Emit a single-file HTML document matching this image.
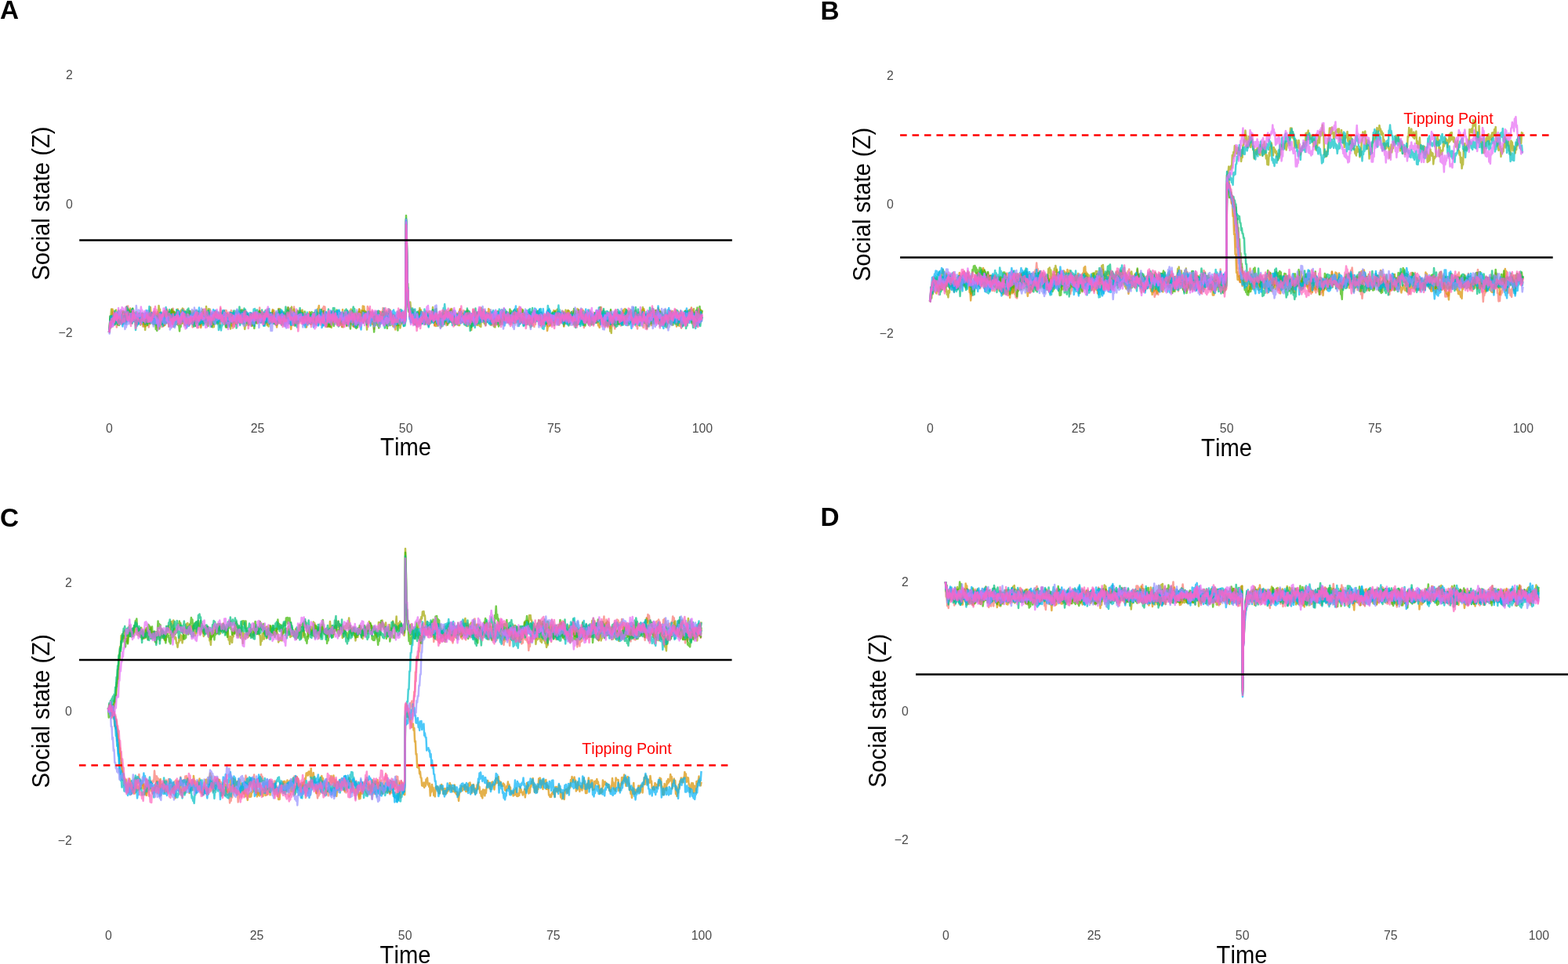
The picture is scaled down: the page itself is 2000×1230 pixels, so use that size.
<!DOCTYPE html>
<html lang="en"><head><meta charset="utf-8"><title>Social state simulations</title>
<style>
html,body{margin:0;padding:0;background:#fff}
body{width:2000px;height:1230px;overflow:hidden}
svg{display:block;font-family:"Liberation Sans", sans-serif;font-kerning:none}
.tr path{fill:none;stroke-width:2.50px;stroke-opacity:.7;stroke-linejoin:round;stroke-linecap:butt;vector-effect:non-scaling-stroke}
.tk{font-size:15.85px;fill:#4d4d4d}
.ax{font-size:29.2px;fill:#000;font-kerning:none}
.lab{font-size:33.3px;font-weight:bold;fill:#000}
.tp{font-size:19.6px;fill:#ff0000;font-kerning:none}
.hk{stroke:#000;stroke-width:2.55px;fill:none}
.hr{stroke:#ff0000;stroke-width:2.55px;fill:none;stroke-dasharray:8.6 6.85}
</style></head>
<body>
<svg width="2000" height="1230" viewBox="0 0 2000 1230">
<rect width="2000" height="1230" fill="#fff"/>
<g id="panelA">
<g class="tr" transform="translate(139.00 259.60) scale(0.7565 0.50)">
<path stroke="#F8766D" d="M0 329l1-8 1-30 1 2 1-4 1 14 1-11 1 3 1-6 1 10 1-10 1 13 1-3 1 17 1-20 1 2 1-25 1 7 1-5 1 22 1-7 1 8 1-4 1 9 1-28 1 19 1-5 1 4 1-11 1 9 1-28 1 10 1-11 1 25 1-7 1 10 1-12 1 8 1-9 1 21 1-14 1 6 1-2 1 11 1-3 1 6 1-14 1 3 1 0 1 14 1-13 1 6 1-9 1 13 1-13 1 10 1-5 1 20 1-16 1 10 1-26 1 2 1-5 1 17 1-9 1 13 1-1 1 17 1-16 1 8 1-15 1 9 1-10 1 10 1-21 1 21 1-19 1 15 1-8 1 18 1-4 1 12 1-29 1 14 1-16 1 4 1-5 1 13 1-18 1 36 1-4 1 3 1-27 1 15 1-4 1 12 1-9 1 0 1-31 1 9 1-2 1 13 1 0 1 8 1-15 1 16 1-27 1 2 1-6 1 30 1-6 1 0 1-13 1 6 1-5 1 8 1-13 1 13 1-9 1 17 1-21 1 19 1-3 1 6 1-22 1 10 1-15 1 21 1-16 1 20 1-12 1 6 1-5 1 2 1-13 1 7 1 0 1 13 1-6 1 20 1-7 1 16 1-17 1 8 1-12 1 5 1-6 1 19 1-18 1 22 1-9 1 9 1-16 1 1 1-8 1 19 1-30 1 5 1-1 1 7 1-17 1 6 1-6 1 22 1-13 1 7 1-7 1 6 1-13 1 18 1-16 1 4 1-6 1 10 1-3 1 9 1-14 1 13 1-18 1 7 1-6 1 25 1-18 1 7 1-12 1 19 1-9 1 0 1-21 1 15 1-3 1 18 1-10 1 5 1-11 1 3 1-12 1 6 1-6 1 10 1-1 1 16 1 0 1 13 1-27 1 4 1-15 1 16 1-5 1 34 1-14 1 11 1-10 1 2 1-12 1 0 1-15 1 11 1-9 1 17 1-16 1 11 1-12 1 14 1-11 1 13 1-6 1 14 1-23 1 6 1-13 1 12 1-11 1 11 1-5 1 20 1-3 1 3 1-5 1 6 1-6 1 3 1-7 1 9 1-8 1 7 1-11 1 7 1-12 1 18 1-21 1 13 1-12 1 5 1-23 1 27 1-5 1 7 1-16 1 11 1-8 1 23 1-12 1 13 1-17 1 12 1-6 1 14 1-9 1 3 1-10 1 12 1-22 1 18 1-22 1 16 1-7 1 11 1-11 1 18 1-23 1 6 1-1 1 11 1-3 1 0 1-26 1 7 1-6 1 14 1-9 1 24 1-11 1 7 1-3 1 2 1-5 1 14 1-5 1 8 1-18 1 5 1-29 1 18 1 0 1 9 1-5 1 14 1-8 1 6 1-16 1 5 1-24 1 26 1-2 1 10 1-11 1 14 1-24 1 22 1-20 1 7 1-13 1 18 1-17 1 10 1-1 1 15 1-11 1 17 1-16 1 15 1-9 1 10 1-14 1 0 1-8 1 11 1-4 1 19 1-22 1 7 1-10 1 3 1-1 1 11 1-9 1 16 1-2 1 6 1-15 1 2 1-16 1 11 1-5 1 8 1-10 1 10 1-10 1 3 1-17 1 9 1-14 1 18 1-17 1 24 1-3 1 14 1 0 1 15 1-25 1 0 1-11 1 21 1-6 1 3 1-20 1 10 1-9 1 13 1-6 1 18 1-11 1 12 1-13 1 14 1-5 1 2 1-11 1 19 1-8 1 3 1-15 1 26 1-5 1 6 1-15 1 8 1-20 1 2 1-6 1 28 1-22 1 3 1-9 1 0 1-11 1 15 1-6 1 26 1-8 1 12 1-13 1 15 1-22 1 1 1-9 1 6 1-9 1 18 1-20 1 1 1-11 1 11 1-2 1 5 1-6 1 10 1-13 1 13 1-2 1 9 1-12 1 7 1-13 1 15 1-29 1 15 1-10 1 20 1-11 1 25 1-7 1 13 1-15 1 15 1-1 1 14 1-18 1 7 1-17 1 1 1-18 1 22 1-18 1 14 1-3 1 0 1-14 1 14 1-15 1 13 1-22 1 8 1-4 1 25 1-11 1 11 1-21 1 22 1 0 1 15 1-12 1 6 1-9 1 3 1-11 1 12 1-18 1 4 1-3 1 30 1-8 1 1 1-7 1 0 1-4 1 10 1-15 1 13 1-19 1 14 1-11 1 4 1-3 1 12 1-12 1 6 1-15 1 12 1-4 1-244 1 66 1 125 1 0 1 28 1-1 1 27 1-13 1 16 1-11 1 12 1-18 1 14 1-18 1 20 1-6 1 16 1-8 1 14 1-17 1 5 1-12 1 9 1-20 1 18 1-6 1 19 1-22 1 13 1-3 1 15 1-11 1 14 1-21 1 4 1-17 1 14 1-9 1 6 1-3 1 8 1-5 1 8 1-15 1 16 1-4 1 8 1-6 1 19 1-15 1 5 1-10 1 9 1-10 1 8 1-2 1 12 1-3 1 11 1-25 1 5 1-6 1 18 1-16 1 9 1-7 1 12 1 0 1 4 1-14 1 0 1-7 1 16 1-16 1 8 1-29 1 15 1-7 1 14 1-6 1 21 1-11 1 4 1-2 1 4 1-21 1 22 1-17 1 12 1-21 1 3 1-10 1 21 1-6 1 5 1-6 1 12 1-22 1 11 1-8 1 16 1-10 1 20 1-9 1 7 1-18 1 9 1-13 1 17 1-8 1 11 1-16 1 5 1-17 1 12 1-6 1 35 1-6 1 4 1-25 1 12 1-19 1 17 1-16 1 13 1 0 1 9 1-14 1 3 1-18 1 19 1-2 1 10 1-10 1 5 1-14 1 14 1-15 1 21 1-10 1 9 1-13 1 16 1 0 1 10 1-17 1 13 1-20 1 14 1-23 1 18 1-16 1 5 1-9 1 8 1-1 1 20 1-15 1 16 1-13 1 3 1-4 1 9 1-13 1 13 1-3 1 1 1-15 1 10 1-12 1 15 1-2 1 9 1-11 1 11 1-21 1 11 1-7 1 7 1-5 1 6 1-9 1 15 1-16 1 22 1-2 1 1 1-23 1 16 1-28 1 9 1-14 1 17 1-13 1 29 1-14 1 8 1-8 1 18 1-16 1 3 1-4 1 13 1-16 1 13 1-4 1 9 1-17 1 13 1-3 1 13 1-18 1 13 1-13 1 16 1-2 1 14 1-21 1 15 1-31 1 3 1-2 1 14 1-13 1 12 1-10 1 15 1-17 1 14 1-15 1 21 1-2 1 8 1-10 1 8 1-18 1 20 1-16 1 22 1-21 1 16 1-7 1 10 1-3 1 4 1-21 1 2 1-4 1 15 1-13 1 9 1-8 1 8 1-11 1 6 1-15 1 10 1-1 1 11 1-18 1 6 1-7 1 13 1-19 1 19 1-1 1 21 1-19 1 5 1-15 1 14 1-11 1 9 1-17 1 11 1-3 1 23 1-20 1 6 1-19 1 9 1-11 1 14 1-5 1 13 1-10 1 9 1-9 1 0 1-7 1 5 1-9 1 24 1-12 1 4 1-22 1 12 1-12 1 30 1-5 1 22 1-23 1 8 1-19 1 13 1-14 1 13 1-13 1 3 1-13 1 4 1 0 1 10 1-5 1 13 1-4 1 0 1-11 1 10 1-9 1 7 1-1 1 19 1-19 1 1 1-7 1 11 1-21 1 6 1-11 1 26 1 0 1 4 1-10 1 9 1-4 1 16 1-8 1 3 1-23 1 21 1-4 1 16 1-4 1 12 1-26 1 4 1-11 1 15 1-12 1 20 1-2 1 13 1-15 1 2 1-11 1 11 1-15 1 16 1-18 1 19 1-6 1 9 1-13 1 10 1-32 1 24 1-11 1 15 1-8 1 0 1-13 1 22 1 0 1 5 1-11 1 7 1-17 1 13 1-9 1 5 1-19 1 15 1-13 1 11 1-17 1 9 1-12 1 40 1-8 1 15 1-23 1 10 1-8 1 8 1-14 1 3 1-2 1 16 1-3 1 10 1-20 1 7 1-21 1 7 1-2 1 3 1-9 1 14 1-4 1 12 1-24 1 13 1-7 1 12 1-2 1 11 1-13 1 14 1-18 1 6 1-8 1 8 1-12 1 9 1-2 1 11 1-15 1 13 1-5 1 11 1-14 1 2 1-5 1 10 1-13 1 4 1-11 1 26 1-2 1 14 1-29 1 7 1-11 1 11 1-10 1 21 1-11 1 0 1-5 1 9 1-4 1 8 1-17 1 3 1-8 1 25 1-9 1 1 1-7 1 15 1-25 1 21 1-10 1 2 1-3 1 17 1-21 1 8 1-5 1 10 1-15 1 11 1-15 1 13 1-5 1 15 1-12 1 3 1-20 1 11 1-13 1 14 1-15 1 12 1-5 1 18 1-3 1 0 1-10 1 6 1-1 1 26 1-22 1 15 1-21 1 3 1-5 1 3 1-3"/>
<path stroke="#D89000" d="M0 329l1-7 1-12 1 7 1-21 1 10 1-36 1 8 1-3 1 12 1-3 1 12 1-11 1 4 1-4 1 17 1-15 1 7 1-11 1 9 1-13 1 10 1-14 1 6 1-6 1 20 1-13 1 4 1-5 1 22 1-20 1 2 1-14 1 9 1-5 1 4 1-11 1 33 1-17 1 14 1-28 1 22 1-9 1 8 1-7 1 26 1-11 1 6 1-12 1 11 1-12 1 6 1-12 1 4 1-6 1 19 1-7 1 12 1-11 1 12 1-13 1 18 1-25 1 23 1-11 1 1 1-22 1 6 1-12 1 10 1-19 1 21 1-4 1 10 1-3 1 18 1-28 1 13 1-14 1 18 1-4 1 10 1-25 1 22 1-3 1 10 1-15 1 11 1-3 1 6 1-13 1 10 1-7 1 17 1-11 1 0 1-17 1 14 1-9 1 10 1 0 1 14 1-4 1 2 1-27 1 10 1-21 1 8 1-7 1 8 1-6 1 19 1-8 1 15 1-17 1 1 1-16 1 25 1-15 1 17 1-9 1 11 1-11 1 9 1-16 1 25 1-3 1 7 1-14 1 2 1-12 1 6 1-4 1 16 1-19 1 2 1-12 1 12 1-8 1 17 1-14 1 12 1-20 1 33 1-11 1 17 1-17 1 10 1-3 1 0 1-10 1 6 1-17 1 21 1-10 1 24 1-18 1 0 1-7 1 10 1-14 1 12 1-14 1 17 1-23 1 16 1-15 1 25 1-13 1 6 1-13 1 13 1-7 1 18 1-13 1 13 1-24 1 8 1-8 1 6 1-11 1 13 1-3 1 8 1-4 1 10 1-10 1 5 1-15 1 1 1-7 1 4 1-8 1 13 1-14 1 22 1-1 1 3 1-15 1 12 1-13 1 16 1-10 1 14 1-8 1 4 1-7 1 21 1-17 1 13 1-10 1 8 1-24 1 7 1-12 1 11 1-13 1 18 1-7 1 11 1 0 1 10 1-15 1 5 1-26 1 16 1-6 1 12 1-6 1 8 1-19 1 22 1-13 1 17 1-5 1 14 1-8 1 2 1-13 1 8 1-18 1 7 1-4 1 20 1-12 1 20 1-16 1 8 1-22 1 14 1-11 1 19 1-28 1 5 1-8 1 28 1-15 1 5 1-5 1 17 1-10 1 2 1-12 1 5 1-2 1 18 1-17 1 11 1-10 1 7 1-18 1 14 1-11 1 5 1-4 1 9 1-20 1 12 1-10 1 16 1-5 1 25 1-11 1 18 1-17 1 3 1-6 1 8 1-6 1 2 1-13 1 14 1-12 1 13 1-25 1 16 1-6 1 4 1-1 1 7 1-25 1 28 1-1 1 5 1-17 1 13 1-1 1 22 1-20 1 9 1-13 1 8 1-10 1 5 1-7 1 6 1-1 1 6 1-6 1 3 1-19 1 11 1-17 1 16 1-4 1 9 1-5 1 6 1-8 1 9 1-7 1 15 1-16 1 25 1-10 1 2 1-20 1 1 1-12 1 21 1-8 1 19 1-16 1 0 1-3 1 7 1-18 1 16 1-4 1 8 1-12 1 15 1-33 1 0 1-8 1 19 1-3 1 9 1-8 1 9 1-7 1 17 1-12 1 19 1-13 1 10 1 0 1 7 1-8 1 9 1-7 1 13 1-27 1 3 1-13 1 13 1-8 1 14 1-1 1 4 1-3 1 11 1-19 1 4 1-8 1 24 1-16 1 14 1-7 1 11 1-14 1 12 1-19 1 7 1-26 1 22 1-6 1 3 1-11 1 13 1-6 1 17 1-5 1 6 1-20 1 19 1-12 1 16 1-24 1 6 1-15 1 20 1-3 1 22 1-15 1 10 1-23 1 13 1-20 1 7 1-8 1 15 1-22 1 14 1-4 1 16 1-16 1 14 1-32 1 14 1-13 1 19 1-5 1 20 1-9 1 12 1-18 1 10 1 0 1 10 1-20 1 13 1-1 1 10 1-9 1 13 1-15 1 1 1-16 1 16 1-11 1 17 1-8 1 0 1-17 1 18 1-18 1 20 1-10 1 18 1-13 1 6 1-7 1 7 1-4 1 7 1-10 1 8 1-8 1 4 1-9 1 14 1-3 1 13 1-11 1 4 1-14 1 11 1-5 1 21 1-11 1 2 1-15 1 32 1-21 1 0 1-5 1 15 1-6 1 5 1-9 1 3 1-15 1 15 1-7 1 3 1-11 1 17 1-17 1 16 1-20 1-244 1 55 1 130 1-1 1 37 1-3 1 28 1 0 1 7 1-20 1 21 1-10 1 15 1 0 1 7 1-6 1 7 1-19 1 8 1-4 1 7 1-19 1 16 1-15 1 4 1-14 1 22 1-11 1 13 1-10 1 15 1-14 1 11 1-16 1 14 1-10 1 5 1-12 1 0 1-4 1 17 1-7 1 10 1-2 1 4 1-24 1 27 1-13 1 24 1-17 1 19 1-5 1 4 1-18 1 7 1-17 1 17 1-7 1 12 1-7 1 1 1-17 1 12 1-13 1 18 1-14 1 7 1-4 1 16 1-15 1 14 1-3 1 3 1-12 1 3 1-17 1 13 1-11 1 14 1-4 1 9 1-12 1 24 1-13 1 10 1-25 1 4 1-6 1 12 1-9 1 4 1-18 1 22 1-14 1 19 1-10 1 14 1-12 1 3 1-6 1 13 1-18 1 9 1-18 1 24 1-5 1 10 1-15 1 7 1-10 1 20 1-13 1 10 1-8 1 4 1-15 1 19 1-12 1 15 1-23 1 7 1-2 1 8 1-9 1 2 1-11 1 21 1-22 1 14 1-7 1 17 1-2 1 2 1-22 1 5 1-3 1 21 1-5 1 0 1-25 1 7 1-5 1 24 1 0 1 2 1-12 1 9 1-8 1 15 1-8 1 10 1-7 1 10 1-12 1 15 1-21 1 12 1-17 1 18 1-3 1 5 1-11 1 10 1-11 1 6 1-2 1 7 1-9 1 2 1-17 1 7 1-7 1 26 1-4 1 4 1-14 1 18 1-12 1 7 1-19 1 3 1-6 1 23 1-15 1 3 1-3 1 14 1-33 1 18 1-10 1 31 1-23 1 20 1-7 1 1 1-30 1 16 1-11 1 19 1-7 1 18 1-7 1 10 1-6 1 5 1-22 1 8 1-11 1 11 1-13 1 8 1-10 1 24 1-18 1 7 1-16 1 18 1-10 1 2 1-8 1 12 1-5 1 15 1 0 1 8 1-21 1 10 1 0 1 12 1-9 1 1 1-13 1 9 1-1 1 4 1-8 1 7 1-9 1 36 1-11 1 0 1-16 1 15 1-11 1 6 1-20 1 5 1-3 1 7 1-24 1 13 1-8 1 10 1-3 1 14 1-8 1 15 1-16 1 9 1-9 1 6 1 0 1 6 1-25 1 12 1-13 1 11 1-4 1 2 1-4 1 9 1-9 1 3 1-11 1 16 1-3 1 2 1-8 1 19 1-6 1 5 1-17 1 28 1-10 1 2 1-15 1 11 1-20 1 16 1-24 1 15 1-6 1 17 1-15 1 17 1-14 1 8 1-7 1 5 1-15 1 10 1-7 1 21 1-19 1 8 1-8 1 14 1-5 1 9 1-13 1 18 1-10 1 14 1-13 1 12 1-18 1 15 1-13 1 9 1-9 1 8 1-11 1 12 1-1 1 15 1-3 1 8 1-12 1 0 1-16 1 17 1-15 1 0 1-10 1 15 1-10 1 3 1-6 1 20 1-6 1 11 1-18 1 13 1-17 1 9 1-21 1 20 1-2 1 16 1-23 1 20 1-12 1 9 1-19 1 14 1-1 1 10 1-24 1 15 1-14 1 7 1-12 1 14 1-11 1 18 1-16 1 6 1-18 1 7 1-9 1 8 1-6 1 27 1-3 1 3 1-1 1 8 1-5 1 1 1-19 1 13 1-14 1 2 1-6 1 21 1-16 1 18 1-12 1 4 1-3 1 13 1-17 1 8 1-6 1 16 1-16 1 8 1-7 1 0 1-18 1 3 1-4 1 34 1-18 1 3 1-5 1 14 1-16 1 5 1-5 1 9 1-3 1 17 1-25 1 32 1-16 1 4 1-13 1 4 1-2 1 8 1-7 1 4 1-15 1 5 1-16 1 17 1-12 1 15 1 0 1 15 1-8 1 7 1-11 1 18 1-15 1 4 1-3 1 12 1-8 1 2 1-10 1 15 1-12 1 12 1-11 1 7 1-3 1 12 1-16 1 9 1-17 1 14 1-10 1 8 1-8 1 24 1-19 1 5 1-16 1 28 1-10 1 11 1-8 1 13 1-26 1 12 1-18 1 8 1-10 1 4 1-14 1 14 1-1 1 12 1-7 1 3 1-23 1 14 1-15 1 10 1-15 1 13 1-1 1 20 1-11 1 13 1-9 1 9 1-11 1 0 1-7 1 10 1-19 1 11 1 0 1 2 1-14 1 9 1-7"/>
<path stroke="#A3A500" d="M0 329l1-3 1-38 1 1 1-19 1 15 1-7 1 22 1-10 1 3 1-8 1 22 1-35 1 16 1-8 1 22 1-13 1 13 1-11 1 12 1-14 1 0 1-13 1 14 1-5 1 10 1-3 1 9 1-10 1 12 1-10 1 1 1-7 1 1 1-10 1 14 1-8 1 4 1-4 1 22 1-24 1 17 1-16 1 4 1-8 1 5 1-7 1 21 1-16 1 9 1-8 1 14 1-5 1 18 1-9 1 5 1-25 1 7 1 0 1 26 1-10 1 19 1-22 1 0 1-22 1 15 1 0 1 6 1-17 1 12 1-14 1 22 1-8 1 6 1-17 1 8 1 0 1 6 1-14 1 10 1-12 1 4 1-4 1 2 1-23 1 10 1-1 1 31 1-7 1 15 1-10 1 4 1-5 1 13 1-14 1 9 1-29 1 3 1-7 1 18 1-4 1 27 1-38 1 23 1-2 1 0 1-17 1 22 1-11 1 12 1-2 1 5 1-12 1 14 1-15 1 15 1-24 1 9 1-3 1 14 1-19 1 8 1-21 1 8 1-12 1 19 1-12 1 19 1 0 1 16 1-12 1 5 1-5 1 10 1-21 1 12 1-15 1 9 1-18 1 11 1-2 1 10 1-15 1 14 1-16 1 4 1-1 1 17 1-10 1 5 1-7 1 19 1-7 1 9 1-7 1 6 1-29 1 14 1-5 1 11 1-5 1 2 1-3 1 3 1-30 1 20 1-8 1 6 1-12 1 12 1-11 1 28 1-10 1 13 1-8 1 23 1-2 1 1 1-29 1 7 1-15 1 16 1-7 1 21 1-28 1 20 1-4 1 20 1-23 1 7 1-13 1 8 1-7 1 13 1-11 1 7 1-7 1 13 1-21 1 34 1-17 1 3 1-11 1 9 1-3 1 23 1-11 1 3 1-18 1 4 1-4 1 6 1-10 1 4 1-3 1 17 1-17 1 14 1-13 1 11 1-19 1 8 1-19 1 11 1-3 1 22 1-6 1 12 1-4 1 16 1-13 1 3 1-13 1 0 1-14 1 26 1-19 1 15 1-6 1 10 1-9 1 12 1-29 1 8 1-12 1 20 1-8 1 1 1-11 1 16 1-17 1 23 1-5 1 0 1-6 1 9 1-14 1 2 1-5 1 10 1-10 1 9 1-6 1 20 1-10 1 5 1-25 1 33 1-8 1 11 1-21 1 14 1-15 1 0 1-11 1 8 1-15 1 21 1-16 1 27 1-10 1 2 1-20 1 5 1-3 1 3 1-14 1 1 1-1 1 26 1-10 1 25 1-20 1 7 1-6 1 17 1-19 1 10 1-14 1 15 1-17 1 17 1-9 1 16 1-31 1 11 1-17 1 2 1-8 1 23 1-11 1 6 1-12 1 17 1-5 1 17 1-21 1 2 1-7 1 11 1-7 1 13 1-15 1 19 1-15 1 3 1-10 1 12 1 0 1 23 1-22 1 21 1-20 1 8 1-11 1 17 1-7 1 2 1-9 1 16 1-14 1 9 1-2 1 2 1-13 1 23 1-4 1 2 1-12 1 16 1-8 1 4 1-14 1 10 1-16 1 8 1-2 1 9 1-8 1 9 1-18 1 9 1-13 1 11 1-7 1 20 1-4 1 16 1-20 1 10 1-5 1 12 1-10 1 12 1-5 1 8 1-33 1 18 1-15 1 6 1-16 1 19 1-9 1 8 1-9 1 12 1-4 1 13 1-5 1 4 1-10 1 12 1-6 1 13 1-22 1 7 1-12 1 10 1-8 1 10 1-7 1 12 1-31 1 12 1-8 1 20 1-15 1 18 1-31 1 18 1-12 1 9 1-4 1 33 1-14 1 16 1-14 1 5 1-20 1 12 1-16 1 11 1-18 1 10 1-3 1 7 1-17 1 18 1-9 1 8 1-16 1 15 1-14 1 18 1 0 1 29 1-24 1 2 1-14 1 4 1-13 1 17 1-15 1 21 1-7 1 3 1-1 1 14 1-12 1 8 1-10 1 6 1-11 1 8 1-9 1 23 1-13 1 3 1-12 1 4 1-14 1 9 1-12 1 16 1-11 1 17 1-18 1 17 1-8 1 12 1-11 1 13 1-28 1 5 1-9 1 18 1 0 1 17 1-18 1 11 1-2 1 7 1-5 1 7 1-11 1 15 1-21 1 12 1-5 1 8 1-4 1 17 1-10 1 0 1-11 1 3 1-8 1 10 1-6 1 2 1-13 1-236 1 56 1 126 1-1 1 46 1-7 1 11 1-28 1 20 1-5 1 8 1-4 1 33 1-10 1 8 1-10 1 8 1-3 1 16 1-17 1 3 1-24 1 12 1-20 1 17 1-3 1 24 1-13 1 8 1-13 1 11 1-8 1 3 1-17 1 26 1-23 1 29 1-9 1 5 1-18 1 14 1-16 1 1 1-9 1 11 1-22 1 18 1-3 1 15 1-10 1 4 1 0 1 19 1-12 1 0 1-11 1 20 1-19 1 10 1-14 1 7 1-6 1 5 1-13 1 17 1-16 1 13 1-11 1 8 1-9 1 22 1-22 1 1 1-4 1 12 1-14 1 12 1-15 1 19 1-5 1 19 1-12 1 2 1-1 1 8 1-7 1 14 1-10 1 15 1-5 1 5 1-19 1 11 1-2 1 3 1-23 1 20 1-16 1 10 1-3 1 19 1-26 1 13 1-14 1 29 1-21 1 0 1-3 1 19 1-13 1 28 1-30 1 12 1-9 1 6 1-14 1 4 1-7 1 17 1-7 1 16 1-5 1 3 1-4 1 8 1-7 1 9 1-48 1 15 1-1 1 22 1-8 1 12 1-6 1 0 1-18 1 16 1-17 1 15 1-4 1 7 1-8 1 11 1-15 1 20 1-5 1 4 1-9 1 0 1-11 1 29 1-29 1 7 1-7 1 6 1-18 1 13 1-10 1 15 1-14 1 22 1-17 1 10 1-5 1 0 1-9 1 25 1-11 1 8 1-13 1 3 1-5 1 13 1-4 1 9 1-13 1 0 1-5 1 7 1-11 1 20 1-7 1 10 1-19 1 8 1-20 1 16 1-5 1 9 1-6 1 10 1-11 1 2 1-10 1 13 1-14 1 11 1-10 1 26 1-13 1 2 1-2 1 10 1-16 1 3 1-6 1 15 1-6 1 7 1-23 1 21 1-8 1 23 1-24 1 13 1-9 1 3 1-16 1 14 1-2 1 7 1-20 1 2 1-7 1 22 1-8 1 14 1-9 1 3 1-11 1 12 1-7 1 11 1-10 1 9 1-5 1 14 1-10 1 6 1-9 1 7 1-23 1 13 1-11 1 12 1-9 1 10 1-14 1 22 1-7 1 7 1-28 1 16 1-18 1 3 1-6 1 17 1-11 1 34 1-20 1 6 1-9 1 9 1-15 1 17 1-3 1 19 1-10 1 3 1-35 1 8 1-1 1 9 1-15 1 10 1-8 1 13 1-7 1 15 1-11 1 13 1-7 1 2 1-16 1 4 1-7 1 35 1-7 1 9 1-8 1 5 1-14 1 2 1 0 1 6 1-11 1 2 1-16 1 20 1-4 1 9 1-15 1 15 1-12 1 13 1-10 1 8 1-9 1 16 1-8 1 6 1-19 1 7 1-2 1 17 1-18 1 18 1-18 1 6 1-18 1 11 1-5 1 14 1-5 1 6 1-13 1 11 1-14 1 22 1-6 1 3 1-22 1 2 1-10 1 15 1-11 1 19 1-15 1 11 1-10 1 17 1-8 1 8 1-7 1 34 1-9 1 14 1-33 1 0 1-11 1 10 1-11 1 10 1-4 1 7 1-5 1 14 1-28 1 27 1-8 1 9 1-8 1 0 1-19 1 5 1-12 1 21 1 0 1 0 1-10 1 11 1-13 1 3 1-11 1 20 1-7 1 9 1-4 1 8 1-17 1 15 1-12 1 22 1-13 1 8 1-22 1 10 1-3 1 14 1-17 1 16 1-13 1 3 1-14 1 20 1-12 1 0 1-13 1 13 1-21 1 14 1-6 1 20 1 0 1 9 1-3 1 13 1-14 1 14 1-13 1 13 1-19 1 2 1-10 1 16 1-10 1 11 1-22 1 14 1-10 1 2 1-13 1 16 1-6 1 16 1-16 1 9 1-14 1 3 1-4 1 16 1-3 1 15 1-21 1 13 1-3 1 19 1-27 1 14 1-15 1 10 1-4 1 2 1-17 1 19 1-7 1 17 1-25 1 12 1-17 1 17 1-12 1 19 1-11 1 3 1-19 1 18 1-6 1 8 1-16 1 10 1-4 1 12 1-4 1 12 1-15 1 23 1-24 1 7 1-10 1 19 1-27 1 18 1-7 1 12 1-16 1 20 1-12 1 7 1-13 1 9 1-6 1 19 1-16 1 1 1-22 1 21 1-2 1 19 1-9 1 14 1-24 1 10 1-8 1 17 1-23 1 15 1-13 1 7 1-4"/>
<path stroke="#39B600" d="M0 329l1-12 1-22 1 6 1-14 1 15 1-8 1 7 1-10 1 19 1-19 1 11 1-16 1 15 1-2 1 11 1-10 1 11 1-25 1 11 1-7 1 5 1-12 1 9 1-13 1 8 1-11 1 12 1 0 1 14 1-11 1 5 1-21 1 7 1-9 1 21 1-9 1 6 1-14 1 6 1-15 1 21 1-7 1 9 1-6 1 13 1-8 1 11 1-4 1 10 1-25 1 8 1-10 1 21 1-11 1 11 1-18 1 12 1-7 1 15 1-7 1 2 1-3 1 3 1-6 1 19 1-24 1 16 1-2 1 5 1-23 1 14 1-13 1 20 1-7 1 12 1-20 1 16 1-9 1 25 1-9 1 13 1-17 1 3 1-11 1 20 1-16 1 0 1-11 1 15 1-19 1 10 1-9 1 3 1-7 1 19 1-9 1 9 1-9 1 7 1-17 1 4 1-10 1 7 1-13 1 10 1-14 1 17 1-9 1 13 1-14 1 18 1-9 1 15 1-16 1 13 1-12 1 25 1-1 1 16 1-22 1 11 1-23 1 14 1-13 1 8 1-16 1 14 1-10 1 5 1-18 1 22 1-9 1 12 1-10 1 18 1-21 1 8 1-14 1 13 1-6 1 13 1-11 1 5 1-8 1 7 1-6 1 3 1-18 1 19 1 0 1 7 1-4 1 13 1-9 1 7 1-16 1 0 1-20 1 36 1-9 1 7 1-15 1 11 1-5 1 14 1-20 1 23 1-20 1 12 1-10 1 11 1-6 1 15 1-26 1 13 1-14 1 12 1-12 1 1 1-2 1 10 1-2 1 10 1-13 1 9 1-13 1 7 1-7 1 12 1-14 1 10 1-5 1 3 1-10 1 14 1 0 1 18 1-22 1 22 1-8 1 3 1-16 1 0 1-6 1 7 1-14 1 18 1-14 1 7 1-15 1 10 1-7 1 12 1-5 1 10 1-8 1 13 1-12 1 3 1-13 1 16 1-17 1 11 1-6 1 6 1-12 1 23 1-29 1 2 1 0 1 25 1-5 1 9 1-22 1 12 1-7 1 20 1-11 1 9 1-7 1 14 1-9 1 3 1-7 1 20 1-19 1 5 1-12 1 13 1-6 1 3 1-16 1 12 1-24 1 19 1-1 1 11 1-14 1 10 1-2 1 4 1-23 1 2 1-8 1 18 1-4 1 3 1-20 1 17 1-6 1 26 1-14 1 6 1-18 1 14 1-15 1 16 1-6 1 17 1-11 1 13 1-11 1 12 1-7 1 1 1-26 1 4 1-5 1 28 1-12 1 15 1-11 1 0 1-8 1 10 1-13 1 6 1-11 1 7 1-5 1 1 1-18 1 12 1-2 1 12 1-20 1 20 1-3 1 12 1-4 1 14 1-7 1 12 1-24 1 10 1-5 1 13 1-9 1 9 1-18 1 5 1-14 1 17 1-8 1 8 1-17 1 15 1-10 1 2 1-10 1 16 1-2 1 11 1-9 1 2 1-3 1 2 1-6 1 18 1-26 1 4 1-6 1 10 1-4 1 5 1-9 1 15 1-4 1 1 1-14 1 27 1-18 1 7 1-2 1 7 1-18 1 14 1-23 1 15 1-4 1 7 1-14 1 23 1-8 1 8 1-10 1 7 1-10 1 29 1-23 1 16 1-2 1 10 1-22 1 16 1-10 1 7 1 0 1 7 1-22 1 5 1-1 1 6 1-29 1 20 1-5 1 9 1-11 1 4 1-7 1 24 1-25 1 0 1-2 1 15 1-13 1 4 1-3 1 21 1-8 1 17 1-15 1 10 1-6 1 11 1-9 1 17 1-30 1 9 1-8 1 11 1-11 1 1 1-7 1 21 1-5 1 18 1-7 1 4 1-20 1 9 1-12 1 10 1-9 1 7 1-10 1 4 1-19 1 9 1-7 1 8 1-1 1 17 1-7 1 15 1-14 1 2 1-15 1 15 1-7 1 8 1-8 1 3 1-5 1 13 1-1 1 27 1-27 1 10 1-16 1 11 1-1 1 7 1-15 1 21 1-19 1 10 1-22 1 12 1-5 1 6 1-12 1 9 1-20 1 10 1 0 1 22 1-3 1 13 1-20 1 3 1-9 1 18 1-16 1 16 1-29 1 9 1-3 1 9 1-10 1 12 1-2 1 10 1-11 1 8 1-6 1 26 1-23 1 0 1-11 1 12 1-15 1 18 1-12 1 7 1-8 1 9 1-12 1 0 1-30 1-228 1 59 1 115 1 0 1 61 1-2 1 23 1-7 1 22 1-23 1 9 1-10 1 17 1-11 1 22 1-9 1 0 1-14 1 8 1-14 1 12 1-9 1 14 1-6 1 15 1-10 1 5 1-21 1 28 1-12 1 0 1-9 1 11 1-12 1 16 1-11 1 6 1-2 1 15 1-19 1 16 1-15 1 12 1-11 1 2 1-5 1 10 1-3 1 8 1-18 1 6 1-21 1 30 1-6 1 9 1-8 1 11 1-8 1 10 1-3 1 10 1-26 1 10 1-5 1 11 1-21 1 14 1-12 1 13 1-6 1 18 1-12 1 5 1-25 1 13 1-17 1 19 1-19 1 6 1-5 1 14 1-2 1 18 1-10 1 7 1-12 1 15 1-6 1 2 1-12 1 6 1-15 1 19 1-9 1 10 1-6 1 4 1-11 1 14 1-9 1 9 1-25 1 5 1-6 1 8 1-9 1 25 1-18 1 18 1 0 1 17 1-30 1 20 1-10 1 14 1-11 1 0 1-14 1 11 1-16 1 18 1-5 1 12 1-13 1 0 1-18 1 21 1-15 1 4 1-2 1 14 1-11 1 15 1-3 1 14 1-12 1 4 1-21 1 15 1-9 1 0 1-4 1 16 1-23 1 9 1-4 1 16 1-4 1 20 1-13 1 6 1-17 1 14 1-12 1 8 1-3 1 17 1-12 1 0 1-16 1 16 1-4 1 7 1-14 1 11 1-8 1 4 1-13 1 7 1-16 1 22 1-6 1 2 1-10 1 14 1-28 1 10 1-6 1 21 1-16 1 11 1-16 1 8 1-11 1 12 1-4 1 9 1-8 1 18 1-11 1 14 1-12 1 7 1-11 1 6 1-10 1 17 1-26 1 20 1-11 1 15 1-12 1 10 1-1 1 8 1-7 1 12 1-6 1 10 1-5 1 11 1-12 1 1 1-15 1 1 1-15 1 10 1-11 1 6 1-3 1 10 1-13 1 19 1-14 1 9 1-4 1 13 1-19 1 21 1-13 1 10 1 0 1 7 1-16 1 11 1-5 1 13 1-7 1 0 1-20 1 2 1-3 1 16 1-14 1 12 1-12 1 0 1-3 1 14 1-6 1 2 1-12 1 12 1-5 1 10 1-11 1 26 1-16 1 4 1-9 1 8 1-4 1 10 1-9 1 4 1-11 1 13 1-18 1 24 1-14 1 10 1-3 1 9 1-16 1 10 1-12 1 18 1-21 1 12 1-14 1 12 1-5 1 9 1-30 1 20 1-5 1 6 1-8 1 14 1-7 1 0 1-17 1 22 1-12 1 0 1-6 1 9 1 0 1 19 1-10 1 17 1-8 1 9 1-9 1 0 1-20 1 13 1-7 1 3 1-8 1 11 1-3 1 7 1-6 1 6 1-13 1 8 1-7 1 4 1-5 1 18 1-11 1 2 1-18 1 13 1-9 1 4 1-20 1 25 1-4 1 13 1-2 1 12 1-7 1 7 1-9 1 12 1-16 1 9 1-10 1 18 1-25 1 5 1-14 1 11 1-19 1 37 1-5 1 7 1-18 1 13 1-25 1 15 1-9 1 17 1-17 1 0 1-9 1 18 1-13 1 6 1-7 1 19 1-2 1 5 1-10 1 8 1-9 1 9 1-13 1 15 1-9 1 11 1-9 1 7 1-17 1 15 1-8 1 3 1-12 1 11 1-1 1 3 1-13 1 4 1-1 1 13 1-10 1 9 1-8 1 10 1-18 1 18 1-6 1 17 1-24 1 10 1-12 1 13 1-7 1 2 1-6 1 13 1-17 1 22 1 0 1 13 1-23 1 13 1-7 1 7 1-13 1 11 1-10 1 9 1-18 1 9 1-2 1 7 1-22 1 10 1-17 1 13 1-8 1 11 1-2 1 20 1-17 1 5 1-19 1 16 1-14 1 16 1-8 1 15 1-6 1 4 1-27 1 23 1-4 1 21 1-17 1 2 1-12 1 18 1-12 1 3 1-17 1 18 1-6 1 21 1-25 1 4 1 0 1 10 1-21 1 19 1-10 1 4 1-6 1 15 1-5 1 0 1-3 1 17 1-7 1 11 1-20 1 2 1-10 1 8 1-18 1 13 1-10 1 19 1-22 1 8 1-2 1 12 1-11 1 16 1-9 1 14 1-15 1 4 1-14 1 10 1-4 1 14 1-25 1 4 1-11 1 22 1-12 1 2 1-15 1 21 1-7 1 7 1-12"/>
<path stroke="#00BF7D" d="M0 329l1-9 1-32 1 22 1-16 1 5 1-7 1 4 1-12 1 4 1-14 1 7 1-2 1 25 1-10 1 0 1-19 1 22 1-8 1 6 1-1 1 10 1-9 1 13 1-10 1 1 1-20 1 12 1-13 1 2 1-16 1 9 1-5 1 24 1-10 1 16 1-16 1 4 1-15 1 5 1-7 1 15 1-6 1 15 1-9 1 19 1-9 1 15 1-13 1 1 1-12 1 10 1-4 1 5 1-9 1 15 1-7 1 8 1-9 1 7 1-4 1 11 1-11 1 7 1-10 1 13 1-11 1 2 1-17 1 20 1-15 1 4 1-11 1 8 1-4 1 10 1-16 1 28 1-7 1 11 1-6 1 8 1-21 1 16 1-17 1 8 1-17 1 10 1-9 1 20 1-1 1 7 1-28 1 10 1-2 1 9 1-17 1 7 1-10 1 7 1-4 1 12 1-20 1 23 1-9 1 12 1-14 1 24 1-10 1 18 1-10 1 8 1-12 1 0 1-30 1 12 1 0 1 4 1-3 1 17 1-3 1 2 1-9 1 10 1-13 1 13 1-6 1 4 1-3 1 15 1-18 1 8 1-30 1 6 1-9 1 16 1-9 1 14 1-9 1 16 1-4 1 9 1-9 1 22 1-19 1 18 1-18 1 10 1-20 1 3 1-12 1 12 1-12 1 22 1-17 1 15 1-9 1 14 1-14 1 18 1-10 1 5 1-9 1 9 1-10 1 5 1-17 1 4 1-9 1 17 1-11 1 15 1-1 1 21 1-24 1 15 1-4 1 7 1-13 1 4 1-11 1 15 1-20 1 14 1-6 1 6 1-13 1 9 1-2 1 10 1-14 1 8 1-17 1 16 1-6 1 11 1-5 1 19 1-6 1 0 1-12 1 6 1-3 1 2 1-19 1 2 1-4 1 4 1-3 1 22 1-28 1 11 1-11 1 27 1-12 1 29 1-22 1 9 1-17 1 7 1-31 1 15 1 0 1 18 1-24 1 14 1-14 1 4 1-9 1 26 1-10 1 15 1-3 1 10 1-8 1 10 1-20 1 8 1-11 1 11 1-16 1 18 1-2 1 11 1-11 1 10 1-12 1 6 1-27 1 10 1-11 1 7 1-1 1 9 1-8 1 8 1-7 1 9 1-17 1 13 1-2 1 29 1-20 1 9 1-15 1 17 1-8 1 2 1-12 1 19 1-19 1 10 1-15 1 25 1-19 1 11 1-12 1 13 1-6 1 8 1-12 1 4 1-3 1 7 1-9 1 5 1-20 1 19 1-8 1 13 1-18 1 17 1-17 1 8 1-4 1 5 1-9 1 7 1-21 1 12 1-4 1 11 1-9 1 15 1-1 1 15 1-23 1 14 1-3 1 18 1-11 1 11 1-11 1 4 1-2 1 12 1-15 1 5 1-26 1 19 1-13 1 5 1-20 1 20 1-4 1 15 1-3 1 12 1-20 1 7 1-11 1 5 1-1 1 14 1-10 1 18 1-21 1 16 1-10 1 5 1-15 1 19 1-15 1 3 1 0 1 2 1-11 1 15 1-13 1 16 1-7 1 9 1-7 1 15 1-13 1 1 1-12 1 7 1-12 1 14 1-6 1 13 1-5 1 0 1-17 1 3 1-5 1 19 1-11 1 16 1-32 1 19 1-1 1 10 1-6 1 6 1-21 1 13 1-23 1 16 1-16 1 25 1-9 1 14 1-14 1 26 1-5 1 10 1-20 1 0 1-9 1 5 1-11 1 5 1 0 1 11 1-13 1 5 1-14 1 9 1-12 1 14 1-3 1 21 1-10 1 16 1-18 1 9 1-9 1 0 1-14 1 0 1-12 1 16 1-11 1 18 1 0 1 29 1-18 1 11 1-14 1 14 1-8 1 8 1-22 1 17 1-7 1 1 1-15 1 21 1-10 1 4 1-16 1 8 1-12 1 13 1-11 1 11 1-13 1 24 1-11 1 12 1-23 1 10 1-13 1 16 1-11 1 20 1-13 1 10 1-7 1 13 1-18 1 15 1-13 1 2 1-7 1 19 1-6 1 8 1-12 1 11 1-4 1 9 1-8 1 17 1-18 1 9 1-6 1 8 1-15 1 10 1-14 1 2 1-19 1 7 1-3 1 9 1 0 1 9 1-9 1 12 1-11 1 11 1-14 1 7 1-16 1 10 1-2 1 4 1-16 1 6 1-8 1 21 1-2 1 13 1-10 1 20 1-8 1 7 1-15 1-258 1 64 1 121 1 0 1 47 1-1 1 19 1-9 1 11 1-6 1 14 1-10 1 10 1-3 1 12 1-18 1 4 1-7 1 16 1-11 1 5 1-9 1 19 1-18 1 4 1-2 1 17 1-18 1 5 1-12 1 5 1-7 1 27 1-7 1 2 1-9 1 7 1-14 1 26 1-9 1 3 1-20 1 18 1-15 1 13 1-32 1 17 1-6 1 5 1-16 1 27 1-15 1 23 1 0 1 6 1-10 1 1 1-12 1 3 1-5 1 10 1-12 1 18 1-6 1 10 1-11 1 3 1-17 1 12 1-4 1 8 1-9 1 10 1-15 1 8 1 0 1 9 1-2 1 2 1-4 1 3 1-4 1 7 1-17 1 2 1-6 1 8 1 0 1 2 1-11 1 7 1-12 1 20 1 0 1 4 1-16 1 17 1-11 1 13 1-15 1 5 1-15 1 17 1-29 1 25 1-2 1 18 1-7 1 23 1-16 1 5 1-9 1 8 1-10 1 0 1-28 1 1 1-8 1 21 1-10 1 16 1-16 1 9 1-2 1 3 1-5 1 17 1-12 1 8 1-13 1 4 1-6 1 4 1-10 1 14 1-7 1 7 1-4 1 14 1-18 1 24 1-5 1 9 1-14 1 3 1-20 1 18 1-12 1 10 1-9 1 20 1-17 1 19 1-14 1 12 1-15 1 14 1-8 1 13 1-2 1 0 1-28 1 1 1-8 1 19 1-7 1 13 1-8 1 8 1-11 1 8 1-11 1 19 1-5 1 1 1-14 1 8 1-14 1 10 1-4 1 16 1-9 1 7 1-13 1 13 1-11 1 9 1-14 1 15 1-17 1 16 1-12 1 13 1-9 1 11 1-14 1 17 1-10 1 18 1-14 1 14 1-9 1 4 1-10 1 13 1-26 1 1 1-13 1 12 1-1 1 11 1-10 1 9 1-25 1 23 1-13 1 18 1-8 1 8 1-17 1 7 1 0 1 12 1-14 1 5 1 0 1 23 1-11 1 0 1-10 1 12 1-12 1 11 1-14 1 11 1-8 1 16 1-25 1 7 1-15 1 22 1 0 1 3 1-12 1 19 1-21 1 13 1-17 1 21 1-4 1 14 1-16 1 8 1-6 1 0 1-16 1 13 1-5 1 4 1-6 1 3 1-6 1 20 1-17 1 13 1-20 1 29 1-25 1 7 1-8 1 18 1-14 1 11 1-7 1 21 1-13 1 5 1-15 1 7 1-19 1 14 1-10 1 4 1-2 1 24 1-4 1 14 1-22 1 4 1-16 1 11 1-4 1 18 1-14 1 14 1-9 1 6 1-13 1 16 1-15 1 0 1-4 1 14 1-9 1 2 1-10 1 18 1-2 1 8 1-23 1 12 1-7 1 18 1-16 1 5 1-7 1 8 1-10 1 5 1-16 1 26 1-13 1 4 1-16 1 22 1-12 1 3 1-14 1 16 1-5 1 4 1-18 1 8 1-15 1 28 1-3 1 3 1-4 1 7 1-15 1 1 1-8 1 24 1-8 1 13 1-18 1 16 1-11 1 9 1-10 1 5 1-16 1 29 1-19 1 23 1-9 1 7 1-15 1 10 1-17 1 3 1-17 1 13 1-3 1 22 1-14 1 15 1-14 1 9 1-25 1 2 1-11 1 14 1-11 1 13 1-8 1 18 1-1 1 8 1-11 1 4 1-17 1 8 1-9 1 10 1-14 1 9 1-19 1 29 1-13 1 3 1-14 1 13 1 0 1 15 1-3 1 5 1-16 1 6 1-10 1 11 1-7 1 21 1-14 1 12 1-16 1 13 1-18 1 32 1-16 1 4 1-36 1 17 1-8 1 12 1-6 1 24 1-3 1 3 1-11 1 7 1-13 1 10 1-18 1 13 1-10 1 8 1-5 1 13 1-11 1 0 1-8 1 5 1 0 1 26 1-16 1 14 1-11 1 0 1-11 1 20 1-23 1 12 1-23 1 12 1 0 1 23 1-18 1 0 1-5 1 12 1-6 1 13 1-3 1 7 1-19 1 8 1-3 1 17 1-9 1 1 1-15 1 10 1-23 1 8 1 0 1 11 1-10 1 6 1-6 1 21 1-8 1 22 1-15 1 8 1-24 1 1 1-6 1 11 1-13 1 13 1-5 1 16 1-2 1 14 1-17 1 2 1-21 1 6 1-12 1 7 1-9 1 17 1-5 1 6 1-5 1 27 1-16 1 2 1-9"/>
<path stroke="#00BFC4" d="M0 329l1-6 1-11 1 2 1-20 1 7 1-8 1 16 1-16 1 15 1-13 1 13 1-16 1 10 1-10 1 14 1-21 1 5 1-6 1 8 1-4 1 13 1-12 1 17 1-22 1 10 1-5 1 18 1-7 1 8 1-21 1 8 1-20 1 15 1-11 1 18 1-8 1 10 1-18 1 5 1-1 1 12 1-8 1 13 1-5 1 26 1-15 1 5 1-21 1 7 1-14 1 22 1-20 1 14 1-8 1 9 1-22 1 7 1-6 1 18 1-16 1 12 1-14 1 18 1-11 1 6 1-11 1 2 1-22 1 31 1-5 1 16 1-16 1 12 1-15 1 2 1-3 1 21 1-10 1 5 1-13 1 17 1-20 1 9 1-1 1 8 1-12 1 16 1-10 1 13 1-11 1 16 1-31 1 6 1-13 1 10 1-20 1 23 1-9 1 12 1-8 1 2 1-2 1 6 1-5 1 15 1-15 1 13 1-1 1 9 1-14 1 7 1-8 1 19 1-21 1 12 1-11 1 10 1-24 1 19 1 0 1 10 1-8 1 5 1-19 1 15 1-9 1 5 1-17 1 25 1-12 1 20 1-12 1 8 1-12 1 19 1-10 1 5 1-24 1 19 1-8 1 8 1-18 1 22 1-27 1 6 1-12 1 18 1 0 1 6 1-11 1 24 1-15 1 11 1-25 1 6 1-2 1 18 1-3 1 11 1-16 1 13 1-11 1 6 1-7 1 6 1-23 1 15 1-4 1 10 1-7 1 15 1-18 1 5 1-13 1 17 1-2 1 5 1-6 1 11 1-19 1 18 1-30 1 16 1-2 1 33 1-12 1 5 1-5 1 13 1-13 1 1 1-9 1 5 1-25 1 12 1-10 1 3 1-3 1 12 1-13 1 13 1-3 1 2 1-18 1 18 1-1 1 10 1-12 1 10 1-12 1 8 1-9 1 2 1-10 1 11 1-7 1 9 1-10 1 13 1-3 1 16 1-16 1 1 1-8 1 18 1-7 1 8 1-20 1 11 1-27 1 14 1 0 1 14 1-8 1 8 1-4 1 14 1-9 1 5 1-21 1 5 1-4 1 8 1-23 1 8 1-9 1 30 1-6 1 2 1-5 1 13 1-12 1 10 1-5 1 5 1-20 1 8 1-7 1 16 1-11 1 11 1-9 1 23 1-15 1 6 1-23 1 11 1-19 1 7 1-10 1 22 1-11 1 3 1-3 1 23 1-12 1 16 1-15 1 10 1-12 1 11 1-4 1 4 1-7 1 8 1-8 1 11 1-19 1 4 1-19 1 8 1 0 1 17 1-14 1 25 1-12 1 18 1-20 1 12 1-15 1 12 1-8 1 9 1-13 1 17 1-2 1 5 1-29 1 20 1-9 1 3 1-15 1 13 1-5 1 10 1 0 1 18 1-15 1 3 1-17 1 14 1-1 1 0 1-14 1 13 1-11 1 3 1-3 1 22 1-10 1 7 1-22 1 6 1-13 1 24 1-20 1 8 1-4 1 13 1-4 1 8 1-10 1 1 1-13 1 10 1-11 1 7 1-13 1 6 1-8 1 16 1-8 1 9 1-3 1 8 1-6 1 3 1-11 1 11 1 0 1 21 1-20 1 11 1-7 1 4 1-13 1 8 1-1 1 12 1-17 1 12 1-17 1 16 1-9 1 11 1-18 1 0 1-9 1 16 1-11 1 8 1-8 1 9 1-13 1 7 1-10 1 15 1-13 1 17 1-12 1 12 1-5 1 16 1-20 1 23 1-20 1 4 1-8 1 18 1-3 1 12 1-19 1 10 1-15 1 12 1-3 1 5 1-13 1 15 1-9 1 18 1-24 1 4 1-4 1 14 1-10 1 15 1-17 1 6 1-11 1 15 1-10 1 7 1-6 1 6 1-1 1 8 1-11 1 14 1-23 1 7 1-6 1 14 1-1 1 12 1-18 1 8 1-10 1 7 1 0 1 17 1-18 1 3 1-13 1 10 1-2 1 2 1-6 1 3 1-6 1 6 1-8 1 0 1-9 1 9 1-2 1 21 1-11 1 3 1-11 1 2 1-8 1 3 1-12 1 17 1-5 1 15 1-15 1 9 1 0 1 8 1-27 1 14 1-9 1 14 1-5 1 15 1-11 1 20 1-8 1 8 1-20 1 17 1-7 1 10 1-15 1 11 1-10 1 7 1-12 1 0 1-2 1 5 1-5 1 14 1-4 1 16 1-19 1 3 1 0 1-251 1 53 1 116 1 0 1 51 1-5 1 12 1-6 1 29 1-24 1 17 1-21 1 13 1-8 1 8 1-11 1 15 1-1 1 11 1-18 1 27 1-11 1 2 1-8 1 6 1-9 1 6 1-6 1 22 1-15 1 8 1-29 1 21 1-13 1 10 1-2 1 22 1-8 1 16 1-23 1 5 1-6 1 9 1-6 1 6 1-15 1 6 1-12 1 13 1-22 1 20 1-4 1 5 1-1 1 6 1-2 1 9 1-7 1 13 1-21 1 10 1-11 1 1 1-22 1 6 1-16 1 17 1 0 1 14 1-6 1 14 1-3 1 0 1-15 1 18 1-6 1 13 1-13 1 21 1-10 1 5 1-22 1 25 1-18 1 6 1-4 1 9 1-12 1 4 1-6 1 9 1-10 1 3 1-14 1 22 1-9 1 3 1-2 1 19 1-1 1 0 1-9 1 14 1-13 1 8 1-9 1 0 1-23 1 17 1-7 1 8 1-4 1 10 1-9 1 21 1-14 1 19 1-22 1 8 1-3 1 7 1-16 1 5 1-6 1 17 1-11 1 6 1-24 1 10 1-7 1 12 1-10 1 10 1-14 1 10 1-9 1 15 1-7 1 9 1-12 1 12 1-12 1 12 1-4 1 14 1-14 1 0 1-20 1 15 1 0 1 13 1-8 1 1 1-9 1 0 1-8 1 14 1-21 1 13 1-9 1 3 1-6 1 13 1-1 1 9 1-23 1 15 1-13 1 10 1 0 1 21 1-22 1 8 1-7 1 18 1-11 1 14 1-16 1 10 1-10 1 19 1-19 1 10 1-7 1 7 1-15 1 9 1-4 1 17 1-7 1 17 1-26 1 3 1-9 1 9 1-2 1 15 1-13 1 23 1-15 1 8 1-20 1 8 1-12 1 11 1-6 1 12 1-18 1 9 1-21 1 14 1-5 1 13 1-6 1 13 1-10 1 10 1-16 1 5 1-4 1 17 1-10 1 10 1-15 1 13 1-27 1 16 1-18 1 24 1-1 1 27 1-8 1 10 1-12 1 4 1-24 1 14 1-15 1 5 1-32 1 8 1 0 1 30 1-13 1 7 1-7 1 3 1-2 1 3 1-11 1 14 1-4 1 5 1-15 1 15 1-14 1 0 1-20 1 18 1-7 1 20 1-2 1 6 1-13 1 24 1-14 1 0 1-1 1 7 1-15 1 11 1-9 1 24 1-15 1 9 1-16 1 11 1-7 1 13 1-10 1 3 1-8 1 6 1-4 1 15 1-20 1 8 1-10 1 15 1-4 1 2 1-2 1 10 1-18 1 26 1-9 1 0 1-3 1 10 1-15 1 4 1-5 1 5 1-19 1 10 1-7 1 13 1-12 1 14 1-5 1 7 1-24 1 10 1 0 1 13 1-10 1 7 1-9 1 2 1-6 1 10 1-15 1 5 1-6 1 9 1-21 1 11 1-4 1 16 1-10 1 15 1-4 1 3 1-18 1 24 1-13 1 2 1-12 1 14 1-15 1 15 1-11 1 16 1-4 1 15 1-20 1 3 1-7 1 10 1-7 1 0 1-7 1 10 1-4 1 10 1-2 1 1 1-22 1 9 1-6 1 13 1 0 1 16 1-3 1 11 1-25 1 10 1-12 1 11 1-7 1 7 1-18 1 19 1-8 1 12 1-10 1 20 1-21 1 6 1-23 1 13 1-12 1 22 1-29 1 30 1-1 1 15 1-20 1 4 1-15 1 7 1-4 1 28 1-18 1 7 1-7 1 7 1-5 1 4 1-9 1 9 1-7 1 11 1-19 1 10 1-16 1 16 1-11 1 14 1-3 1 4 1-17 1 21 1-20 1 7 1-3 1 5 1-20 1 22 1-10 1 3 1-4 1 13 1-19 1 20 1-20 1 12 1-7 1 14 1-9 1 11 1-9 1 16 1-14 1 13 1-14 1 11 1 0 1 17 1-27 1 0 1-6 1 22 1-11 1 0 1-20 1 14 1-2 1 20 1-13 1 0 1-14 1 3 1-3 1 22 1-14 1 6 1-20 1 17 1-8 1 9 1-9 1 10 1-10 1 16 1-6 1 22 1-8 1 5 1-35 1 5 1-3 1 16 1-14 1 6 1-11 1 20 1-6 1 4 1-21 1 24 1-12 1 14 1-18 1 18 1-2 1 8 1-7 1 22 1-13 1 6 1-19 1 4 1-15 1 15 1-13 1 4 1-3 1 15 1-11"/>
<path stroke="#00B0F6" d="M0 329l1-8 1-19 1 0 1-14 1 5 1-6 1 5 1-6 1 10 1-11 1 7 1-12 1 5 1-7 1 12 1-6 1 19 1-4 1 9 1-11 1 9 1-5 1 13 1-19 1 12 1-20 1 4 1-4 1 15 1-22 1 21 1-14 1 9 1-8 1 14 1-20 1 15 1-8 1 17 1-18 1 13 1-22 1 11 1 0 1 11 1-20 1 6 1-2 1 24 1-6 1 0 1-12 1 8 1-15 1 19 1-9 1 4 1-10 1 7 1-4 1 13 1-21 1 15 1-25 1 21 1-2 1 9 1-9 1 6 1-16 1 6 1-9 1 17 1 0 1 11 1-27 1 18 1 0 1 5 1-12 1 13 1-11 1 12 1-4 1 11 1-31 1 14 1-17 1 12 1-7 1 10 1-11 1 22 1-5 1 5 1-10 1 10 1-11 1 9 1-11 1 11 1-13 1 8 1-11 1 19 1-22 1 6 1-3 1 16 1-18 1 5 1-6 1 12 1-13 1 0 1-9 1 27 1-21 1 9 1-1 1 13 1-19 1 15 1-24 1 16 1-10 1 22 1-22 1 18 1-6 1 26 1-11 1 8 1-8 1 6 1-20 1 8 1-14 1 17 1-15 1 21 1-26 1 14 1-17 1 7 1-5 1 6 1-3 1 16 1-18 1 4 1-20 1 19 1 0 1 21 1-27 1 10 1-5 1 11 1-10 1 11 1-14 1 18 1-14 1 4 1-14 1 11 1-7 1 11 1-2 1 7 1-13 1 13 1-18 1 5 1-12 1 21 1-18 1 4 1-5 1 17 1-3 1 10 1-4 1 9 1-18 1 10 1-15 1 13 1-8 1 1 1-12 1 11 1-11 1 12 1-6 1 27 1-14 1 13 1-10 1 11 1-5 1 14 1-30 1 1 1-6 1 13 1-11 1 6 1-8 1 6 1-7 1 22 1-7 1 4 1-26 1 8 1-3 1 12 1-13 1 23 1-5 1 0 1-15 1 9 1-10 1 21 1-16 1 21 1-13 1 0 1-13 1 16 1-14 1 12 1-11 1 13 1-15 1 15 1-13 1 2 1 0 1 25 1-6 1 11 1-26 1 9 1-9 1 9 1-14 1 16 1-6 1 4 1-3 1 11 1-13 1 9 1-6 1 11 1-5 1 12 1-35 1 17 1-3 1 8 1-10 1 7 1-3 1 8 1-6 1 12 1-25 1 11 1-7 1 7 1-3 1 14 1-18 1 11 1-1 1 3 1-19 1 26 1-14 1 6 1-17 1 18 1-10 1 0 1-1 1 10 1-24 1 8 1 0 1 14 1-9 1 2 1-1 1 8 1-14 1 13 1-6 1 17 1-6 1 0 1-14 1 24 1-17 1 7 1-16 1 3 1-8 1 11 1 0 1 10 1-15 1 15 1-12 1 16 1-21 1 13 1-9 1 1 1-8 1 16 1-14 1 20 1-10 1 17 1-9 1 16 1-29 1 9 1-3 1 6 1-1 1 6 1-6 1 8 1-12 1 12 1-3 1 1 1-5 1 17 1-15 1 11 1-15 1 10 1-14 1 18 1-12 1 13 1-20 1 4 1-25 1 9 1-5 1 42 1-10 1 4 1-14 1 14 1-14 1 4 1-24 1 18 1-6 1 8 1-12 1 4 1-9 1 12 1-18 1 17 1-10 1 12 1-7 1 13 1-8 1 8 1-17 1 7 1-14 1 8 1-7 1 17 1-21 1 13 1-7 1 14 1-4 1 15 1-8 1 8 1-7 1 10 1-15 1 9 1-7 1 11 1-30 1 8 1-2 1 11 1-5 1 9 1-12 1 10 1-8 1 7 1-9 1 10 1 0 1 22 1-10 1 5 1-17 1 11 1-11 1 7 1-9 1 21 1-4 1 14 1-19 1 1 1-13 1 3 1-15 1 4 1-1 1 10 1-6 1 17 1-17 1 9 1-19 1 24 1-4 1 9 1-15 1 3 1 0 1 5 1-18 1 11 1-5 1 6 1-16 1 19 1-11 1 15 1-14 1 12 1-4 1 4 1 0 1 8 1-6 1 4 1-13 1 4 1-3 1 10 1-20 1 13 1-16 1 12 1-9 1 7 1-13 1 18 1-18 1 6 1 0 1 6 1-12 1 18 1-21 1 14 1-8 1 23 1-6 1 14 1-25 1 8 1-12 1 13 1-5 1 7 1-16 1 6 1-12 1 14 1-10 1 20 1-15 1 22 1-3 1-258 1 52 1 128 1 0 1 35 1-1 1 38 1-3 1 13 1-26 1 24 1-16 1 1 1-7 1 21 1-6 1 14 1-19 1 3 1-13 1 15 1-5 1 18 1-19 1 3 1-17 1 14 1-7 1 6 1-4 1 22 1-14 1 5 1-17 1 21 1-20 1 14 1-14 1 4 1-5 1 20 1-9 1 2 1-10 1 1 1-6 1 26 1-26 1 20 1-19 1 11 1-8 1 21 1-12 1 12 1-5 1 0 1-20 1 10 1-4 1 5 1-11 1 11 1-3 1 9 1-8 1 10 1-15 1 3 1-9 1 11 1-2 1 18 1-8 1 0 1-14 1 6 1-8 1 19 1-18 1 0 1-5 1 16 1-3 1 3 1-9 1 26 1-22 1 5 1-6 1 11 1-11 1 20 1-9 1 2 1-12 1 13 1-16 1 0 1-8 1 28 1-21 1 11 1-7 1 7 1-12 1 18 1-14 1 6 1-9 1 19 1-20 1 5 1 0 1 11 1-7 1 13 1-8 1 12 1-17 1 6 1-20 1 14 1-7 1 12 1-12 1 10 1-5 1 13 1-10 1 6 1-2 1 6 1-19 1 21 1-12 1 1 1-11 1 21 1-3 1 7 1-11 1 9 1-23 1 5 1-10 1 14 1-4 1 15 1-8 1 3 1-12 1 9 1-11 1 5 1-10 1 15 1-12 1 9 1-4 1 6 1-7 1 12 1-8 1 20 1-8 1 11 1-10 1 3 1-22 1 8 1-12 1 21 1-18 1 15 1-1 1 7 1-8 1 4 1-19 1 5 1-11 1 2 1-6 1 2 1-10 1 26 1-11 1 11 1-6 1 18 1-6 1 14 1-11 1 8 1-16 1 15 1-12 1 14 1-19 1 21 1-29 1 4 1-10 1 5 1-4 1 15 1-7 1 13 1-5 1 8 1-11 1 11 1-5 1 10 1-10 1 3 1-28 1 8 1-6 1 18 1-4 1 11 1-20 1 5 1-10 1 30 1-8 1 1 1-15 1 7 1-16 1 17 1 0 1 15 1-9 1 8 1-22 1 2 1-6 1 16 1-20 1 4 1 0 1 20 1-10 1 13 1-11 1 8 1-9 1 15 1-19 1 14 1-7 1 2 1-12 1 3 1-4 1 19 1-18 1 1 1 0 1 23 1-17 1 19 1-10 1 8 1-23 1 15 1 0 1 13 1-17 1 13 1-13 1 8 1-9 1 10 1-15 1 8 1-8 1 11 1-4 1 8 1-6 1 18 1-20 1 10 1-4 1 10 1-13 1 8 1-10 1 16 1-16 1 7 1-12 1 6 1-9 1 14 1-11 1 6 1-11 1 1 1-13 1 27 1-14 1 5 1-16 1 21 1-9 1 12 1-2 1 10 1-22 1 19 1-3 1 10 1-25 1 16 1-7 1 2 1-21 1 20 1-2 1 8 1-9 1 6 1-5 1 18 1-16 1 2 1-9 1 13 1-15 1 15 1-16 1 16 1-3 1 16 1-27 1 8 1-11 1 25 1-18 1 20 1-13 1 9 1-19 1 11 1-11 1 20 1-19 1 0 1-13 1 22 1-7 1 4 1-13 1 16 1-4 1 3 1-10 1 22 1-19 1 7 1-9 1 18 1-14 1 11 1-7 1 16 1-12 1 13 1-25 1 6 1-14 1 1 1-4 1 31 1-3 1 16 1-15 1 8 1-16 1 8 1-20 1 10 1-8 1 20 1-2 1 1 1-16 1 1 1-6 1 20 1-15 1 2 1-9 1 5 1-10 1 24 1-16 1 9 1-9 1 7 1-8 1 20 1-14 1 4 1-19 1 5 1-4 1 14 1-14 1 6 1-14 1 18 1-10 1 23 1-8 1 5 1-8 1 12 1-18 1 3 1-23 1 26 1-3 1 29 1-7 1 4 1-15 1 17 1-1 1 7 1-31 1 3 1-9 1 13 1-13 1 6 1-16 1 9 1-14 1 16 1-5 1 8 1-5 1 14 1-13 1 11 1-3 1 15 1-7 1 3 1-9 1 8 1-9 1 5 1-2 1 10 1-9 1 9 1-15 1 11 1-6 1 7 1-9 1 15 1-29 1 9 1-4 1 3 1-18 1 20 1-8 1 21 1-9 1 13 1-15 1 7 1-5 1 4 1-14 1 16 1-8 1 7 1-15 1 16 1-4 1 6 1-9 1 14 1-16 1 22 1-25 1 9 1-18 1 13 1-2"/>
<path stroke="#9590FF" d="M0 329l1 3 1-22 1 5 1-5 1 4 1-21 1 18 1-13 1 5 1-17 1 4 1-12 1 19 1-9 1 5 1-10 1 7 1-15 1 2 1-5 1 21 1-9 1 18 1-5 1 6 1-9 1 27 1-16 1 11 1-12 1 5 1-13 1 11 1-18 1 18 1-12 1 6 1-1 1 1 1-16 1 14 1-15 1 10 1-7 1 8 1-34 1 15 1-3 1 15 1-16 1 12 1-10 1 15 1-1 1 20 1-24 1 13 1-7 1 11 1-21 1 13 1-20 1 13 1-6 1 9 1-13 1 26 1-4 1 0 1-6 1 13 1-7 1 9 1-7 1 14 1-17 1 8 1-15 1 17 1-11 1 2 1-3 1 19 1-4 1 3 1-22 1 17 1-15 1 0 1-10 1 20 1-12 1 16 1-7 1 8 1-17 1 8 1-8 1 12 1-14 1 4 1-3 1 32 1-10 1 6 1-22 1 2 1-6 1 22 1-19 1 22 1-9 1 0 1-12 1 7 1-11 1 11 1-9 1 6 1-8 1 11 1-20 1 3 1-8 1 10 1 0 1 15 1-14 1 19 1-4 1 14 1-11 1 4 1-21 1 10 1-3 1 10 1-21 1 3 1-18 1 18 1-14 1 22 1-31 1 15 1-8 1 16 1-17 1 20 1-6 1 14 1-10 1 6 1-22 1 2 1-8 1 21 1-5 1 12 1-11 1 8 1-22 1 19 1-3 1 4 1 0 1 7 1-9 1 8 1-4 1 22 1-28 1 12 1-11 1 5 1-8 1 19 1-9 1 13 1-18 1 9 1-9 1 7 1-20 1 12 1-10 1 13 1 0 1 14 1-20 1 9 1 0 1 6 1-12 1 11 1-6 1 0 1-10 1 3 1-3 1 13 1-10 1 11 1-15 1 9 1 0 1 9 1-10 1 9 1-14 1 7 1-4 1 11 1-25 1 13 1-18 1 12 1-4 1 22 1-13 1 14 1-13 1 12 1-7 1 14 1-11 1 16 1-5 1 5 1-16 1 4 1-7 1 4 1-9 1 12 1-5 1 13 1-11 1 4 1-10 1 7 1-10 1 19 1-5 1 5 1-23 1 9 1-17 1 19 1-11 1 21 1-12 1 24 1-22 1 10 1-19 1 9 1-8 1 4 1-5 1 10 1-5 1 1 1-19 1 9 1-8 1 16 1-8 1 23 1-8 1 3 1-2 1 27 1-6 1 6 1-25 1 1 1-10 1 3 1-4 1 4 1-19 1 22 1-22 1 22 1-6 1 12 1-6 1 8 1-8 1 13 1-21 1 21 1-6 1 8 1-23 1 25 1-2 1 6 1-19 1 13 1-29 1 4 1-4 1 14 1-3 1 5 1-8 1 18 1-3 1 0 1-24 1 21 1-13 1 1 1-4 1 8 1-8 1 6 1 0 1 8 1-11 1 3 1-5 1 11 1-2 1 19 1-11 1 4 1-12 1 7 1-5 1 9 1-6 1 9 1-25 1 12 1-5 1 10 1-10 1 1 1-7 1 1 1-7 1 11 1-8 1 1 1-13 1 31 1-2 1 10 1-13 1 1 1-12 1 8 1-9 1 14 1-10 1 7 1-3 1 11 1-20 1 14 1-1 1 15 1-10 1 2 1-25 1 14 1-6 1 16 1-15 1 3 1-9 1 11 1-5 1 9 1-10 1 10 1-11 1 22 1-9 1 0 1-11 1 2 1-4 1 5 1-13 1 16 1-1 1 1 1-8 1 5 1-15 1 27 1-1 1 4 1-17 1 11 1-11 1 8 1-12 1 14 1-6 1 20 1-36 1 0 1-4 1 29 1-18 1 2 1-6 1 10 1-1 1 14 1-4 1 4 1-32 1 19 1-7 1 7 1-10 1 12 1-2 1 14 1-4 1 4 1-27 1 17 1-8 1 3 1-9 1 14 1-13 1 11 1-13 1 23 1-7 1 4 1-15 1 21 1-28 1 8 1 0 1 18 1-3 1 13 1-11 1 8 1-18 1 1 1-3 1 5 1-12 1 29 1-18 1 20 1-19 1 11 1-17 1 8 1-8 1 22 1-23 1 6 1-6 1 13 1-16 1 18 1-5 1 13 1-17 1 6 1-8 1 17 1-12 1 6 1-9 1 9 1-17 1 30 1-11 1 4 1-8 1 0 1-20 1 17 1-9 1 17 1-11 1 12 1-6 1 2 1-16 1 11 1-21 1 0 1-4 1 26 1-3 1-256 1 52 1 129 1 0 1 32 1 0 1 19 1 0 1 22 1-8 1 14 1-13 1 15 1-8 1 10 1-27 1 19 1-14 1 20 1-4 1 15 1-13 1 12 1-7 1 5 1-25 1 2 1-10 1 9 1-7 1 9 1-13 1 10 1-8 1 18 1-5 1 19 1-18 1 0 1-1 1 12 1-20 1 11 1-19 1 16 1 0 1 9 1-16 1 6 1-28 1 7 1-9 1 42 1-8 1 15 1-21 1 11 1-2 1 22 1-17 1 10 1-15 1 16 1-23 1 4 1-9 1 11 1-13 1 13 1-8 1 15 1-8 1 1 1-19 1 5 1-6 1 20 1-6 1 8 1-16 1 3 1-12 1 6 1-5 1 17 1-5 1 10 1-5 1 2 1-15 1 3 1-4 1 6 1-3 1 17 1-1 1 1 1-9 1 16 1-14 1 6 1-15 1 17 1-5 1 8 1-14 1 7 1-9 1 5 1-9 1 7 1-5 1 14 1-15 1 18 1-10 1 3 1-16 1 17 1 0 1 10 1-17 1 10 1-14 1 0 1-9 1 12 1-14 1 6 1-15 1 24 1-8 1 5 1-14 1 22 1-10 1 6 1-1 1 12 1-14 1 16 1-19 1 6 1-16 1 17 1 0 1 5 1-15 1 6 1-9 1 14 1-18 1 18 1-12 1 13 1-1 1 5 1-10 1 9 1-17 1 19 1-3 1 14 1-15 1 28 1-20 1 7 1-7 1 4 1-20 1 8 1-15 1 22 1-11 1 21 1-7 1 5 1-10 1 5 1-22 1 35 1-3 1 9 1-18 1 7 1-21 1 10 1-8 1 22 1-18 1 14 1-6 1 1 1-19 1 6 1-10 1 6 1-4 1 4 1-11 1 14 1-20 1 24 1-7 1 8 1-8 1 21 1-20 1 13 1-1 1 21 1-22 1 14 1-29 1 4 1-14 1 7 1 0 1 23 1-18 1 6 1-1 1 8 1 0 1 17 1-26 1 3 1-11 1 12 1-7 1 22 1-6 1 10 1-18 1 6 1-9 1 6 1-22 1 17 1-14 1 20 1-15 1 11 1-13 1 4 1-1 1 26 1-11 1 1 1-14 1 7 1-9 1 6 1-8 1 24 1-5 1 8 1-25 1 11 1-14 1 14 1-5 1 6 1-22 1 15 1-6 1 12 1-9 1 8 1-12 1 11 1-10 1 12 1-2 1 11 1-16 1 14 1-7 1 14 1-3 1 3 1-12 1 2 1-16 1 4 1-22 1 5 1 0 1 26 1-13 1 14 1-15 1 7 1-16 1 6 1-12 1 20 1-7 1 11 1-16 1 15 1-3 1 17 1-17 1 10 1-13 1 10 1-14 1 15 1-2 1 10 1-23 1 15 1-12 1 14 1-12 1 12 1-8 1 10 1-12 1 6 1-21 1 6 1-5 1 25 1-26 1 19 1-16 1 14 1-2 1 19 1-9 1 23 1-10 1 11 1-37 1 3 1-2 1 10 1-7 1 5 1-14 1 8 1-4 1 13 1-20 1 15 1-16 1 14 1-8 1 7 1-11 1 18 1-4 1 14 1-26 1 15 1-6 1 4 1-2 1 7 1-10 1 4 1-23 1 21 1-7 1 7 1-6 1 10 1-7 1 12 1-4 1 4 1-17 1 12 1-6 1 15 1-19 1 8 1-12 1 8 1-24 1 4 1-4 1 36 1-5 1 9 1-8 1 0 1-5 1 12 1-3 1 8 1-19 1 5 1-4 1 21 1-14 1 16 1-18 1 0 1-10 1 13 1-5 1 6 1-8 1 16 1-5 1 6 1-9 1 15 1-15 1 0 1-20 1 14 1 0 1 26 1-16 1 9 1-12 1 15 1-15 1 10 1-16 1 12 1-21 1 5 1-10 1 7 1-1 1 6 1-23 1 12 1-5 1 14 1-19 1 9 1-11 1 25 1-8 1 24 1-5 1 19 1-12 1 3 1-19 1 11 1-6 1 10 1-23 1 12 1-15 1 9 1-12 1 9 1-8 1 21 1-22 1 3 1-7 1 13 1-3 1 0 1-15 1 9 1-3 1 18 1 0 1 1 1-12 1 21 1-15 1 2 1-13 1 15 1-8 1 5 1-13 1 15 1-15 1 13 1-6 1 6 1-5 1 11 1-12 1 8 1-8 1 10 1-21 1 15 1-9 1 12 1-9 1 17 1-14 1 16 1-15 1 12 1-4"/>
<path stroke="#E76BF3" d="M0 329l1-10 1-18 1 10 1-9 1 13 1-13 1 12 1-23 1 8 1-17 1 6 1-9 1 20 1-10 1 4 1-26 1 23 1-5 1 11 1-24 1 8 1-15 1 5 1-2 1 15 1-10 1 3 1-11 1 18 1-4 1 19 1-6 1 8 1-11 1 4 1-11 1 7 1-8 1 17 1-25 1 12 1-12 1 20 1-9 1 6 1-3 1 5 1-14 1 18 1-12 1 5 1-5 1 2 1-22 1 12 1-4 1 14 1-8 1 17 1-20 1 18 1-2 1 0 1-12 1 15 1-4 1 12 1-12 1 11 1-7 1 8 1-12 1 7 1-13 1 7 1-22 1 11 1-4 1 16 1-1 1 14 1-3 1 20 1-25 1 3 1-18 1 14 1-11 1 12 1-8 1 0 1-21 1 10 1-10 1 10 1-3 1 23 1-10 1 18 1-4 1 12 1-10 1 7 1-15 1 19 1-20 1 20 1-17 1 8 1-16 1 1 1-2 1 9 1-14 1 8 1-15 1 25 1-15 1 19 1-9 1 0 1-15 1 14 1-18 1 12 1-8 1 32 1-10 1 16 1-26 1 6 1-17 1 6 1-5 1 8 1-3 1 17 1-18 1 13 1-11 1 5 1-6 1 8 1-9 1 4 1-14 1 31 1-4 1 12 1-26 1 12 1-16 1 6 1-12 1 12 1-13 1 17 1-7 1 2 1 0 1 10 1-1 1 16 1-17 1 16 1-25 1 7 1-5 1 17 1-19 1 1 1-18 1 23 1-11 1 4 1-13 1 6 1-4 1 9 1-6 1 9 1-20 1 17 1-5 1 12 1-3 1 1 1-10 1 10 1 0 1 8 1-16 1 4 1-10 1 8 1-7 1 17 1-2 1 12 1-3 1 17 1-17 1 2 1-12 1 6 1-4 1 6 1-11 1 7 1-11 1 12 1-8 1 5 1-13 1 22 1-4 1 13 1-31 1 20 1-21 1 22 1-6 1 4 1-20 1 0 1 0 1 11 1-13 1 22 1-13 1 9 1-11 1 8 1-6 1 11 1-2 1 7 1-17 1 25 1-20 1 5 1-18 1 9 1-10 1 21 1-11 1 2 1-11 1 13 1-15 1 7 1-4 1 10 1-9 1 19 1-12 1 10 1-4 1 14 1-17 1 8 1-14 1 12 1-14 1 4 1-18 1 4 1-10 1 23 1-5 1 14 1-13 1 12 1-13 1 17 1-12 1 11 1-12 1 16 1-9 1 17 1-15 1 1 1-12 1 4 1-5 1 16 1-7 1 14 1-22 1 13 1-15 1 15 1-11 1 18 1-9 1 19 1-17 1 14 1-14 1 20 1-15 1 15 1-30 1 9 1-27 1 11 1-1 1 16 1-19 1 8 1-4 1 18 1-13 1 1 1-16 1 27 1-7 1 7 1-12 1 1 1-3 1 11 1-11 1 19 1-1 1 6 1-18 1 10 1-18 1 24 1-18 1 9 1-12 1 15 1-16 1 12 1-3 1 13 1-11 1 5 1-4 1 6 1-18 1 30 1-9 1 16 1-12 1 8 1-26 1 9 1-9 1 6 1-12 1 17 1-11 1 15 1-14 1 3 1-14 1 24 1-13 1 8 1-22 1 12 1-5 1 11 1-10 1 17 1-19 1 3 1-13 1 31 1-5 1 11 1-23 1 1 1-12 1 20 1-12 1 18 1-22 1 12 1-2 1 13 1-4 1 13 1-17 1 5 1-14 1 2 1-9 1 19 1-5 1 12 1-13 1 2 1-15 1 16 1-18 1 23 1-8 1 15 1-21 1 8 1-4 1 6 1-6 1 6 1-13 1 4 1-3 1 13 1-12 1 24 1-9 1 10 1-6 1 2 1-18 1 15 1-3 1 16 1-14 1 10 1-10 1 3 1-9 1 1 1-11 1 25 1-26 1 9 1-10 1 5 1-11 1 15 1-4 1 17 1-16 1 2 1-12 1 10 1-15 1 10 1-9 1 8 1-10 1 9 1-9 1 15 1 0 1 16 1-10 1 4 1-14 1 5 1-1 1 6 1-5 1 16 1-7 1 11 1-9 1 10 1-17 1 13 1-16 1 15 1-13 1 10 1-18 1 13 1-16 1 2 1-8 1 31 1-8 1 10 1-10 1 2 1-9 1 6 1-14 1 0 1-9 1 14 1-4 1 9 1-16 1 11 1-9 1 20 1-7 1 4 1-7 1 17 1-7 1 5 1-15 1-242 1 52 1 120 1-2 1 50 1-3 1 26 1-8 1 26 1-18 1 7 1-15 1 28 1-15 1 8 1-8 1 6 1-3 1 16 1-33 1 17 1-5 1 15 1-12 1 12 1-18 1 9 1-5 1 8 1-12 1 18 1-11 1 0 1-14 1 4 1-24 1 5 1-8 1 18 1-3 1 18 1-19 1 21 1-14 1 10 1-5 1 11 1-5 1 4 1-17 1 16 1-11 1 11 1-3 1 3 1-19 1 10 1-11 1 14 1-8 1 16 1-8 1 18 1-21 1 9 1-11 1 5 1-16 1 14 1-8 1 12 1-12 1 10 1-11 1 13 1-2 1 8 1-22 1 24 1-28 1 4 1-9 1 15 1 0 1 23 1-7 1 6 1-14 1 16 1-6 1 6 1-23 1 20 1-10 1 12 1-12 1 7 1-11 1 14 1-18 1 9 1-5 1 12 1-9 1 18 1-24 1 11 1-4 1 15 1-25 1 11 1-7 1 11 1-17 1 22 1-2 1 9 1-15 1 13 1-18 1 1 1-6 1 1 1-21 1 15 1-10 1 23 1-4 1 13 1-22 1 14 1-16 1 18 1-8 1 10 1-7 1 2 1-14 1 11 1-3 1 8 1-4 1 4 1-4 1 0 1-8 1 24 1-10 1 6 1-23 1 15 1-21 1 26 1-4 1 4 1-9 1 10 1-15 1 5 1-14 1 1 1-6 1 20 1-14 1 3 1-14 1 21 1-5 1 17 1-6 1 11 1-14 1 10 1-4 1 8 1-19 1 11 1-12 1 15 1-7 1 8 1-13 1 14 1-14 1 6 1-15 1 17 1-16 1 13 1-14 1 10 1-19 1 5 1-10 1 24 1-4 1 14 1-9 1 17 1-16 1 9 1 0 1 8 1-34 1 13 1-6 1 13 1-9 1 7 1-6 1 7 1-4 1 14 1-22 1 9 1-14 1 9 1-14 1 27 1-10 1 2 1-6 1 14 1-9 1 20 1-6 1 6 1-7 1 5 1-22 1 15 1-10 1 9 1-17 1 14 1 0 1 0 1-6 1 8 1-3 1 15 1-18 1 15 1-22 1 14 1-13 1 17 1-17 1 8 1-7 1 9 1-6 1 17 1-9 1 12 1-19 1 15 1-13 1 16 1-6 1 2 1-16 1 3 1-11 1 8 1-3 1 14 1-9 1 4 1-9 1 16 1-16 1 5 1-12 1 15 1-2 1 8 1-16 1 18 1-8 1 12 1-14 1 8 1-12 1 10 1-3 1 4 1-14 1 0 1-10 1 30 1-15 1 12 1-8 1 1 1-21 1 21 1-7 1 9 1-5 1 11 1-4 1 6 1-21 1 8 1-17 1 13 1-9 1 30 1-29 1 6 1-13 1 9 1-15 1 22 1-11 1 21 1-8 1 14 1-10 1 2 1-24 1 1 1-1 1 10 1-2 1 12 1-19 1 12 1 0 1 28 1-19 1 6 1-9 1 9 1-13 1 9 1-12 1 1 1-7 1 4 1-3 1 9 1-10 1 11 1-2 1 17 1-17 1 14 1-14 1 4 1-17 1 16 1-9 1 16 1-12 1 11 1-9 1 9 1-13 1 19 1-16 1 5 1-5 1 13 1-7 1 0 1-3 1 10 1-1 1 9 1-6 1 7 1-13 1 3 1-6 1 2 1-8 1 11 1-14 1 7 1 0 1 24 1-16 1 7 1-11 1 2 1-9 1 17 1-16 1 20 1-14 1 8 1-5 1 3 1-36 1 32 1-2 1 14 1-12 1 2 1-20 1 18 1-8 1 14 1-13 1 4 1-21 1 27 1-6 1 10 1-20 1 7 1-2 1 8 1-18 1 12 1-18 1 10 1-8 1 29 1-1 1 7 1-38 1 19 1-15 1 16 1-5 1 6 1-8 1 14 1-8 1 20 1-11 1 11 1-18 1 8 1-16 1 4 1 0 1 13 1-12 1 8 1-24 1 11 1-7 1 12 1 0 1 7 1-19 1 10 1-11 1 6 1-11 1 19 1-2 1 3 1-14 1 13 1-4 1 9 1-10 1 9 1-10 1 32 1-21 1 11 1-23 1 5 1-10 1 25 1-5 1 11 1-15 1 5 1-9 1 13 1-19 1 5 1 0 1 7 1-17 1 11 1-14 1 19 1-7 1 13 1-7 1 16 1-13 1 11 1-8 1 13 1-17 1 7 1-10 1 4 1-10 1 9 1-16"/>
<path stroke="#FF62BC" d="M0 329l1-4 1-20 1 8 1-18 1 7 1-8 1 3 1-18 1 24 1-13 1 5 1-13 1 15 1-12 1 19 1-1 1 5 1-19 1 10 1-2 1 11 1-6 1 2 1-22 1 19 1 0 1 0 1-19 1 9 1-8 1 15 1-21 1 8 1-4 1 16 1-2 1 18 1-15 1 3 1-25 1 13 1-8 1 18 1-9 1 29 1-15 1 5 1-16 1 6 1-3 1 5 1-5 1 11 1-11 1 1 1-14 1 16 1-4 1 5 1-4 1 8 1-10 1 4 1-14 1 19 1-13 1 12 1-21 1 2 1-4 1 20 1-15 1 12 1-18 1 8 1-11 1 6 1-18 1 15 1-7 1 12 1-7 1 16 1-9 1 10 1-3 1 19 1-23 1 2 1-6 1 6 1-12 1 9 1-11 1 15 1-8 1 7 1-13 1 10 1-3 1 4 1-5 1 17 1-12 1 11 1 0 1 11 1-26 1 19 1-3 1 0 1-8 1 5 1-8 1 2 1-3 1 23 1-16 1 10 1-5 1 10 1-19 1 15 1-19 1 7 1-12 1 8 1-6 1 20 1-9 1 13 1-10 1 10 1-11 1 16 1-16 1 8 1-12 1 8 1-2 1 10 1-14 1 8 1-15 1 6 1-10 1 16 1-20 1 11 1-10 1 19 1-3 1 4 1-11 1 4 1-9 1 10 1-16 1 0 1-7 1 15 1-15 1 25 1-13 1 0 1-5 1 22 1-13 1 4 1 0 1 6 1-1 1 14 1-17 1 6 1-14 1 13 1-14 1 0 1-7 1 16 1-9 1 9 1-7 1 8 1-7 1 7 1-29 1 34 1-13 1 16 1-11 1 16 1-10 1 13 1-16 1 7 1-17 1 5 1-9 1 2 1-3 1 19 1-15 1 9 1-9 1 4 1-1 1 26 1-9 1 12 1-15 1 3 1-8 1 12 1-19 1 10 1-11 1 7 1-3 1 12 1-16 1 18 1-4 1 4 1-10 1 2 1-20 1 15 1-17 1 25 1-5 1 8 1-13 1 30 1-18 1 4 1-23 1 4 1-3 1 11 1-9 1 7 1-8 1 3 1-9 1 20 1-10 1 11 1-14 1 20 1-12 1 0 1-8 1 6 1-8 1 7 1-14 1 6 1-1 1 27 1-27 1 13 1-13 1 8 1-12 1 11 1-4 1 7 1-3 1 14 1-12 1 10 1-11 1 15 1-9 1 8 1-24 1 24 1-7 1 9 1-3 1 6 1-4 1 3 1-17 1 3 1-5 1 19 1-13 1 10 1-5 1 16 1-22 1 2 1-9 1 15 1-3 1 2 1-20 1 9 1-11 1 9 1-7 1 13 1-4 1 8 1-6 1 6 1 0 1 14 1-20 1 5 1-8 1 18 1-18 1 16 1-2 1 24 1-22 1 2 1-11 1 9 1-5 1 8 1-17 1 5 1-3 1 13 1-16 1 9 1-9 1 12 1-1 1 7 1-25 1 21 1-6 1 2 1-8 1 24 1-19 1 9 1-14 1 3 1-12 1 21 1-10 1 15 1-13 1 1 1-9 1 17 1-10 1 10 1-6 1 12 1-14 1 1 1-6 1 14 1-18 1 20 1-3 1 11 1-8 1 6 1-17 1 5 1-25 1 10 1 0 1 13 1-13 1 6 1-9 1 18 1-17 1 20 1-13 1 5 1-15 1 20 1-9 1 19 1-15 1 16 1-11 1 11 1-18 1 16 1-2 1 3 1-9 1 9 1-7 1 11 1-16 1 7 1-16 1 17 1-7 1 9 1-27 1 20 1-11 1 3 1-13 1 7 1-10 1 26 1-10 1 6 1-19 1 14 1-13 1 12 1-11 1 17 1-12 1 0 1-7 1 20 1-19 1 18 1-9 1 8 1-2 1 8 1-9 1 3 1-16 1 14 1-1 1 9 1-6 1 16 1-22 1 0 1-30 1 25 1-5 1 1 1-12 1 20 1-5 1 14 1-17 1 17 1-7 1 3 1-11 1 15 1-4 1 1 1-11 1 14 1-23 1 10 1-8 1 15 1-14 1 3 1-12 1 13 1-18 1 13 1-6 1 10 1-14 1 9 1-9 1 10 1-6 1 21 1-13 1 21 1-4 1 7 1-20 1 17 1-6 1 6 1-7 1 7 1-6 1 6 1-35 1 18 1-14 1 19 1-4 1 5 1-13 1 13 1-15 1 12 1-8 1 19 1-13 1-232 1 45 1 124 1-4 1 42 1-5 1 29 1-10 1 12 1-3 1 8 1-5 1 19 1-10 1 13 1-13 1 6 1-8 1 30 1-11 1 1 1-15 1 0 1-6 1 25 1-16 1 0 1-14 1 8 1-18 1 13 1-11 1 13 1-5 1 16 1-15 1 14 1-8 1 12 1-4 1 3 1-22 1 11 1-9 1 7 1-17 1 24 1-3 1 0 1-13 1 4 1-8 1 12 1-2 1 20 1-16 1 0 1-19 1 4 1-4 1 15 1-18 1 15 1-16 1 23 1-14 1 12 1-18 1 10 1-13 1 18 1-22 1 15 1 0 1 13 1-11 1 14 1-2 1 8 1-17 1 26 1-15 1 1 1-8 1 14 1-7 1 10 1-19 1 12 1-17 1 9 1-17 1 7 1-22 1 22 1 0 1 7 1-3 1 10 1 0 1 9 1-26 1 10 1-11 1 15 1-15 1 5 1-5 1 23 1-5 1 5 1-17 1 0 1-15 1 8 1-8 1 16 1-9 1 27 1-9 1 7 1-25 1 5 1-13 1 7 1-12 1 23 1-11 1 17 1-15 1 15 1-23 1 21 1-2 1 22 1-28 1 8 1-8 1 6 1-4 1 5 1-12 1 14 1-8 1 17 1-4 1 4 1-4 1 15 1-12 1 0 1-6 1 15 1-21 1 8 1-12 1 14 1-10 1 20 1-14 1 20 1-10 1 4 1-27 1 7 1-11 1 21 1-12 1 7 1-3 1 7 1-16 1 21 1-21 1 9 1 0 1 22 1-15 1 12 1-21 1 9 1-18 1 7 1-10 1 27 1-16 1 9 1-15 1 13 1-18 1 18 1-11 1 19 1-17 1 11 1-13 1 21 1-24 1 14 1-12 1 15 1-3 1 24 1-12 1 0 1-13 1 2 1-10 1 24 1-20 1 10 1-7 1 15 1-13 1 16 1-21 1 5 1-8 1 16 1-19 1 11 1-9 1 11 1-11 1 13 1-14 1 9 1-4 1 25 1-11 1 0 1-6 1 11 1-25 1 14 1-15 1 14 1-3 1 8 1-23 1 8 1-6 1 16 1-2 1 9 1-8 1 19 1-11 1 2 1-3 1 16 1-21 1 1 1-19 1 6 1-6 1 12 1-12 1 8 1-7 1 24 1-8 1 8 1-20 1 9 1-7 1 12 1-22 1 18 1-13 1 6 1-7 1 17 1-12 1 17 1-22 1 12 1-7 1 7 1-4 1 10 1-9 1 12 1-7 1 20 1-21 1 16 1-9 1 15 1-13 1 6 1-20 1 2 1-19 1 5 1-6 1 23 1-8 1 2 1-4 1 20 1-13 1 11 1-20 1 12 1-4 1 15 1-1 1 5 1-23 1 27 1-13 1 1 1-10 1 18 1-7 1 10 1-22 1 5 1-10 1 16 1-8 1 2 1-17 1 17 1-12 1 11 1-26 1 25 1-5 1 13 1-6 1 12 1-8 1 14 1-7 1 10 1-15 1 6 1-3 1 12 1-11 1 6 1-21 1 10 1-16 1 10 1 0 1 19 1-22 1 13 1-21 1 2 1-14 1 16 1-15 1 13 1-1 1 13 1-10 1 16 1-16 1 14 1-17 1 14 1-20 1 16 1-5 1 18 1-18 1 2 1-5 1 10 1-11 1 2 1-19 1 11 1-9 1 13 1-9 1 20 1-2 1 12 1-2 1 6 1-14 1 1 1-16 1 25 1-3 1 4 1-22 1 11 1-5 1 8 1-8 1 10 1-7 1 8 1-18 1 5 1-9 1 25 1-6 1 23 1-3 1 4 1-35 1 3 1-7 1 5 1-12 1 12 1-11 1 2 1-16 1 13 1-6 1 20 1 0 1 9 1-10 1 17 1-15 1 11 1-6 1 12 1-5 1 16 1-16 1 9 1-18 1 6 1-10 1 19 1-16 1 12 1-18 1 10 1-12 1 4 1-3 1 20 1-17 1 6 1-14 1 15 1-21 1 20 1-5 1 10 1-18 1 2 1-14 1 13 1-8 1 15 1-4 1 7 1-2 1 7 1-16 1 4 1-6 1 7 1-10 1 8 1-5 1 23 1 0 1 10 1-21 1 21 1-10 1 2 1-14 1 5 1-17 1 18 1-13 1 0 1-15 1 25 1-4 1 19 1-1 1 9 1-27 1 2 1-15 1 25 1-16 1 13 1-29 1 24 1-10 1 13 1-9 1 8 1-11"/>
</g>
<line class="hk" x1="101.2" x2="933.8" y1="306.55" y2="306.55"/>
<text class="tk" x="92.7" y="100.80" text-anchor="end">2</text>
<text class="tk" x="92.7" y="266.40" text-anchor="end">0</text>
<text class="tk" x="92.7" y="429.80" text-anchor="end">−2</text>
<text class="tk" x="139.4" y="551.5" text-anchor="middle">0</text>
<text class="tk" x="328.525" y="551.5" text-anchor="middle">25</text>
<text class="tk" x="517.65" y="551.5" text-anchor="middle">50</text>
<text class="tk" x="706.775" y="551.5" text-anchor="middle">75</text>
<text class="tk" x="895.9" y="551.5" text-anchor="middle">100</text>
<text class="ax" transform="translate(517.5 581) scale(1 1.05)" text-anchor="middle">Time</text>
<text class="ax" transform="translate(63.4 259.7) rotate(-90) scale(1 1.05)" text-anchor="middle">Social state (Z)</text>
<text class="lab" x="0" y="23.8">A</text>
</g>
<g id="panelB">
<g class="tr" transform="translate(1186.00 260.95) scale(0.7565 0.50)">
<path stroke="#F8766D" d="M0 247l1-5 1-28 1 15 1-20 1 10 1-14 1 10 1-7 1 8 1-7 1 2 1-15 1 12 1-12 1 8 1-4 1 8 1-11 1 3 1-17 1 5 1 0 1 16 1-8 1 14 1-27 1 1 1-9 1 12 1-2 1 17 1-12 1 5 1-12 1 12 1 0 1 21 1-16 1 12 1-7 1 17 1-17 1 6 1-13 1 17 1-9 1 0 1-5 1 8 1-17 1 15 1-12 1 11 1-16 1 8 1 0 1 9 1-16 1 10 1-7 1 4 1-16 1 5 1-12 1 8 1-10 1 37 1 0 1 13 1-1 1 10 1-18 1 5 1-11 1 6 1-29 1 12 1-5 1 6 1-13 1 14 1-13 1 11 1-7 1 24 1-9 1 3 1-20 1 10 1-4 1 7 1-20 1 23 1-11 1 0 1-11 1 10 1-18 1 11 1-3 1 20 1-1 1 15 1-15 1 19 1-13 1 12 1-13 1 15 1-20 1 6 1-5 1 5 1-19 1 18 1-22 1 8 1-9 1 7 1-2 1 21 1-18 1 14 1-6 1 6 1-12 1 8 1-18 1 7 1-15 1 10 1-8 1 21 1-4 1 4 1-2 1 12 1-4 1 20 1-15 1 3 1 0 1 17 1-4 1 12 1-4 1 6 1-28 1 7 1-12 1 11 1-14 1 5 1-31 1 14 1 0 1 9 1-16 1 8 1-1 1 13 1-11 1 3 1-18 1 14 1-3 1 10 1-18 1 14 1-5 1 0 1-14 1 9 1-6 1 4 1-11 1 26 1-31 1 3 1-21 1 19 1-4 1 14 1-5 1 40 1-18 1 18 1-25 1 7 1-3 1 7 1-16 1 18 1-4 1 9 1-10 1 8 1-22 1 30 1-10 1 1 1-22 1 5 1 0 1 12 1-7 1 6 1-10 1 9 1-16 1 11 1-9 1 24 1-2 1 4 1-26 1 13 1-21 1 4 1-7 1 26 1-2 1 9 1-22 1 13 1-10 1 29 1-3 1 6 1-7 1 6 1-11 1 5 1-13 1 22 1-1 1 10 1-10 1 2 1-13 1 0 1-22 1 6 1-12 1 25 1-6 1 0 1-3 1 9 1-12 1 11 1-14 1 6 1-2 1 19 1-2 1 13 1-10 1 5 1-23 1 17 1-15 1 10 1-12 1 6 1-14 1 11 1-5 1 9 1-14 1 25 1-26 1 12 1-10 1 6 1-4 1 15 1-12 1 12 1-20 1 5 1-12 1 23 1-5 1 4 1-30 1 31 1-10 1 9 1-12 1 7 1-1 1 15 1-20 1 12 1-1 1 3 1-19 1 9 1-6 1 13 1-16 1 10 1-2 1 13 1-15 1 10 1-15 1 0 1-7 1 11 1-8 1 16 1-18 1 9 1-3 1 14 1-17 1 6 1-6 1 9 1 0 1 15 1-15 1 0 1-17 1 10 1 0 1 12 1-17 1 8 1-12 1 4 1-10 1 6 1-11 1 21 1-2 1 9 1-7 1 10 1-12 1 6 1-3 1 5 1-13 1 8 1-10 1 4 1-15 1 23 1-8 1 19 1-3 1 7 1-6 1 10 1-15 1 9 1-7 1 8 1-20 1 5 1-3 1 11 1-8 1 3 1-7 1 14 1-10 1 20 1-6 1 9 1-1 1 13 1-11 1 7 1 0 1 17 1-11 1 5 1-15 1 7 1-5 1 13 1-33 1 3 1-25 1 23 1-12 1 5 1-14 1 20 1-17 1 13 1-3 1 17 1-10 1 9 1-14 1 0 1-14 1 6 1-12 1 18 1-3 1 18 1-9 1 6 1-17 1 4 1-4 1 22 1-13 1 21 1-15 1 1 1-3 1 23 1-13 1 6 1-24 1 9 1-10 1 12 1 0 1 13 1-23 1 8 1-2 1 8 1-15 1 10 1-28 1 10 1 0 1 16 1-3 1 15 1-4 1 9 1-12 1 17 1-23 1 4 1-3 1 3 1-5 1 9 1-8 1 18 1-13 1 5 1-4 1 12 1-15 1 3 1-13 1 4 1-10 1 0 1-16 1 6 1-2 1 20 1-7 1 15 1-12 1 10 1-6 1 22 1-4 1 7 1-11 1 10 1-21 1 22 1-19 1 3 1-16 1 20 1-11 1 13 1-9 1 9 1-7 1 4 1-4 1 0 1-35 1 27 1-8 1 4 1-7 1 13 1-4 1 14 1-19 1 33 1-4 1-262 1-6 1 10 1-3 1 16 1-3 1 19 1-2 1 15 1-5 1 7 1-4 1 33 1-1 1 39 1 0 1 42 1 0 1 54 1-1 1 22 1-5 1 19 1-24 1 4 1-18 1 16 1-6 1 20 1-18 1 11 1-5 1 9 1-9 1 13 1-11 1 4 1-12 1 3 1-12 1 25 1-10 1 18 1-11 1 11 1-7 1 21 1-10 1 7 1-20 1 16 1-6 1 6 1-7 1 10 1-19 1 4 1-9 1 17 1-16 1 9 1-2 1 9 1-9 1 24 1-11 1 12 1-4 1 15 1-20 1 6 1-17 1 26 1-24 1 10 1-7 1 22 1-28 1 10 1-3 1 5 1-7 1 4 1-16 1 11 1-7 1 12 1-12 1 2 1-11 1 23 1-15 1 14 1-16 1 2 1-7 1 11 1-2 1 11 1-18 1 20 1-8 1 3 1-14 1 1 1-7 1 23 1-5 1 17 1-10 1 13 1-25 1 23 1-13 1 12 1-12 1 3 1-9 1 9 1-10 1 10 1-11 1 7 1-19 1 19 1-12 1 7 1-5 1 7 1-12 1 13 1-13 1 13 1-8 1 14 1-13 1 16 1-11 1 7 1-7 1 24 1-7 1 13 1-19 1 9 1-26 1 24 1-4 1 7 1-1 1 7 1-21 1 12 1-12 1 18 1-4 1 11 1-13 1 13 1-26 1 21 1-11 1 7 1-13 1 0 1-21 1 8 1-5 1 17 1-2 1 9 1-8 1 7 1-23 1 10 1-12 1 9 1-24 1 15 1-3 1 19 1-20 1 8 1-5 1 20 1-9 1 13 1-18 1 16 1-21 1 9 1-8 1 21 1-2 1 7 1-14 1 2 1-3 1 9 1-11 1 12 1-19 1 5 1-13 1 13 1-3 1 8 1-24 1 1 1-9 1 3 1-10 1 20 1-1 1 26 1-13 1 5 1-12 1 6 1-5 1 31 1-13 1 0 1-20 1 19 1 0 1 25 1-10 1 21 1-17 1 2 1-20 1 0 1-20 1 24 1-3 1 14 1-11 1 9 1-23 1 14 1-18 1 8 1-2 1 13 1-1 1 0 1-12 1 17 1-19 1 9 1-9 1 14 1-4 1 3 1-4 1 16 1-12 1 6 1-5 1 12 1-23 1 14 1-16 1 11 1-12 1 15 1-20 1 7 1-4 1 15 1-13 1 15 1-2 1 22 1-21 1 11 1-13 1 6 1-2 1 3 1-15 1 8 1 0 1 11 1-9 1 7 1-16 1 0 1-10 1 26 1-7 1 1 1-25 1 3 1-6 1 5 1-6 1 16 1-7 1 3 1-10 1 23 1-11 1 8 1-9 1 16 1-21 1 0 1-13 1 11 1-13 1 9 1-6 1 10 1-3 1 5 1-15 1 17 1-4 1 22 1-16 1 13 1-9 1 21 1-12 1 9 1-21 1 8 1-13 1 20 1-9 1 17 1-13 1 13 1-22 1 10 1-15 1 8 1-9 1 7 1-9 1 22 1-1 1 8 1-14 1 4 1-6 1 5 1 0 1 10 1-15 1 14 1-18 1 11 1-9 1 6 1-7 1 22 1-23 1 20 1-10 1 8 1-13 1 2 1-13 1 24 1-2 1 23 1-5 1 5 1-7 1 6 1-7 1 5 1-22 1 5 1-19 1 5 1-5 1 19 1-7 1 6 1-27 1 12 1-17 1 10 1-9 1 17 1-22 1 12 1-17 1 22 1-5 1 9 1-4 1 17 1-4 1 0 1-18 1 8 1-10 1 13 1-9 1 11 1-13 1 1 1-15 1 12 1-2 1 9 1-3 1 17 1-3 1 15 1-29 1 10 1-7 1 7 1-10 1 6 1-24 1 7 1-15 1 18 1-1 1 12 1-2 1 21 1-13 1 20 1-2 1 29 1-25 1 9 1-14 1 7 1-12 1 5 1-14 1 6 1-23 1 8 1-10 1 15 1-21 1 17 1-7 1 6 1-12 1 16 1-9 1 9 1-24 1 27 1-5 1 29 1 0 1 21 1-2 1 1 1-23 1 8 1-11 1 5 1-26 1 16 1-23 1 8 1-8 1 8 1-6 1 26 1-7 1 13 1-20 1 16 1 0 1 10 1-15 1 19 1-23 1 3 1-16 1 10 1-2 1 7 1-11 1 4 1-21 1 2 1-8 1 9 1-12 1 10 1-10 1 12 1-7 1 7 1-4"/>
<path stroke="#D89000" d="M0 247l1-6 1-17 1 0 1-9 1 0 1-15 1 18 1-9 1 14 1-9 1 13 1-10 1 4 1-20 1 18 1-9 1 5 1-5 1 5 1-18 1 6 1-11 1 12 1-7 1 7 1-11 1 3 1-19 1 12 1-4 1 7 1-11 1 22 1-3 1 9 1-25 1 18 1-9 1 6 1-2 1 13 1-15 1 13 1-13 1 10 1-19 1 13 1-15 1 5 1-15 1 25 1-5 1 6 1-15 1 2 1-14 1 9 1-11 1 9 1-3 1 13 1-13 1 11 1-18 1 27 1-2 1 29 1-4 1 25 1-20 1 0 1-21 1 16 1-11 1 12 1-17 1 1 1-10 1 14 1-25 1 5 1-7 1 23 1-15 1 14 1-16 1 4 1-18 1 2 1-14 1 10 1-4 1 29 1-21 1 15 1 0 1 8 1-2 1 10 1-18 1 6 1-14 1 7 1-7 1 21 1-2 1 1 1-9 1 15 1-22 1 13 1 0 1 17 1-18 1 4 1-4 1 23 1-19 1 3 1-10 1 6 1-10 1 15 1-15 1 8 1-5 1 1 1-1 1 15 1 0 1 14 1-1 1 10 1-15 1 22 1-16 1 3 1-14 1 16 1-35 1 23 1-10 1 1 1-9 1 7 1-12 1 0 1-13 1 14 1-7 1 9 1-6 1 15 1-2 1 15 1-31 1 8 1 0 1 6 1-12 1 11 1-5 1 23 1 0 1 17 1-13 1 4 1-10 1 3 1-16 1 6 1-9 1 22 1-21 1 1 1-4 1 15 1-13 1 12 1-16 1 17 1-22 1 5 1-14 1 23 1-12 1 18 1-12 1 11 1-4 1 3 1-21 1 26 1-23 1 14 1-12 1 5 1-8 1 13 1-13 1 6 1-5 1 21 1-19 1 24 1-11 1 7 1-22 1 12 1-12 1 20 1-15 1 1 1-29 1 18 1-3 1 16 1 0 1 10 1-3 1 5 1-19 1 10 1-16 1 13 1-29 1 4 1-1 1 24 1-15 1 5 1-20 1 16 1 0 1 22 1-8 1 8 1-5 1 9 1-16 1 5 1-1 1 16 1-1 1 1 1-18 1 16 1-21 1 5 1-18 1 18 1-2 1 6 1-13 1 3 1-1 1 6 1-18 1 6 1-20 1 3 1-6 1 26 1-11 1 36 1-12 1 9 1-2 1 1 1-8 1 8 1-5 1 14 1-20 1 12 1-6 1 21 1-10 1 5 1-12 1 14 1-12 1 21 1-26 1 5 1-14 1 4 1-9 1 9 1-18 1 1 1-13 1 23 1-5 1 13 1-14 1 0 1-9 1 8 1-12 1 13 1-11 1 32 1-12 1 6 1-23 1 9 1-11 1 20 1-9 1 10 1-10 1 11 1-8 1 15 1-32 1 7 1-3 1 14 1-8 1 11 1-19 1 12 1-11 1 19 1-16 1 28 1-10 1 9 1-7 1 1 1-5 1 22 1-4 1 18 1-11 1 0 1-24 1 12 1-21 1 17 1-17 1 9 1-4 1 20 1-18 1 19 1-11 1 10 1-15 1 0 1-16 1 23 1-2 1 7 1-10 1 29 1-16 1 8 1-19 1 23 1-12 1 1 1-20 1 6 1-1 1 4 1 0 1 9 1-8 1 14 1-16 1 23 1-8 1 17 1-17 1 10 1-23 1 20 1-5 1 3 1-9 1 18 1-22 1 16 1-12 1 13 1-19 1 9 1-13 1 21 1-8 1 11 1-16 1 8 1-14 1 4 1-13 1 4 1-9 1 6 1-8 1 15 1-5 1 0 1-14 1 13 1-16 1 27 1-11 1 24 1-25 1 5 1-14 1 15 1-14 1 1 1-12 1 5 1-9 1 12 1 0 1 19 1-14 1 13 1-6 1 11 1-13 1 19 1-5 1 13 1-21 1 22 1-15 1 9 1-13 1 7 1-8 1 11 1-16 1 17 1-10 1 14 1-28 1 8 1-6 1 13 1-26 1 7 1-2 1 13 1-13 1 21 1-6 1 17 1 0 1 12 1-23 1 7 1-5 1 8 1-6 1 9 1-20 1 14 1-11 1 8 1-8 1 13 1-13 1 17 1-8 1 4 1-10 1 14 1-13 1 28 1-9 1 9 1-16 1 7 1-14 1 10 1-12 1 4 1-11 1 11 1-9 1 8 1-16 1 5 1-17 1 8 1-6 1 11 1-7 1 12 1-9 1 4 1-21 1-248 1 8 1 8 1-10 1 25 1 0 1 20 1-2 1 23 1 0 1 33 1 0 1 46 1-1 1 52 1 0 1 47 1-2 1 20 1-4 1 4 1-10 1 16 1-15 1 16 1-6 1 15 1-15 1 11 1-9 1 10 1-14 1 10 1-17 1 20 1-3 1 22 1-10 1 3 1-23 1 19 1-7 1 11 1-18 1 5 1-11 1 23 1-16 1 1 1-8 1 18 1-12 1 13 1-19 1 26 1-3 1 1 1-14 1 4 1-12 1 16 1-8 1 11 1-18 1 2 1-8 1 25 1-13 1 2 1-1 1 3 1-25 1 2 1-8 1 27 1-5 1 10 1-14 1 22 1-22 1 18 1-3 1 9 1-19 1 6 1-2 1 17 1-5 1 5 1-7 1 16 1-13 1 3 1-8 1 6 1-30 1 11 1-10 1 28 1-8 1 10 1-20 1 7 1-4 1 14 1-15 1 23 1-28 1 9 1-8 1 13 1-15 1 32 1-6 1 7 1-20 1 2 1-16 1 18 1-11 1 3 1-16 1 6 1-20 1 5 1-5 1 24 1-2 1 21 1-7 1 1 1-13 1 13 1-10 1 10 1-19 1 24 1-8 1 17 1-10 1 10 1-21 1 16 1-7 1 14 1-23 1 14 1-7 1 3 1-11 1 17 1-12 1 0 1-5 1 8 1-17 1 17 1-12 1 6 1-1 1 15 1-9 1 25 1-20 1 6 1-15 1 10 1-11 1 15 1-11 1 5 1-3 1 6 1-23 1 3 1-2 1 8 1-29 1 14 1 0 1 11 1-3 1 2 1-22 1 13 1-11 1 20 1-10 1 11 1-21 1 26 1-3 1 12 1-8 1 3 1-11 1 8 1-10 1 10 1-10 1 14 1-21 1 25 1-22 1 11 1-6 1 20 1-15 1 3 1-6 1 6 1-17 1 22 1 0 1 16 1-15 1 3 1-21 1 8 1-13 1 11 1-2 1 7 1-16 1 9 1-20 1 10 1-13 1 14 1-15 1 9 1-11 1 10 1 0 1 14 1-6 1 12 1-12 1 4 1-11 1 14 1-8 1 8 1-1 1 10 1-3 1 0 1-7 1 9 1-8 1 13 1-12 1 12 1-23 1 18 1-17 1 22 1-13 1 3 1-27 1 13 1-11 1 16 1 0 1 16 1-13 1 9 1-13 1 13 1-7 1 14 1 0 1 15 1-16 1 17 1-20 1 17 1-5 1 5 1-23 1 7 1-17 1 15 1-22 1 22 1-12 1 16 1-8 1 11 1-15 1 9 1-4 1 18 1-4 1 14 1-10 1 2 1-12 1 6 1-4 1 12 1-5 1 6 1-6 1 9 1-3 1 5 1-14 1 17 1-14 1 0 1-8 1 7 1-14 1 15 1-11 1 7 1-8 1 17 1-9 1 7 1-9 1 9 1-9 1 10 1-25 1 10 1-13 1 11 1-8 1 3 1 0 1 11 1-14 1 9 1-29 1 13 1-9 1 23 1-1 1 12 1-8 1 12 1-11 1 17 1-7 1 7 1-17 1 15 1-21 1 9 1 0 1 18 1-16 1 6 1-6 1 6 1-16 1 8 1-7 1 10 1-11 1 19 1-9 1 6 1-14 1 9 1-7 1 17 1-10 1 17 1-4 1 7 1-3 1 16 1-31 1 5 1-22 1 10 1-6 1 12 1-22 1 6 1-6 1 0 1-7 1 20 1 0 1 17 1-7 1 16 1-9 1 10 1-7 1 14 1-10 1 14 1-32 1 8 1-30 1 4 1-10 1 12 1-3 1 12 1-10 1 17 1-9 1 12 1-14 1 19 1-18 1 5 1-13 1 5 1-5 1 11 1-13 1 25 1-22 1 6 1-14 1 32 1-5 1 2 1-17 1 18 1-24 1 9 1-8 1 12 1-5 1 6 1-4 1 11 1-11 1 22 1-11 1 9 1-17 1 13 1-2 1 4 1-10 1 12 1-8 1 12 1-7 1 8 1-15 1 15 1-16 1 5 1-6 1 2 1-7 1 3 1-10 1 16 1-7 1 26 1-40 1 13 1-11 1 7 1-4 1 12 1-30 1 9 1-22 1 15 1-9 1 30 1-9 1 12 1-7 1 8 1-19 1 19 1-7 1 6 1-4 1 1 1-19 1 28 1-14 1 12 1-4 1 6 1-15 1 2 1-13 1 12 1-7 1 14 1-19 1 11 1-6 1 8 1-13"/>
<path stroke="#A3A500" d="M0 247l1-4 1-12 1 8 1-23 1 13 1-23 1 14 1-31 1 8 1-8 1 10 1-1 1 11 1-15 1 26 1-16 1 15 1-35 1 4 1-11 1 0 1-11 1 5 1 0 1 29 1-2 1 24 1-6 1 14 1-8 1 15 1-17 1 5 1-27 1 7 1-16 1 20 1-5 1 8 1-2 1 13 1-26 1 0 1-4 1 14 1-8 1 4 1-5 1 15 1-19 1 13 1-8 1 3 1-15 1 7 1-5 1 17 1-23 1 6 1-6 1 12 1-5 1 2 1-16 1 13 1 0 1 15 1-10 1 34 1-7 1 4 1-25 1 16 1-13 1 8 1-20 1 9 1-24 1 13 1-14 1 15 1-10 1 16 1-14 1 7 1-14 1 3 1-12 1 27 1-10 1 2 1-6 1 22 1-25 1 23 1-19 1 12 1-8 1 18 1 0 1 13 1-23 1 6 1-2 1 10 1-16 1 13 1-17 1 7 1-9 1 22 1-6 1 15 1-12 1 6 1-18 1 10 1-14 1 11 1-6 1 26 1-2 1 14 1-16 1 2 1-27 1 4 1-16 1 19 1-2 1 15 1-19 1 8 1-8 1 24 1-16 1 15 1-20 1 15 1-10 1 26 1-17 1 1 1-26 1 3 1-8 1 13 1-13 1 19 1-2 1 6 1-14 1 15 1-25 1 5 1-6 1 27 1-7 1 19 1-11 1 0 1-13 1 11 1-2 1 11 1-15 1 22 1 0 1 7 1-11 1 2 1-18 1 17 1-16 1 1 1-6 1 11 1-10 1 26 1-10 1 2 1-31 1 7 1-11 1 1 1-8 1 15 1-6 1 16 1-6 1 15 1-17 1 6 1-16 1 26 1-3 1 1 1-16 1 3 1-24 1 6 1-9 1 16 1-10 1 21 1-10 1 9 1-9 1 7 1-22 1 10 1-17 1 9 1 0 1 33 1-2 1 20 1-16 1 9 1-14 1 16 1-18 1 24 1-5 1 4 1-11 1 2 1-20 1 18 1-7 1 14 1-29 1 1 1-9 1 20 1-27 1 10 1-4 1 13 1-3 1 16 1-13 1 10 1 0 1 12 1-7 1 4 1-9 1 14 1-20 1 21 1-7 1 3 1-15 1 4 1-4 1 13 1-18 1 4 1-12 1 17 1-21 1 17 1-5 1 11 1-22 1 10 1-7 1 21 1-6 1 1 1-14 1 7 1-13 1 12 1 0 1 1 1-14 1 12 1-17 1 16 1-16 1 18 1-8 1 12 1-3 1 6 1-27 1 2 1-14 1 13 1-15 1 27 1-5 1 19 1-11 1 9 1-7 1 10 1-8 1 15 1 0 1 4 1-6 1 7 1-11 1 15 1-13 1 12 1-13 1 7 1-18 1 3 1-5 1 17 1-4 1 8 1-16 1 0 1-10 1 16 1-28 1 18 1-16 1 16 1-8 1 6 1-7 1 32 1-7 1 13 1-29 1 16 1-5 1 16 1-29 1 11 1-20 1 9 1-13 1 11 1 0 1 12 1-10 1 8 1-15 1 22 1-6 1 10 1-9 1 10 1-1 1 5 1-14 1 21 1-11 1 0 1-26 1 12 1-7 1 19 1 0 1 17 1-13 1 8 1-16 1 3 1-17 1 8 1-2 1 12 1 0 1 3 1-11 1 19 1-16 1 0 1-10 1 13 1-3 1 3 1-7 1 16 1-8 1 4 1-22 1 16 1-1 1 4 1-14 1 4 1-8 1 16 1-4 1 13 1 0 1 3 1-19 1 17 1-22 1 17 1-5 1 9 1-21 1 4 1-8 1 14 1-5 1 8 1-4 1 24 1-13 1 8 1-17 1 9 1-17 1 6 1-33 1 4 1-9 1 27 1-5 1 2 1-14 1 30 1-2 1 21 1-27 1 0 1-22 1 6 1-12 1 35 1-11 1 7 1-13 1 20 1-5 1 5 1-12 1 11 1-9 1 5 1-12 1 12 1-9 1 31 1-18 1 2 1-6 1 6 1-13 1 5 1-8 1 26 1-2 1 15 1-13 1 1 1-25 1 10 1-16 1 27 1-1 1 3 1-17 1 10 1-3 1 2 1-23 1 18 1-6 1 22 1-16 1 3 1-16 1 21 1-6 1 7 1-22 1 11 1-5 1 11 1-17 1 5 1-5 1 18 1-11 1 15 1-20 1 7 1-11 1 16 1-11 1 11 1-6 1 8 1-13 1 10 1-12 1-258 1-13 1 5 1-17 1 8 1-7 1 7 1-10 1 5 1-32 1 8 1-16 1 10 1-26 1 3 1 0 1 17 1-4 1 2 1-13 1 11 1 0 1 8 1-12 1 28 1-17 1 7 1-31 1 0 1-14 1 5 1-29 1 16 1-3 1 30 1-12 1 10 1-26 1 16 1-4 1 16 1-33 1 25 1-6 1 21 1-10 1 32 1-20 1 5 1-8 1 12 1-16 1 7 1-8 1 16 1-8 1 11 1-26 1 11 1-3 1 20 1-29 1 3 1-10 1 31 1-8 1 20 1-9 1 24 1-10 1 11 1-31 1 8 1-23 1 3 1-13 1 15 1 0 1 17 1-21 1 7 1-2 1 9 1-4 1 14 1-8 1 17 1-11 1 6 1-23 1 14 1-25 1 11 1-9 1 3 1-8 1 10 1-10 1 12 1-18 1 22 1-14 1 3 1-10 1 4 1-19 1 8 1-28 1 12 1-12 1 24 1-14 1 17 1 0 1 23 1-18 1 4 1-5 1 18 1-7 1 8 1-19 1 21 1 0 1 16 1-15 1 4 1-11 1 2 1-8 1 7 1-8 1 1 1-27 1 23 1-24 1 16 1-22 1 23 1-9 1 7 1-9 1 10 1-8 1 15 1-5 1 17 1-19 1 12 1-6 1 22 1-12 1 5 1-18 1 6 1-18 1 19 1-29 1 11 1-12 1 9 1-25 1 27 1-8 1 56 1-8 1 14 1-13 1 12 1-13 1 0 1-32 1 0 1-27 1 0 1 0 1 15 1-17 1 13 1 0 1 16 1-15 1 10 1-14 1 4 1-7 1 4 1-7 1 11 1-11 1 29 1-16 1 14 1-24 1 20 1-11 1 24 1-6 1 17 1-30 1 7 1-7 1 3 1-13 1 24 1-15 1 24 1-12 1 12 1-22 1 12 1-4 1 24 1-11 1 13 1-2 1 13 1 0 1 5 1-23 1 14 1-9 1 3 1 0 1 19 1-11 1 6 1-39 1 3 1-23 1 13 1-12 1 7 1-10 1 32 1-2 1 15 1-23 1 18 1-1 1 31 1-21 1 3 1-8 1 12 1-27 1 0 1-13 1 10 1-9 1 0 1-12 1 5 1-19 1 15 1-12 1 5 1-14 1 10 1-1 1 15 1-9 1 9 1-4 1 29 1-12 1 24 1-13 1 12 1-13 1 5 1-7 1 13 1-4 1 29 1-18 1 3 1-19 1 20 1-13 1 3 1-16 1 3 1-4 1 4 1-20 1 14 1-10 1 9 1-12 1 15 1-6 1 29 1-20 1 13 1-15 1 29 1-8 1 2 1-10 1 18 1-15 1 6 1-12 1 2 1-27 1 2 1-24 1 17 1-8 1 1 1-7 1 18 1-7 1 11 1-14 1 17 1-12 1 5 1-12 1 31 1-6 1 17 1-9 1 9 1-26 1 27 1-7 1 9 1-7 1 16 1-14 1 10 1-11 1 21 1-8 1 7 1-7 1 27 1-20 1 18 1-3 1 0 1-28 1 16 1-8 1 9 1-7 1 28 1-18 1 4 1-6 1 1 1-37 1 1 1-18 1 21 1-10 1 42 1-23 1 19 1-10 1 9 1-11 1 2 1-23 1 11 1-10 1 3 1-13 1 11 1-7 1 19 1-12 1 0 1-21 1 18 1-22 1 18 1-19 1 18 1-6 1 12 1-11 1 13 1-3 1 14 1-10 1 6 1-12 1 25 1 0 1 12 1-7 1 26 1-13 1 28 1-10 1 0 1-39 1 2 1-17 1 17 1-6 1 6 1-13 1 4 1-17 1 9 1-36 1 4 1-3 1 7 1-10 1 11 1-33 1 16 1-14 1 8 1-7 1 44 1-17 1 15 1-1 1 7 1-36 1 35 1-1 1 8 1-9 1 23 1-13 1 26 1-9 1 8 1-15 1 4 1-26 1 9 1-16 1 14 1-17 1 27 1-17 1 4 1-11 1 12 1-18 1 11 1-12 1 9 1-17 1 5 1-11 1 37 1-8 1 21 1-6 1 16 1-19 1 17 1-9 1 27 1-19 1 11 1-13 1 8 1-18 1 3 1-22 1 27 1-16 1 6 1-1 1 6 1-11 1 24 1-7 1 17 1-36 1 5 1-1 1 22 1-12 1 9 1-3 1 12 1-14 1 5 1-18 1 8 1-23 1 4 1-5 1 11 1-11 1 18 1-28 1 3 1-3"/>
<path stroke="#39B600" d="M0 247l1-8 1-27 1 8 1-16 1 8 1-15 1 8 1-10 1 12 1-11 1 9 1-14 1 13 1-3 1 14 1-19 1 13 1-14 1 21 1-7 1 8 1-23 1 9 1-14 1 6 1-7 1 24 1-16 1 11 1-10 1 12 1-12 1 15 1-30 1 13 1-6 1 18 1-15 1 18 1-11 1 13 1-12 1 13 1-9 1 13 1-11 1 9 1-13 1 3 1-23 1 31 1-16 1 12 1-13 1 8 1-9 1 2 1-7 1 17 1-7 1 13 1-20 1 0 1-10 1 14 1-11 1 9 1-5 1 20 1-26 1 0 1-18 1 6 1-15 1 6 1-7 1 17 1-12 1 13 1-8 1 22 1-9 1 1 1-19 1 7 1-6 1 12 1-4 1 7 1-4 1 3 1-9 1 11 1-6 1 28 1-11 1 4 1-21 1 18 1-4 1 8 1-12 1 17 1-1 1 5 1-16 1 14 1-9 1 18 1-6 1 6 1-24 1 16 1-10 1 12 1-11 1 13 1-20 1 10 1-11 1 8 1-6 1 9 1-23 1 4 1-4 1 25 1-7 1 14 1-19 1 24 1-19 1 18 1-1 1 21 1-13 1 1 1-12 1 5 1-5 1 7 1-14 1 7 1-6 1 21 1 0 1 15 1-20 1 6 1-26 1 4 1-17 1 17 1-20 1 15 1-6 1 5 1-19 1 19 1-3 1 11 1-23 1 2 1-8 1 14 1-2 1 9 1-15 1 16 1-3 1 16 1-7 1 7 1-20 1 16 1-8 1 0 1-19 1 16 1 0 1 11 1-28 1 16 1-7 1 21 1-20 1 6 1-9 1 7 1-14 1 15 1-6 1 14 1-8 1 5 1-12 1 29 1-17 1 6 1-8 1 1 1-1 1 15 1 0 1 8 1-15 1 21 1-8 1 3 1-16 1 0 1-20 1 22 1-13 1 21 1-4 1 13 1-5 1 17 1-1 1 0 1-23 1 0 1-16 1 13 1-7 1 6 1-10 1 2 1-11 1 18 1-17 1 7 1-4 1 13 1-6 1 17 1-14 1 5 1-17 1 23 1-14 1 2 1-11 1 11 1-17 1 15 1-6 1 20 1 0 1 17 1-6 1 5 1-25 1 15 1-8 1 13 1-31 1 14 1-8 1 13 1-14 1 8 1-9 1 6 1-14 1 22 1-1 1 3 1-7 1 6 1-17 1 26 1-31 1 5 1-17 1 16 1-3 1 5 1-7 1 17 1-5 1 1 1-22 1 21 1-3 1 23 1-17 1 15 1-24 1 0 1 0 1 14 1-14 1 4 1-4 1 11 1-13 1 23 1-7 1 3 1-9 1 10 1-12 1 19 1-9 1 3 1-3 1 8 1-16 1 11 1-14 1 1 1-16 1 16 1-2 1 17 1-15 1 9 1-8 1 12 1-25 1 7 1-13 1 15 1-3 1 7 1-15 1 1 1-10 1 16 1-4 1 9 1-5 1 13 1-12 1 18 1-10 1 13 1-25 1 24 1-19 1 10 1-6 1 14 1-14 1 6 1-25 1 5 1-20 1 26 1-8 1 21 1-4 1 11 1-13 1 14 1-8 1 8 1-20 1 22 1-7 1 14 1-17 1 2 1-15 1 12 1-12 1 6 1-11 1 11 1-5 1 3 1-7 1 11 1-5 1 6 1-12 1 4 1-16 1 15 1-9 1 18 1 0 1 7 1-2 1 17 1-27 1 1 1-12 1 14 1-20 1 0 1-7 1 26 1-22 1 17 1-2 1 13 1-13 1 11 1-3 1 16 1-20 1 15 1-5 1 15 1-3 1 12 1-15 1 6 1-8 1 13 1-34 1 3 1-1 1 16 1-10 1 6 1-16 1 7 1-8 1 23 1-14 1 10 1-13 1 24 1-9 1 17 1-27 1 11 1-8 1 27 1-21 1 2 1-11 1 16 1-8 1 14 1-21 1 3 1-30 1 15 1-13 1 24 1-7 1 4 1-16 1 20 1-7 1 13 1-18 1 15 1-5 1 9 1-13 1 7 1-9 1 7 1-17 1 9 1-13 1 23 1-15 1 4 1-4 1 15 1-16 1 7 1-1 1 23 1-24 1 4 1-1 1 27 1-18 1 8 1-9 1 10 1-20 1 17 1-14 1 4 1-16 1 23 1-8 1 0 1-8 1 25 1-15 1 9 1-15 1 21 1-7 1 22 1-20 1 15 1-9 1 0 1-14 1-251 1 0 1 25 1 0 1 10 1-12 1 9 1-10 1 9 1 0 1 13 1-4 1 19 1-4 1 13 1-8 1 29 1 0 1 24 1-1 1 31 1-2 1 36 1 0 1 28 1-1 1 27 1-2 1 25 1-7 1 24 1-8 1 14 1-14 1 20 1 0 1 1 1-11 1 3 1-14 1 13 1-44 1 11 1-11 1 6 1-20 1 4 1-7 1 24 1-8 1 18 1-13 1 17 1-13 1 9 1-5 1 20 1-12 1 10 1-10 1 11 1-14 1 13 1-9 1 3 1-6 1 13 1-26 1 0 1-15 1 7 1-2 1 12 1-10 1 22 1-2 1 8 1-5 1 15 1-24 1 0 1-13 1 17 1-21 1 10 1-4 1 6 1-10 1 6 1-10 1 21 1-18 1 21 1-1 1 22 1-27 1 1 1-13 1 14 1-13 1 10 1-4 1 24 1-12 1 1 1-5 1 12 1-12 1 24 1-12 1 6 1-11 1 2 1-23 1 11 1-11 1 19 1-10 1 10 1-9 1 6 1-27 1 30 1-1 1 20 1-18 1 0 1-8 1 19 1-25 1 11 1-10 1 13 1-19 1 13 1-5 1 6 1-14 1 9 1-7 1 26 1-16 1 7 1-11 1 14 1-11 1 17 1-11 1 3 1-27 1 25 1-3 1 15 1-9 1 12 1-2 1 21 1-20 1 8 1-15 1 3 1-9 1 17 1-13 1 14 1-39 1 5 1-1 1 24 1-10 1 12 1-14 1 6 1-9 1 25 1-15 1 3 1-9 1 18 1-13 1 6 1-18 1 12 1-15 1 31 1-8 1 2 1-5 1 10 1-8 1 9 1-12 1 27 1-3 1 16 1-39 1 5 1-19 1 1 1-5 1 6 1-13 1 4 1-1 1 3 1-5 1 23 1-23 1 10 1-9 1 16 1-12 1 7 1-4 1 24 1-15 1 17 1-8 1 2 1-15 1 4 1-3 1 20 1-1 1 9 1-18 1 18 1-15 1 8 1-30 1 12 1-8 1 8 1-7 1 10 1-15 1 13 1-7 1 17 1-8 1 21 1-13 1 9 1-20 1 19 1-11 1 15 1-10 1 9 1-21 1 5 1-10 1 5 1-11 1 21 1-26 1 17 1-2 1 14 1 0 1 16 1-6 1 4 1-30 1 0 1-9 1 21 1-17 1 10 1-19 1 16 1-1 1 19 1-11 1 2 1-10 1 21 1-33 1 7 1-4 1 22 1 0 1 11 1-8 1 4 1-27 1 2 1-3 1 3 1-16 1 14 1-12 1 0 1-2 1 7 1-9 1 2 1-12 1 8 1-4 1 24 1-13 1 20 1-21 1 3 1 0 1 22 1-17 1 25 1-19 1 6 1-8 1 5 1-19 1 22 1-5 1 9 1-14 1 14 1-13 1 10 1-9 1 20 1-2 1 6 1-13 1 18 1-28 1 16 1-11 1 6 1-5 1 6 1-10 1 15 1-14 1 5 1-8 1 16 1-4 1 7 1-12 1 7 1-7 1 2 1-18 1 11 1-12 1 10 1-3 1 6 1-7 1 29 1-6 1 1 1-15 1 9 1-18 1 1 1-13 1 14 1-15 1 24 1-5 1 2 1-12 1 32 1-21 1 3 1-11 1 15 1-9 1 14 1-19 1 6 1-1 1 4 1-18 1 7 1-6 1 21 1-4 1 12 1-8 1 12 1-4 1 9 1-17 1 11 1-10 1 3 1-16 1 12 1-12 1 3 1-8 1 28 1-19 1 10 1-5 1 16 1-25 1 6 1-5 1 4 1 0 1 3 1-10 1 20 1-7 1 17 1-10 1 7 1-15 1 5 1-14 1 9 1-10 1 10 1-20 1 14 1-16 1 5 1-5 1 12 1-13 1 11 1-12 1 25 1 0 1 13 1-11 1 10 1-13 1 6 1-7 1 2 1-12 1 6 1-5 1 15 1 0 1 5 1-16 1 2 1-5 1 22 1-5 1 7 1-23 1 11 1-18 1 5 1-20 1 12 1-1 1 23 1-4 1 11 1-6 1 1 1-15 1 5 1-14 1 11 1-6 1 6 1-20 1 34 1-7 1 24 1-17 1 7 1-15 1 1 1-7 1 14 1-9 1 4 1-22 1 23 1-11 1 19 1-13 1 13 1-5 1 9 1-30 1 11 1-16 1 22 1-14 1 7 1-9 1 14 1-5 1 7 1-25 1 18 1-7"/>
<path stroke="#00BF7D" d="M0 247l1-1 1-36 1 16 1-2 1 2 1-31 1 5 1-13 1 23 1-7 1 3 1-21 1 34 1-8 1 11 1-10 1 18 1-13 1 5 1-17 1 1 1-22 1 14 1-13 1 12 1-6 1 13 1-5 1 9 1-15 1 12 1-11 1 9 1-20 1 17 1-21 1 22 1-7 1 17 1-5 1 14 1-11 1 8 1-23 1 17 1-2 1 8 1-12 1 7 1-5 1 27 1-26 1 4 1-26 1 9 1-13 1 10 1 0 1 18 1 0 1 8 1-17 1 3 1-19 1 9 1-6 1 13 1-7 1 15 1-7 1 20 1-16 1 25 1-5 1 4 1-35 1 8 1-3 1 12 1-18 1 3 1-7 1 19 1-28 1 1 1-14 1 36 1-13 1 9 1-24 1 10 1-11 1 19 1-16 1 10 1-3 1 21 1-2 1 7 1-1 1 10 1-16 1 5 1-16 1 8 1-19 1 11 1-4 1 13 1-21 1 17 1 0 1 26 1-28 1 9 1-17 1 20 1-6 1 21 1-5 1 8 1-22 1 9 1-4 1 18 1-20 1 9 1-9 1 22 1-13 1 6 1-25 1 8 1-14 1 12 1-20 1 5 1-12 1 11 1-13 1 0 1-5 1 16 1-9 1 17 1-11 1 16 1-12 1 8 1 0 1 8 1-11 1 26 1-22 1 4 1-3 1 8 1-24 1 17 1-24 1 1 1-11 1 47 1-6 1 8 1-11 1 14 1-7 1 10 1-21 1 10 1 0 1 11 1-12 1 17 1-16 1 8 1-9 1 12 1-10 1 15 1-26 1 0 1-23 1 15 1-8 1 12 1-7 1 16 1-4 1 15 1-13 1 14 1-11 1 9 1-31 1 11 1-13 1 22 1-2 1 17 1-10 1 16 1-16 1 3 1-9 1 11 1-10 1 5 1-15 1 9 1-5 1 15 1-8 1 0 1-27 1 8 1-11 1 16 1-10 1 17 1-4 1 16 1-29 1 24 1 0 1 23 1-12 1 11 1-5 1 10 1-9 1 3 1-13 1 25 1-48 1 12 1-2 1 3 1-21 1 22 1 0 1 8 1-13 1 21 1-14 1 8 1-18 1 3 1-15 1 8 1-9 1 18 1-18 1 13 1-4 1 7 1-16 1 20 1-13 1 13 1-18 1 7 1-4 1 18 1-6 1 22 1-9 1 8 1-14 1 0 1-16 1 5 1-6 1 23 1-8 1 2 1-14 1 13 1-13 1 3 1-15 1 18 1-10 1 0 1-24 1 14 1-7 1 25 1-10 1 7 1-9 1 14 1-18 1 3 1-10 1 12 1-9 1 4 1-20 1 10 1-12 1 21 1-24 1 26 1-2 1 6 1-12 1 22 1-3 1 7 1-6 1 14 1-32 1 31 1-8 1 10 1-14 1 1 1-19 1 17 1-2 1 18 1-12 1 0 1-7 1 11 1-18 1 20 1-9 1 13 1-17 1 13 1-15 1 10 1-2 1 14 1-13 1 11 1-10 1 9 1-14 1 13 1-8 1 4 1-19 1 19 1-2 1 4 1-16 1 16 1-14 1 6 1-17 1 5 1-7 1 14 1-13 1 20 1-18 1 14 1-4 1 9 1-4 1 12 1-22 1 5 1-9 1 14 1-16 1 4 1-11 1 6 1 0 1 14 1-12 1 18 1-17 1 17 1-6 1 26 1-19 1 13 1-9 1 18 1-10 1 6 1-19 1 5 1-25 1 6 1-5 1 17 1-7 1 3 1-5 1 13 1-14 1 10 1-7 1 17 1-9 1 5 1-8 1 19 1-15 1 4 1-13 1 12 1-8 1 9 1-15 1 18 1-9 1 3 1 0 1 8 1-24 1 17 1-17 1 10 1-8 1 14 1-13 1 11 1-5 1 22 1 0 1 15 1-22 1 11 1-10 1 7 1-17 1 8 1-18 1 21 1-5 1 15 1-13 1 7 1-27 1 4 1-18 1 14 1-3 1 29 1-12 1 21 1-16 1 3 1-17 1 2 1-6 1 12 1-17 1 5 1-22 1 16 1-4 1 29 1-7 1 0 1-22 1 21 1-14 1 20 1-12 1 18 1-19 1 20 1-7 1 13 1-20 1 16 1-19 1 9 1-5 1 29 1-15 1 8 1-19 1 6 1-20 1 7 1-4 1 34 1-9 1 5 1-4 1 13 1-16 1 13 1-10 1 0 1-16 1 4 1-11 1 20 1-4 1-258 1-7 1 14 1-2 1 12 1-2 1 16 1-7 1 13 1-1 1 7 1-12 1 9 1 0 1 10 1 0 1 25 1 0 1 14 1-10 1 3 1-1 1 17 1 0 1 19 1-6 1 14 1 0 1 12 1-1 1 41 1 0 1 26 1 0 1 28 1 0 1 13 1-1 1 11 1-10 1 4 1-17 1 17 1-7 1 2 1-8 1 7 1-15 1 21 1-10 1 15 1-11 1 0 1-28 1 28 1-2 1 17 1-12 1 17 1-7 1 30 1-14 1 12 1-13 1 7 1-29 1 0 1-5 1 17 1-9 1 15 1-8 1 11 1-11 1 13 1-7 1 0 1-23 1 3 1-17 1 14 1-24 1 13 1-16 1 15 1-3 1 24 1-10 1 23 1-29 1 5 1-6 1 7 1-1 1 8 1-12 1 11 1-2 1 30 1-9 1 23 1-10 1 4 1-27 1 17 1-14 1 0 1-7 1 27 1-18 1 10 1-7 1 19 1-7 1 18 1-10 1 3 1-31 1 4 1-19 1 14 1-4 1 10 1-10 1 12 1-7 1 14 1-13 1 9 1-29 1 0 1-16 1 29 1 0 1 5 1-19 1 8 1-14 1 0 1-9 1 12 1-1 1 21 1-14 1 7 1-14 1 13 1-1 1 4 1-6 1 5 1-10 1 25 1-6 1 5 1-8 1 13 1-28 1 12 1-10 1 7 1-3 1 8 1 0 1 14 1-16 1 5 1-13 1 5 1-17 1 13 1-12 1 7 1-6 1 18 1-13 1 11 1-16 1 22 1-8 1 9 1-11 1 9 1-11 1 24 1-11 1 1 1-7 1 4 1-15 1 8 1-1 1 15 1-6 1 9 1-9 1 16 1-16 1 9 1-11 1 14 1-14 1 13 1-11 1 4 1-30 1 14 1-6 1 10 1-18 1 24 1-7 1 12 1-18 1 36 1-28 1 13 1-18 1 1 1-10 1 2 1-4 1 8 1-14 1 29 1-16 1 27 1-8 1 9 1-13 1 21 1-5 1 7 1-15 1 11 1-16 1 11 1-14 1 10 1-8 1 6 1-15 1 7 1-12 1 2 1-21 1 15 1 0 1 25 1-20 1 3 1-17 1 16 1-8 1 19 1-17 1 32 1-16 1 20 1-9 1 2 1-19 1 7 1-2 1 5 1-14 1 28 1-1 1 7 1-24 1 16 1-9 1 22 1-17 1 2 1-19 1 6 1-6 1 14 1-29 1 4 1-8 1 12 1-3 1 13 1-9 1 5 1-1 1 27 1-10 1 2 1-30 1 0 1-20 1 29 1 0 1 14 1-23 1 0 1-15 1 31 1-10 1 19 1-6 1 19 1-25 1 5 1-15 1 9 1-8 1 15 1-18 1 7 1-8 1 0 1-8 1 22 1-8 1 25 1-7 1 16 1-13 1 4 1-21 1 12 1-3 1 16 1-18 1 12 1-8 1 13 1-17 1 7 1-7 1 14 1-19 1 5 1-10 1 15 1-20 1 9 1-4 1 13 1-21 1 17 1-15 1 12 1-10 1 5 1-30 1 16 1-2 1 10 1-13 1 36 1-7 1 13 1-13 1 17 1-15 1 12 1-12 1 4 1-9 1 7 1-13 1 5 1-13 1 13 1 0 1 14 1-12 1 15 1-12 1 10 1-4 1 4 1-17 1 16 1-9 1 0 1-9 1 3 1-5 1 28 1-18 1 0 1-12 1 3 1-8 1 9 1-6 1 12 1-7 1 5 1-12 1 5 1-13 1 16 1-16 1 6 1-2 1 23 1-13 1 22 1-3 1 1 1-6 1 1 1-13 1 8 1-19 1 11 1-7 1 14 1-5 1 20 1-25 1 5 1-7 1 18 1-2 1 23 1-22 1 10 1 0 1 9 1-20 1 3 1-12 1 3 1-19 1 12 1-15 1 10 1-1 1 25 1-5 1 15 1-19 1 14 1-13 1 5 1-22 1 7 1-7 1 5 1-22 1 20 1-4 1 25 1-21 1 12 1-16 1 19 1-10 1 15 1-13 1 16 1-14 1 4 1-8 1 17 1-8 1 4 1-20 1 13 1 0 1 5 1-16 1 11 1-12 1 14 1-17 1 26 1-24 1 9 1-3 1 13 1-15 1 11 1-17 1 25 1-18 1 28 1-4 1 11 1-30 1 2 1-10 1 3 1-14 1 8 1-3 1 4 1-16 1 21 1-9 1 7 1-8"/>
<path stroke="#00BFC4" d="M0 247l1 0 1-22 1 4 1-21 1 5 1-25 1 14 1-12 1 8 1-15 1 8 1-7 1 6 1-12 1 4 1-11 1 23 1-10 1 17 1-15 1 23 1-17 1 18 1-7 1 11 1-32 1 12 1-8 1 10 1-12 1 8 1-12 1 30 1-32 1 13 1-9 1 12 1-19 1 37 1-20 1 18 1-10 1 11 1-4 1 15 1-25 1 2 1-16 1 16 1-14 1 5 1-5 1 11 1-1 1 7 1-21 1 5 1-2 1 14 1-16 1 13 1-4 1 25 1-14 1 1 1-7 1 6 1-19 1 14 1-4 1 11 1-7 1 17 1-2 1 6 1-12 1 6 1-18 1 6 1-21 1 2 1-3 1 18 1-23 1 32 1-11 1 7 1-5 1 6 1-9 1 6 1-5 1 22 1-3 1 10 1-11 1 13 1-15 1 17 1-12 1 8 1-19 1 11 1-9 1 2 1-17 1 7 1-19 1 0 1-11 1 24 1-17 1 16 1-11 1 17 1-18 1 7 1-25 1 13 1-4 1 13 1-8 1 16 1-11 1 6 1-9 1 13 1-6 1 18 1-3 1 18 1-7 1 4 1-12 1 18 1-18 1 7 1-20 1 2 1-5 1 15 1-16 1 6 1-4 1 6 1-8 1 20 1-16 1 4 1-12 1 8 1-6 1 5 1-3 1 21 1-19 1 0 1-15 1 4 1-7 1 9 1-2 1 13 1-7 1 15 1-10 1 8 1-10 1 14 1-19 1 18 1-4 1 8 1-10 1 13 1-19 1 18 1-8 1 5 1-19 1 13 1-6 1 16 1-11 1 17 1-18 1 13 1-20 1 15 1-6 1 5 1-13 1 14 1 0 1 11 1-14 1 19 1-8 1 9 1-4 1 6 1 0 1 11 1-11 1 10 1-19 1 4 1-15 1 8 1-22 1 11 1-10 1 24 1-5 1 5 1-16 1 25 1-13 1 5 1-13 1 6 1-13 1 11 1-27 1 5 1-6 1 19 1-11 1 6 1-14 1 12 1-1 1 4 1-14 1 24 1-12 1 2 1-21 1 12 1-7 1 9 1-7 1 22 1-7 1 0 1-22 1 30 1-13 1 14 1-9 1 24 1-19 1 14 1-13 1 15 1-11 1 2 1-11 1 1 1-16 1 11 1-2 1 30 1-2 1 17 1-18 1 12 1-8 1 8 1-18 1 13 1-15 1 4 1-15 1 8 1-5 1 1 1-16 1 12 1-4 1 10 1-7 1 17 1-2 1 29 1-11 1 10 1-14 1 7 1-22 1 13 1-3 1 9 1-25 1 7 1-13 1 3 1-14 1 1 1 0 1 15 1-8 1 1 1-14 1 15 1-14 1 4 1-11 1 7 1-3 1 30 1-15 1 0 1-13 1 16 1-3 1 0 1-13 1 16 1-27 1 0 1-6 1 14 1-21 1 14 1-2 1 3 1-9 1 22 1-5 1 13 1-10 1 25 1-6 1 3 1-4 1 8 1-10 1 2 1-7 1 7 1-1 1 5 1-12 1 19 1-11 1 9 1 0 1 13 1-25 1 8 1-7 1 11 1-7 1 10 1-6 1 8 1-5 1 0 1-12 1 8 1-17 1 11 1-8 1 16 1-3 1 11 1-13 1 4 1-20 1 17 1-8 1 13 1-10 1 24 1-11 1 4 1-19 1 6 1-15 1 6 1-6 1 16 1 0 1 15 1-5 1 11 1-19 1 4 1 0 1 13 1-25 1 8 1-16 1 4 1-18 1 17 1-10 1 11 1-10 1 8 1-16 1 13 1-18 1 26 1-10 1 6 1-4 1 11 1-9 1 19 1-21 1 15 1-6 1 15 1-3 1 9 1-15 1 16 1-29 1 4 1-1 1 21 1-7 1 2 1-17 1 3 1-19 1 15 1-13 1 3 1-3 1 23 1-12 1 0 1-8 1 14 1-8 1 10 1-11 1 14 1-10 1 18 1-16 1 25 1-10 1 2 1-7 1 3 1-14 1 4 1-9 1 7 1-2 1 19 1-11 1 6 1-4 1 6 1-8 1 6 1-8 1 13 1-13 1 15 1-10 1 8 1-9 1 7 1-17 1 13 1-10 1 9 1-16 1 22 1-15 1 14 1-17 1 18 1-21 1 6 1-27 1 23 1-16 1 19 1-4 1 8 1-10 1 21 1-2 1 7 1-9 1 9 1-21 1 13 1-26 1 16 1-16 1 9 1-9 1-262 1 7 1 5 1 0 1 9 1-18 1 18 1-5 1 12 1-8 1 14 1-31 1 6 1-8 1 6 1-26 1 0 1-19 1 7 1-22 1 4 1-19 1 26 1-4 1 6 1-16 1 8 1-14 1 17 1-16 1 17 1-20 1 5 1-8 1 14 1-11 1 3 1-15 1 9 1-20 1 13 1-13 1 12 1-7 1 25 1-1 1 23 1-8 1 12 1-20 1 1 1-5 1 16 1-19 1 10 1-20 1 2 1-11 1 16 1 0 1 20 1-20 1 17 1-17 1 13 1-15 1 15 1-23 1 10 1-7 1 12 1-26 1 13 1-8 1 12 1-3 1 39 1-6 1 13 1-9 1 17 1-16 1 6 1-15 1 17 1-16 1 8 1-25 1 17 1-30 1 12 1-15 1 5 1-21 1 30 1-7 1 7 1-21 1 5 1-24 1 20 1-4 1 3 1-11 1 15 1-6 1 13 1-33 1 5 1-14 1 17 1-10 1 13 1-6 1 14 1-3 1 23 1-7 1 16 1-4 1 17 1-12 1 9 1-3 1 15 1-29 1 7 1-11 1 8 1-19 1 19 1-3 1 8 1-19 1 3 1-28 1 11 1-7 1 8 1-16 1 26 1-11 1 8 1-11 1 10 1-18 1 15 1-10 1 10 1-9 1 29 1-6 1 12 1 0 1 8 1-17 1 8 1-4 1 16 1-1 1 22 1-12 1 9 1-19 1 7 1-21 1 17 1-7 1 7 1-10 1 6 1-27 1 5 1-19 1 25 1-8 1 5 1-19 1 9 1 0 1 13 1-23 1 11 1 0 1 13 1-9 1 22 1-12 1 0 1-15 1 14 1-24 1 2 1 0 1 7 1-5 1 6 1-28 1 10 1-7 1 29 1 0 1 18 1-22 1 16 1-9 1 9 1-21 1 22 1-4 1 6 1-29 1 21 1-10 1 16 1-16 1 6 1-23 1 8 1-11 1 15 1-6 1 19 1 0 1 24 1-20 1 16 1-5 1 22 1-25 1 8 1-25 1 17 1-15 1 10 1-8 1 7 1-14 1 0 1-7 1 13 1-8 1 30 1-16 1 14 1-31 1 4 1-27 1 3 1-11 1 11 1-7 1 39 1-5 1 7 1-40 1 8 1 0 1 15 1-8 1 21 1-3 1 16 1-17 1 15 1-17 1 18 1-16 1 5 1-12 1 3 1-5 1 16 1-41 1 1 1-15 1 21 1-6 1 12 1 0 1 17 1-4 1 12 1-23 1 21 1-18 1 14 1-2 1 8 1-23 1 19 1-7 1 4 1-5 1 20 1-5 1 18 1-21 1 2 1-3 1 18 1-9 1 8 1-21 1 20 1-1 1 6 1-7 1 16 1-9 1 11 1-20 1 6 1 0 1 15 1-11 1 16 1-16 1 6 1-13 1 34 1-9 1 10 1-26 1 17 1-29 1 11 1-23 1 14 1-3 1 5 1-14 1 30 1 0 1 2 1-16 1 3 1-16 1 2 1-24 1 8 1-14 1 22 1-9 1 9 1-4 1 8 1-7 1 0 1-6 1 13 1-24 1 19 1-8 1 12 1-10 1 9 1-9 1 9 1-13 1 9 1-20 1 0 1-5 1 22 1-11 1 6 1-10 1 17 1-2 1 0 1 0 1 27 1-6 1 14 1-26 1 22 1-7 1 12 1-15 1 20 1-19 1 14 1-2 1 16 1-22 1 5 1-7 1 2 1-13 1 3 1-13 1 7 1-15 1 4 1-9 1 0 1-3 1 27 1-11 1 17 1-5 1 21 1-27 1 11 1-13 1 8 1-10 1 7 1-18 1 11 1-8 1 15 1-10 1 14 1-21 1 14 1-12 1 14 1-14 1 16 1-31 1 9 1-19 1 26 1-14 1 26 1-10 1 4 1-2 1 23 1-29 1 0 1-12 1 27 1-11 1 0 1-1 1 14 1-18 1 9 1-10 1 22 1-16 1 13 1-12 1 0 1-13 1 11 1-13 1 13 1-4 1 26 1-14 1 8 1-19 1 9 1-20 1 16 1-7 1 8 1-28 1 7 1-9 1 12 1-22 1 32 1-15 1 18 1-2 1 2 1-8 1 35 1-30 1 16 1-4 1 21 1-4 1 23 1-10 1 6 1-17 1 18 1-9 1 10 1-36 1 8 1-19 1 8 1-15 1 13 1-18 1 6 1-11 1 32 1-4 1 8 1-11 1 18 1-1"/>
<path stroke="#00B0F6" d="M0 247l1-1 1-33 1 0 1-27 1 4 1-6 1 10 1-17 1 4 1-12 1 10 1-9 1 9 1-5 1 6 1-7 1 13 1-17 1 6 1-13 1 13 1-10 1 27 1-19 1 8 1-2 1 9 1-5 1 15 1-18 1 8 1-4 1 18 1-3 1 16 1-5 1 8 1-19 1 15 1-1 1 11 1-16 1 8 1-15 1 9 1-18 1 7 1-16 1 24 1-22 1 4 1-7 1 24 1-6 1 21 1-24 1 4 1-16 1 14 1-13 1 17 1-24 1 15 1-17 1 26 1-15 1 11 1-10 1 17 1-4 1 7 1-9 1 2 1-12 1 22 1-22 1 20 1-13 1 17 1-9 1 17 1-25 1 17 1-10 1 7 1-13 1 1 1-14 1 4 1-5 1 29 1-7 1 16 1-10 1 7 1-24 1 7 1-12 1 24 1-1 1 8 1-20 1 3 1-22 1 14 1-19 1 19 1-7 1 14 1-8 1 4 1-3 1 14 1-9 1 6 1-9 1 15 1-10 1 19 1-13 1 24 1-27 1 11 1-18 1 24 1-16 1 18 1-11 1 5 1-10 1 2 1-21 1 5 1-21 1 4 1-5 1 7 1-18 1 14 1-6 1 26 1-16 1 18 1-4 1 13 1-3 1 6 1-21 1 7 1-11 1 0 1-11 1 1 1-13 1 12 1-6 1 21 1-5 1 14 1-21 1 16 1-21 1 0 1-8 1 23 1-13 1 21 1-23 1 15 1-10 1 8 1-8 1 18 1-10 1 12 1-6 1 20 1-32 1 2 1-15 1 18 1 0 1 20 1-23 1 2 1-13 1 12 1-2 1 22 1-13 1 13 1-1 1 24 1-12 1 5 1-21 1 14 1-12 1 14 1-15 1 24 1-8 1 13 1-11 1 3 1-20 1 0 1-12 1 19 1-4 1 12 1-20 1 5 1-4 1 20 1-15 1 6 1-26 1 5 1-26 1 16 1-5 1 4 1-4 1 30 1-3 1 7 1-16 1 25 1-20 1 3 1-9 1 8 1-7 1 10 1-15 1 16 1-16 1 15 1-5 1 13 1-4 1 28 1-13 1 4 1-14 1 15 1-9 1 4 1 0 1 16 1-37 1 5 1-8 1 6 1-4 1 7 1-16 1 19 1-5 1 14 1-21 1 9 1-11 1 23 1-12 1 7 1-8 1 12 1-10 1 8 1-33 1 15 1-2 1 5 1-4 1 4 1-9 1 10 1-1 1 18 1 0 1 5 1-15 1 26 1-12 1 1 1-8 1 8 1-1 1 15 1-12 1 7 1-17 1 0 1-13 1 2 1-9 1 20 1-11 1 22 1-6 1 7 1-2 1 3 1-30 1 17 1-13 1 11 1-26 1 11 1-5 1 18 1-20 1 2 1-2 1 13 1-10 1 10 1-8 1 4 1-13 1 4 1-10 1 20 1-15 1 6 1-7 1 14 1-7 1 9 1-1 1 10 1-11 1 20 1-13 1 6 1-12 1 6 1-12 1 3 1-7 1 20 1-21 1 0 1-1 1 6 1-16 1 20 1-1 1 8 1-11 1 13 1-9 1 16 1-17 1 7 1-8 1 25 1-11 1 13 1-19 1 25 1-16 1 2 1-7 1 10 1-20 1 16 1-13 1 2 1-18 1 13 1-10 1 3 1-6 1 13 1-5 1 14 1-10 1 14 1-9 1 12 1-7 1 2 1-27 1 8 1-5 1 6 1-6 1 14 1-16 1 14 1 0 1 7 1-16 1 16 1-10 1 15 1 0 1 18 1-23 1 17 1-3 1 11 1-23 1 1 1-15 1 14 1-3 1 19 1-12 1 3 1-8 1 0 1-12 1 10 1-24 1 12 1-19 1 9 1-3 1 18 1-7 1 9 1-9 1 11 1-2 1 11 1-14 1 8 1-16 1 9 1-17 1 9 1-5 1 16 1-18 1 12 1-1 1 13 1-5 1 7 1-11 1 8 1-14 1 22 1-5 1 17 1-16 1 9 1-19 1 5 1-5 1 10 1-17 1 28 1 0 1 2 1-6 1 11 1-15 1 2 1-13 1 11 1-7 1 1 1-6 1 8 1-11 1 24 1-9 1 6 1-10 1 0 1-1 1 4 1-8 1 22 1-12 1 18 1-19 1 4 1-7 1 4 1-28 1 12 1-4 1 8 1-25 1 18 1-9 1 21 1-15 1 10 1-18 1 27 1-16 1 8 1-4 1-254 1 2 1 8 1-3 1 17 1-2 1 16 1-3 1 10 1 0 1 20 1-6 1 11 1 0 1 16 1-5 1 30 1 0 1 36 1-1 1 45 1 0 1 34 1-2 1 29 1-2 1 16 1-7 1 6 1-1 1 10 1-13 1 9 1-8 1 6 1-17 1 6 1-11 1 8 1-6 1 9 1-13 1 26 1-10 1 16 1-8 1 12 1-1 1 9 1-29 1 11 1-11 1 19 1-6 1 15 1-8 1 4 1-7 1 8 1-22 1 10 1-18 1 8 1-10 1 7 1-18 1 5 1-8 1 31 1-12 1 28 1-8 1 0 1-19 1 6 1-12 1 6 1-21 1 17 1-13 1 7 1-13 1 18 1-12 1 27 1 0 1 3 1-19 1 17 1-11 1 17 1-16 1 21 1-5 1 1 1-32 1 11 1-9 1 22 1-3 1 4 1-15 1 10 1-21 1 7 1-2 1 21 1-6 1 6 1-21 1 3 1-13 1 20 1 0 1 20 1-14 1 14 1-26 1 4 1-4 1 12 1 0 1 27 1-17 1 5 1-17 1 9 1-5 1 10 1-15 1 0 1-6 1 6 1-11 1 6 1-19 1 0 1-9 1 24 1-4 1 9 1-17 1 11 1-1 1 30 1-13 1 4 1-24 1 10 1-9 1 8 1-12 1 13 1-9 1 18 1-8 1 3 1-6 1 23 1-19 1 2 1-11 1 11 1-9 1 19 1-7 1 0 1-10 1 16 1-5 1 16 1-7 1 8 1-10 1 8 1-13 1 7 1-12 1 0 1-17 1 7 1-12 1 16 1-6 1 10 1-3 1 8 1-12 1 14 1-28 1 5 1-3 1 5 1-3 1 21 1-6 1 15 1-15 1 0 1-11 1 20 1-2 1 4 1-21 1 8 1-14 1 7 1-3 1 4 1-17 1 15 1-7 1 20 1-8 1 6 1-18 1 16 1-8 1 15 1-4 1 13 1-20 1 13 1-11 1 6 1-26 1 12 1-5 1 10 1-10 1 8 1-17 1 8 1-6 1 30 1-12 1 20 1-14 1 11 1-9 1 10 1 0 1 4 1-14 1 14 1-12 1 7 1-6 1 4 1-9 1 2 1-30 1 17 1-6 1 11 1-2 1 14 1 0 1 10 1-6 1 5 1-10 1 2 1-6 1 12 1-4 1 1 1-7 1 15 1-12 1 9 1-10 1 17 1-13 1 3 1-4 1 7 1-30 1 10 1-17 1 14 1-1 1 15 1-14 1 16 1-1 1 10 1-19 1 10 1-13 1 0 1-10 1 13 1-13 1 7 1-6 1 8 1-13 1 11 1-8 1 15 1-18 1 4 1-21 1 10 1 0 1 31 1-1 1 6 1-24 1 5 1-5 1 16 1-6 1 16 1-1 1 4 1-14 1 11 1-19 1 21 1-2 1 9 1-23 1 6 1-18 1 15 1-11 1 11 1-10 1 18 1-2 1 9 1-2 1 7 1-24 1 5 1-4 1 13 1-12 1 11 1-8 1 14 1-12 1 3 1-9 1 12 1-7 1 20 1-2 1 22 1-20 1 1 1-4 1 12 1-12 1 15 1-10 1 3 1-9 1 7 1-23 1 8 1-19 1 8 1-11 1 4 1-24 1 12 1-12 1 20 1-3 1 20 1-10 1 1 1-21 1 5 1-8 1 11 1-1 1 35 1-24 1 10 1-10 1 7 1-14 1 21 1-13 1 6 1-8 1 17 1-11 1 15 1-14 1 6 1-8 1 13 1-18 1 16 1-9 1 13 1-13 1 9 1-11 1 2 1-15 1 6 1-11 1 22 1-7 1 0 1-17 1 19 1-5 1 18 1-20 1 8 1-8 1 10 1-7 1 9 1-17 1 25 1-15 1 4 1-18 1 11 1-15 1 3 1-3 1 13 1-5 1 31 1-9 1 10 1-21 1 5 1-13 1 9 1-8 1 33 1-19 1 11 1-12 1 3 1-10 1 11 1-11 1 12 1-2 1 28 1-30 1 6 1-6 1 9 1-14 1 8 1-8 1 11 1-9 1 10 1-23 1 11 1 0 1 14 1-9 1 11 1-6 1 18 1-1 1 9 1-6 1 13 1-30 1 0 1-15 1 2 1-10 1 12 1-11 1 16 1-7 1 12 1 0 1 18 1-2 1 9 1-15 1 2 1-19 1 19 1-21 1 6 1-17 1 11 1-12 1 11 1-8 1 16 1-10"/>
<path stroke="#9590FF" d="M0 247l1-6 1-25 1 1 1-2 1 4 1-5 1 0 1-4 1 10 1-13 1 12 1-14 1 4 1-14 1 2 1-8 1 16 1-27 1 20 1-5 1 1 1-4 1 10 1-6 1 7 1-29 1 4 1-11 1 2 1-2 1 24 1 0 1 11 1-14 1 11 1-4 1 5 1-19 1 9 1-15 1 13 1-14 1 16 1-6 1 0 1-3 1 23 1-4 1 12 1 0 1 7 1-18 1 16 1-21 1 7 1-16 1 6 1-12 1 7 1-11 1 20 1-15 1 14 1 0 1 14 1-17 1 13 1-12 1 5 1-20 1 18 1 0 1 22 1-17 1 13 1-16 1 2 1-12 1 25 1-18 1 0 1-10 1 12 1-3 1 13 1-24 1 16 1-9 1 9 1-1 1 12 1-33 1 22 1 0 1 23 1-22 1 0 1-4 1 20 1-12 1 6 1-14 1 19 1-8 1 7 1-10 1 12 1-10 1 0 1-14 1 10 1-3 1 14 1-13 1 10 1-13 1 17 1-12 1 16 1-11 1 0 1-16 1 21 1-9 1 5 1-4 1 7 1-4 1 2 1-13 1 18 1-23 1 6 1-18 1 19 1-14 1 22 1-7 1 7 1-5 1 4 1-29 1 1 1-6 1 11 1-13 1 20 1-9 1 7 1 0 1 15 1-2 1 21 1 0 1 7 1-10 1 2 1-17 1 9 1-3 1 17 1-12 1 4 1-12 1 17 1-15 1 14 1-22 1 10 1-14 1 5 1-22 1 11 1-16 1 9 1-5 1 20 1-7 1 16 1 0 1 12 1-9 1 9 1-2 1 10 1-30 1 10 1 0 1 16 1-6 1 11 1-9 1 16 1-9 1 3 1-27 1 7 1-5 1 5 1-3 1 19 1-23 1 7 1-8 1 8 1-13 1 14 1-11 1 5 1-10 1 9 1-2 1 12 1-1 1 5 1-31 1 9 1-3 1 20 1-20 1 1 1-21 1 7 1-9 1 21 1-12 1 20 1-12 1 16 1-7 1 5 1-20 1 26 1-7 1 2 1-17 1 7 1-11 1 24 1-6 1 9 1-5 1 5 1-9 1 10 1-4 1 10 1-3 1 3 1-23 1 0 1-14 1 12 1-1 1 12 1-19 1 10 1-6 1 20 1-10 1 14 1-12 1 8 1-5 1 20 1-17 1 11 1-10 1 0 1-17 1 7 1-3 1 23 1-11 1 5 1-17 1 5 1-2 1 18 1-12 1 8 1-21 1 0 1-15 1 9 1-10 1 14 1-23 1 5 1 0 1 22 1-5 1 23 1-10 1 24 1-10 1 8 1-18 1 13 1-9 1 17 1-14 1 5 1-10 1 10 1-5 1 10 1-6 1 30 1-27 1 11 1-23 1 13 1-4 1 13 1-24 1 11 1-8 1 14 1-4 1 1 1-26 1 2 1-9 1 15 1-5 1 4 1-17 1 26 1-11 1 7 1 0 1 17 1-14 1 19 1-22 1 13 1-2 1 9 1-24 1 7 1-6 1 2 1-12 1 22 1-13 1 12 1-8 1 6 1-19 1 13 1-7 1 5 1-11 1 2 1-21 1 16 1-1 1 18 1-14 1 21 1-4 1 5 1-15 1 5 1-15 1 1 1-13 1 6 1-5 1 12 1-10 1 20 1-10 1 16 1-14 1 12 1-6 1 12 1-15 1 7 1-8 1 10 1-10 1 14 1-5 1 7 1-11 1 28 1-20 1 12 1-13 1 5 1-1 1 9 1-1 1 7 1-32 1 6 1-17 1 9 1-21 1 5 1-12 1 17 1-11 1 4 1-8 1 23 1-8 1 21 1-12 1 11 1-8 1 21 1-15 1 13 1-8 1 0 1-23 1 3 1-11 1 28 1-15 1 8 1-10 1 14 1-1 1 0 1-24 1 5 1-8 1 29 1-2 1 8 1-8 1 2 1-20 1 7 1-7 1 18 1-15 1 0 1-4 1 16 1-8 1 8 1-18 1 19 1-5 1 24 1-6 1 23 1-3 1 7 1-23 1 4 1-9 1 0 1-5 1 8 1-18 1 5 1-13 1 16 1-4 1 4 1-13 1 10 1-16 1 0 1-2 1 25 1-1 1 0 1-20 1 10 1-8 1 12 1-16 1 8 1-5 1 10 1-8 1 7 1-12 1 8 1-7 1 18 1-8 1 5 1-9 1 19 1-7 1 0 1-6 1 1 1-16 1 20 1-12 1-250 1 4 1 18 1-1 1 9 1 0 1 16 1-1 1 13 1-2 1 21 1-1 1 12 1 0 1 30 1 0 1 23 1 0 1 39 1 0 1 38 1 0 1 24 1-2 1 16 1-11 1 13 1-6 1 3 1-9 1 17 1-26 1 19 1-7 1 11 1-16 1 6 1 0 1 7 1-16 1 26 1-13 1 5 1-22 1 25 1-10 1 11 1-18 1 9 1-10 1 17 1-13 1 16 1-6 1 2 1-7 1 3 1-14 1 20 1-9 1 10 1-1 1 17 1-20 1 15 1-9 1 26 1-15 1 2 1-18 1 18 1-10 1 5 1-10 1 20 1-5 1 9 1-10 1 19 1-12 1 23 1-11 1 2 1-17 1 6 1-9 1 2 1-14 1 7 1-3 1 10 1-7 1 7 1-11 1 24 1-4 1 6 1-18 1 5 1-16 1 13 1-7 1 16 1-25 1 14 1-5 1 12 1-16 1 11 1-19 1 9 1-21 1 11 1-4 1 13 1-9 1 8 1-12 1 4 1-20 1 15 1-2 1 15 1-11 1 2 1-34 1 9 1-8 1 19 1-1 1 20 1-3 1 16 1-19 1 7 1-4 1 11 1-29 1 11 1-11 1 12 1-7 1 16 1-15 1 7 1-23 1 22 1 0 1 10 1-11 1 20 1-3 1 4 1-7 1 12 1-12 1 4 1-6 1 13 1-7 1 8 1-8 1 12 1-15 1 9 1-20 1 6 1-2 1 16 1-1 1 3 1-8 1 1 1-10 1 9 1-9 1 14 1-25 1 17 1-19 1 17 1-6 1 9 1-20 1 32 1 0 1 8 1-19 1 5 1-14 1 0 1-5 1 14 1-15 1 6 1-7 1 19 1-16 1 13 1-12 1 21 1-13 1 0 1-20 1 8 1 0 1 14 1-11 1 15 1-5 1 13 1-18 1 19 1 0 1 13 1-30 1 12 1-9 1 5 1-6 1 4 1-11 1 28 1-14 1 1 1-17 1 0 1-4 1 5 1-25 1 13 1-4 1 15 1-2 1 16 1-3 1 8 1-21 1 8 1-14 1 28 1-23 1 8 1-1 1 22 1-30 1 3 1-10 1 25 1-7 1 14 1-7 1 14 1-9 1 7 1-24 1 0 1-17 1 3 1-7 1 10 1-10 1 14 1-18 1 12 1 0 1 22 1-15 1 11 1-18 1 14 1-10 1 5 1-17 1 20 1-10 1 10 1-11 1 11 1-9 1 23 1-8 1 2 1-9 1 16 1-7 1 19 1-8 1 9 1-5 1 8 1-18 1 1 1-21 1 9 1-13 1 11 1 0 1 4 1-8 1 7 1-8 1 6 1-4 1 10 1-8 1 13 1-20 1 9 1-2 1 10 1-2 1 8 1-15 1 6 1-12 1 5 1-7 1 21 1-5 1 5 1-6 1 14 1-8 1 6 1-10 1 12 1-15 1 27 1-36 1 8 1-4 1 8 1-12 1 9 1-17 1 15 1-5 1 11 1-18 1 15 1-17 1 16 1-8 1 4 1-6 1 14 1 0 1 5 1-15 1 17 1-14 1 0 1-9 1 11 1 0 1 17 1-2 1 9 1-27 1 19 1-7 1 10 1-20 1 4 1-21 1 19 1-3 1 10 1-13 1 12 1-11 1 5 1-11 1 12 1-5 1 14 1-7 1 3 1-20 1 9 1-10 1 34 1-9 1 4 1-10 1 14 1-12 1 9 1-23 1 19 1-10 1 21 1-7 1 2 1-25 1 3 1-4 1 14 1-3 1 7 1-8 1 4 1-8 1 20 1-20 1 15 1-5 1 6 1-21 1 12 1-13 1 10 1-17 1 9 1-14 1 12 1-6 1 6 1-12 1 13 1-4 1 16 1-13 1 5 1-19 1 19 1-10 1 13 1-13 1 16 1-6 1 13 1-10 1 18 1-17 1 6 1-12 1 9 1-1 1 13 1-17 1 2 1-16 1 22 1-1 1 19 1-15 1 5 1-15 1 7 1-22 1 14 1-11 1 16 1-16 1 10 1-16 1 22 1-22 1 22 1-1 1 8 1-4 1 9 1-12 1 19 1-13 1 15 1-9 1 3 1-16 1 8 1-14 1 10 1-1 1 8 1-36 1 20 1-3 1 13 1-2 1 6 1-7 1 13 1-8 1 0 1-12 1 17 1-12 1 2 1-20 1 5 1-8 1 23 1-10 1 12 1 0 1 21 1-13"/>
<path stroke="#E76BF3" d="M0 247l1-17 1-17 1 2 1-12 1 6 1-13 1 6 1-9 1 31 1-22 1 1 1-8 1 15 1-3 1 14 1-36 1 0 1-2 1 29 1-9 1 11 1-19 1 10 1-1 1 16 1-24 1 8 1-13 1 10 1-15 1 11 1-24 1 7 1-5 1 4 1-2 1 9 1 0 1 16 1-13 1 19 1-6 1 1 1-11 1 22 1-11 1 0 1-12 1 6 1-11 1 8 1-8 1 3 1-13 1 5 1-9 1 15 1-16 1 28 1-14 1 7 1-18 1 8 1-19 1 12 1-2 1 33 1-2 1 3 1-12 1 10 1-4 1 3 1-12 1 4 1-16 1 22 1-22 1 15 1-8 1 15 1-15 1 8 1-6 1 18 1-15 1 10 1-18 1 5 1-5 1 11 1-18 1 10 1-3 1 13 1-6 1 11 1-5 1 8 1-7 1 12 1-13 1 12 1-2 1 10 1-24 1 9 1-7 1 10 1-1 1 14 1-26 1 13 1-18 1 19 1-10 1 10 1-8 1 6 1-2 1 7 1-9 1 9 1-14 1 7 1-22 1 9 1-5 1 2 1-3 1 27 1-1 1 8 1-18 1 9 1-28 1 12 1-22 1 15 1-5 1 9 1-11 1 20 1-7 1 28 1-11 1 5 1-13 1 15 1-5 1 7 1-17 1 12 1-10 1 12 1-4 1 2 1-12 1 8 1-5 1 4 1-18 1 9 1-8 1 10 1-6 1 10 1-24 1 16 1-1 1 7 1-2 1 13 1-17 1 9 1-12 1 4 1-9 1 13 1-14 1 20 1-5 1 11 1-26 1 7 1-14 1 14 1-18 1 28 1-8 1 6 1-27 1 6 1-8 1 7 1-2 1 14 1 0 1 15 1-3 1 11 1-5 1 8 1-25 1 11 1-8 1 3 1-14 1 6 1-8 1 7 1-8 1 13 1-11 1 7 1-15 1 4 1 0 1 20 1-18 1 5 1-17 1 19 1-6 1 22 1 0 1 15 1-12 1 5 1-22 1 28 1-13 1 6 1-4 1 1 1-29 1 11 1-6 1 14 1-18 1 4 1-1 1 22 1-6 1 10 1-12 1 14 1-3 1 11 1-24 1 13 1-14 1 5 1-10 1 12 1-3 1 14 1-11 1 15 1-5 1 12 1-13 1 19 1-10 1 8 1-25 1 3 1-17 1 14 1-9 1 10 1-8 1 10 1-19 1 17 1-2 1 5 1-9 1 9 1-18 1 2 1-10 1 21 1-16 1 18 1-2 1 10 1-12 1 2 1-14 1 12 1-3 1 19 1-15 1 6 1-14 1 14 1-13 1 15 1-2 1 12 1-27 1 0 1-7 1 18 1-10 1 24 1-9 1 10 1-10 1 12 1-21 1 6 1-15 1 0 1-7 1 13 1-9 1 21 1-8 1 13 1-14 1 5 1-8 1 19 1-22 1 4 1-22 1 6 1-8 1 25 1-12 1 16 1-23 1 10 1-16 1 13 1-5 1 9 1-7 1 5 1-6 1 12 1-12 1 15 1-9 1 8 1-11 1 13 1-12 1 12 1-9 1 15 1 0 1 17 1-6 1 17 1-22 1 0 1-10 1 24 1-16 1 7 1-20 1 5 1-15 1 22 1-9 1 7 1 0 1 6 1-5 1 6 1-16 1 0 1-15 1 16 1-10 1 18 1-15 1 7 1-20 1 14 1-10 1 26 1-21 1 11 1 0 1 2 1-10 1 9 1-11 1 11 1-1 1 10 1-8 1 12 1-7 1 21 1-20 1 11 1-13 1 14 1-13 1 4 1-4 1 25 1-23 1 5 1-11 1 7 1-8 1 14 1-9 1 11 1-34 1 33 1-22 1 3 1-6 1 23 1-10 1 6 1-5 1 7 1-14 1 16 1-7 1 13 1-5 1 9 1-14 1 4 1-23 1 5 1-6 1 3 1-5 1 39 1-31 1 5 1-1 1 25 1-12 1 8 1-17 1 19 1-7 1 0 1-17 1 13 1-2 1 10 1-21 1 17 1-18 1 1 1-21 1 15 1 0 1 11 1-28 1 16 1-10 1 20 1-2 1 13 1-8 1 13 1-24 1 6 1-8 1 11 1-19 1 17 1-3 1 7 1-3 1 18 1-1 1 6 1-25 1 11 1-12 1 4 1-16 1 3 1-1 1 13 1-18 1 1 1-7 1 6 1 0 1 27 1-12 1 3 1-27 1 15 1-5 1-239 1-17 1 0 1-4 1 8 1-17 1 0 1 0 1 9 1-18 1 2 1-27 1 10 1-19 1 6 1-29 1 1 1 0 1 16 1 0 1 24 1-16 1 2 1-38 1 12 1-22 1 0 1-22 1 37 1-9 1 13 1-9 1 16 1-10 1 6 1-12 1 14 1-12 1 0 1-29 1 25 1-19 1 6 1-3 1 29 1-5 1 12 1-15 1 13 1-13 1 11 1-18 1 19 1-12 1 28 1-11 1 11 1-12 1 4 1-25 1 3 1-8 1 25 1-17 1 21 1-12 1 3 1-25 1 4 1-12 1 22 1-10 1 2 1-11 1 2 1-9 1 6 1-22 1 18 1-7 1 16 1-7 1 31 1-12 1 9 1-14 1 4 1-10 1 20 1-15 1 27 1-1 1 33 1-14 1 2 1-49 1 6 1-12 1 3 1-13 1 12 1-7 1 17 1-2 1 23 1-15 1 22 1-7 1 4 1-19 1 20 1-1 1 11 1-15 1 11 1-2 1 39 1-18 1 18 1-9 1 0 1-27 1 6 1-27 1 17 1-5 1 7 1-14 1 6 1-21 1 20 1-16 1 7 1-7 1 26 1-27 1 8 1-21 1 42 1-16 1 18 1-3 1 8 1-12 1 9 1-19 1 7 1-20 1 8 1-8 1 5 1-26 1 12 1-19 1 8 1-3 1 4 1-12 1 16 1-21 1 9 1-20 1 18 1-19 1 28 1 0 1 24 1-15 1 16 1-13 1 6 1-13 1 4 1-8 1 17 1-26 1 3 1-10 1 2 1-4 1 7 1-12 1 3 1-12 1 42 1-12 1 12 1-10 1 19 1-8 1 3 1-17 1 30 1 0 1 10 1-4 1 16 1-10 1 17 1-17 1 20 1-11 1 14 1-6 1 16 1-14 1 12 1-25 1 4 1-22 1 8 1-20 1 17 1-18 1 10 1-1 1 3 1-23 1 0 1-26 1 23 1-2 1 25 1-21 1 19 1-20 1 17 1-15 1 6 1-10 1 23 1-4 1 7 1-21 1 4 1-7 1 7 1 0 1 15 1-14 1 10 1 0 1 23 1-7 1 35 1-6 1 6 1-23 1 10 1-40 1 18 1-10 1 8 1-17 1 7 1-14 1 19 1-11 1 5 1-7 1 20 1-10 1 18 1-11 1 9 1-1 1 13 1-11 1 30 1-28 1 13 1-6 1 11 1-18 1 8 1-8 1 21 1-25 1 0 1-21 1 3 1-5 1 14 1-7 1 19 1-10 1 26 1-25 1 11 1-23 1 12 1-5 1 3 1-21 1 11 1-5 1 10 1-2 1 19 1-7 1 20 1-24 1 11 1 0 1 24 1-31 1 21 1-15 1 6 1-20 1 5 1-14 1 16 1-7 1 9 1-8 1 15 1-22 1 10 1-1 1 8 1-12 1 18 1-16 1 32 1-13 1 13 1-13 1 22 1-29 1 10 1-6 1 25 1-28 1 0 1-9 1 24 1-21 1 6 1-20 1 27 1-19 1 6 1-23 1 0 1-21 1 20 1-15 1 12 1-8 1 28 1 0 1 16 1-5 1 15 1-8 1 6 1-15 1 18 1-6 1 19 1-7 1 9 1-25 1 28 1-6 1 27 1-42 1 23 1-9 1 0 1-15 1 5 1-11 1 14 1-10 1 31 1-2 1 1 1-6 1 10 1-25 1 3 1-33 1 0 1-16 1 7 1-12 1 28 1-30 1 8 1-26 1 11 1-5 1 11 1-5 1 22 1-4 1 8 1-31 1 9 1-17 1 18 1-1 1 18 1-11 1 19 1-5 1 19 1-27 1 2 1-6 1 11 1-11 1 2 1-6 1 5 1-26 1 25 1-9 1 11 1-6 1 33 1-20 1 8 1-20 1 10 1-17 1 11 1-5 1 5 1-32 1 8 1 0 1 58 1-8 1 14 1-21 1 23 1-8 1 6 1-13 1 28 1-7 1 12 1-35 1 12 1-18 1 14 1-28 1 17 1-17 1 6 1-18 1 2 1-11 1 20 1-24 1 11 1-2 1 30 1-14 1 23 1-10 1 17 1-28 1 0 1-15 1 12 1-32 1 11 1-8 1 22 1-6 1 8 1-17 1 18 1-12 1 7 1-26 1 0 1-15 1 11 1-2 1 14 1-32 1 17 1-22 1 27 1-5 1 26 1-1 1 18 1-5 1 20 1-3 1 18 1-5 1 1 1-3"/>
<path stroke="#FF62BC" d="M0 247l1 1 1-29 1 0 1-22 1 0 1-11 1 8 1-1 1 8 1-6 1 18 1-8 1 15 1-1 1 11 1-24 1 12 1-10 1 9 1-16 1 9 1-6 1 13 1-9 1 19 1-25 1 3 1-7 1 10 1-22 1 9 1-11 1 12 1-10 1 18 1-13 1 2 1-5 1 3 1-18 1 10 1-5 1 25 1-1 1 4 1-10 1 15 1-7 1 2 1-22 1 13 1-20 1 4 1-15 1 3 1-3 1 11 1-6 1 13 1-3 1 12 1 0 1 5 1-21 1 3 1 0 1 8 1-2 1 13 1-17 1 6 1-15 1 10 1-4 1 12 1-10 1 13 1-11 1 13 1-5 1 13 1-29 1 3 1-1 1 16 1-11 1 27 1-21 1 16 1-2 1 10 1-23 1 7 1-1 1 14 1-19 1 10 1-20 1 11 1-2 1 13 1-17 1 25 1-11 1 5 1-10 1 7 1-15 1 14 1-19 1 16 1-4 1 20 1-3 1 5 1-14 1 10 1-10 1 15 1-4 1 10 1-23 1 3 1-12 1 23 1-4 1 20 1-10 1 11 1-10 1 12 1-30 1 3 1-1 1 5 1-15 1 14 1-15 1 12 1-22 1 7 1-14 1 12 1-5 1 13 1-19 1 21 1-16 1 12 1-17 1 6 1-7 1 9 1-1 1 13 1-1 1 3 1-15 1 2 1-4 1 11 1 0 1 3 1-6 1 15 1-10 1 25 1-8 1 14 1-17 1 14 1-10 1 4 1-11 1 3 1-13 1 9 1-3 1 6 1-10 1 20 1-11 1 8 1-22 1 5 1-19 1 7 1-16 1 12 1-7 1 0 1-6 1 29 1-13 1 6 1-4 1 29 1-8 1 9 1-3 1 8 1-19 1 6 1-17 1 23 1-30 1 4 1-18 1 3 1-2 1 16 1-1 1 18 1-19 1 17 1-6 1 7 1-9 1 0 1-13 1 2 1-6 1 25 1-10 1 10 1-11 1 4 1-13 1 11 1-12 1 21 1-11 1 8 1-16 1 4 1-5 1 11 1-19 1 12 1-4 1 18 1-2 1 9 1-21 1 13 1-18 1 15 1-16 1 17 1-1 1 14 1-24 1 13 1-16 1 3 1-9 1 27 1-4 1 7 1-17 1 8 1-10 1 9 1-12 1 9 1-8 1 10 1-10 1 2 1-1 1 15 1-8 1 24 1-13 1 12 1-4 1 12 1-24 1 6 1-9 1 16 1-4 1 2 1-19 1 9 1-20 1 15 1-9 1 9 1-2 1 7 1 0 1 15 1-8 1 6 1-18 1 18 1-8 1 3 1-7 1 13 1-8 1 8 1-34 1 1 1-15 1 14 1-10 1 16 1-8 1 9 1-4 1 10 1-25 1 7 1-15 1 11 1-10 1 16 1-6 1 10 1-9 1 13 1-13 1 8 1-19 1 4 1-13 1 26 1 0 1 14 1-15 1 7 1-4 1 8 1-3 1 12 1-10 1 9 1-8 1 19 1-9 1 5 1-10 1 11 1-10 1 17 1-29 1 10 1-12 1 18 1-7 1 7 1-13 1 15 1-9 1 12 1-5 1 6 1 0 1 15 1-15 1 7 1-13 1 14 1-18 1 0 1-29 1 8 1-11 1 15 1-6 1 21 1-12 1 4 1-19 1 9 1-6 1 3 1-4 1 13 1-6 1 13 1-8 1 9 1-18 1 15 1-8 1 17 1-1 1 21 1-13 1 15 1-17 1 0 1-12 1 3 1-7 1 7 1-7 1 18 1-8 1 3 1-15 1 6 1-10 1 4 1-14 1 11 1-3 1 23 1-3 1 17 1-18 1 4 1-10 1 15 1-12 1 5 1-15 1 15 1-6 1 11 1-21 1 5 1-8 1 10 1-1 1 24 1-9 1 0 1-21 1 26 1-7 1 16 1-17 1 2 1-6 1 0 1-17 1 21 1-11 1 11 1-4 1 11 1-9 1 3 1-32 1 13 1-10 1 26 1-10 1 24 1-6 1 16 1-12 1 15 1-9 1 11 1-20 1 14 1-6 1 2 1-2 1 10 1-9 1 13 1-10 1 5 1-13 1 3 1-13 1 21 1-13 1 9 1-21 1 20 1-23 1 0 1-18 1 19 1-14 1 13 1-16 1 11 1-1 1 20 1-14 1 23 1-8 1 14 1-13 1 7 1-5 1 0 1-8 1 30 1-21 1 2 1-10 1-261 1-1 1 14 1-9 1 4 1-2 1 15 1-5 1 19 1-3 1 10 1-1 1 17 1 0 1 29 1-1 1 24 1-3 1 20 1 0 1 37 1 0 1 28 1-1 1 33 1-5 1 12 1-4 1 12 1-10 1 14 1-10 1 13 1-16 1 20 1-22 1 16 1-6 1 10 1-9 1 8 1-4 1 9 1-7 1 12 1-1 1 12 1-25 1 10 1-6 1 2 1-9 1 13 1-8 1 9 1-19 1 5 1-7 1 14 1-7 1 8 1-13 1 19 1-19 1 1 1-8 1 19 1-12 1 6 1-6 1 3 1-12 1 19 1-6 1 8 1-12 1 22 1-8 1 12 1-18 1 13 1-6 1 7 1-16 1 18 1-4 1 23 1-1 1 4 1-22 1 7 1-16 1 10 1-6 1 14 1-15 1 4 1-15 1 8 1-14 1 14 1 0 1 11 1-23 1 8 1-25 1 18 1 0 1 5 1-1 1 18 1-8 1 5 1-9 1 14 1-9 1 7 1-17 1 13 1-20 1 21 1 0 1 11 1-4 1 13 1-5 1 11 1-17 1 12 1-12 1 9 1-16 1 23 1-4 1 12 1-17 1 12 1-10 1 11 1-25 1 2 1-21 1 9 1-30 1 10 1-4 1 12 1-10 1 4 1-5 1 19 1-6 1 26 1-18 1 2 1-21 1 2 1-14 1 27 1-4 1 22 1-8 1 13 1-18 1 8 1-8 1 0 1-1 1 7 1-13 1 21 1-15 1 4 1-8 1 7 1-10 1 16 1-2 1 7 1-13 1 7 1-9 1 8 1-6 1 12 1-10 1 12 1-7 1 9 1-5 1 10 1-16 1 9 1-5 1 8 1-16 1 4 1-13 1 2 1-17 1 4 1-20 1 10 1-2 1 22 1-13 1 13 1 0 1 26 1 0 1 14 1-27 1 4 1-23 1 13 1 0 1 13 1-19 1 19 1-9 1 2 1-3 1 9 1-30 1 0 1-3 1 28 1-5 1 7 1-19 1 19 1-15 1 6 1-4 1 6 1-11 1 16 1-6 1 15 1-17 1 0 1-21 1 23 1-4 1 15 1-5 1 10 1-8 1 2 1-22 1 9 1-7 1 12 1-11 1 6 1-2 1 18 1-15 1 10 1-16 1 14 1-6 1 4 1-14 1 8 1-14 1 18 1-3 1 14 1-11 1 19 1-1 1 7 1-30 1 5 1-18 1 9 1-1 1 32 1-11 1 9 1-17 1 7 1-14 1 17 1-9 1 6 1-17 1 8 1-14 1 10 1-3 1 10 1-20 1 3 1-8 1 14 1-9 1 16 1-8 1 16 1-12 1 16 1-11 1 5 1-1 1 28 1-13 1 6 1-7 1 13 1-13 1 3 1-2 1 4 1-11 1 13 1-23 1 12 1-34 1 20 1-22 1 21 1-17 1 12 1-3 1 34 1-19 1 10 1-13 1 7 1-8 1 24 1-22 1 13 1-21 1 6 1-17 1 5 1-4 1 12 1-11 1 15 1-16 1 11 1-4 1 11 1-18 1 10 1-13 1 17 1-3 1 2 1-11 1 21 1-13 1 12 1-28 1 12 1-16 1 6 1-9 1 38 1-10 1 18 1-15 1 14 1-16 1 16 1-1 1 6 1-17 1 1 1-6 1 21 1-19 1 13 1-1 1 10 1-44 1 17 1-3 1 2 1-16 1 9 1-17 1 16 1-6 1 18 1-15 1 15 1-2 1 12 1-16 1 18 1-11 1 12 1-6 1 4 1-5 1 6 1-9 1 17 1-19 1 11 1-13 1 23 1-25 1 14 1-9 1 18 1-8 1 8 1-24 1 5 1-13 1 18 1-12 1 6 1-8 1 11 1-17 1 8 1-7 1 13 1-9 1 24 1-15 1 8 1-1 1 18 1-9 1 6 1-26 1 16 1-18 1 11 1-21 1 3 1 0 1 20 1-18 1 19 1-10 1 8 1-9 1 16 1-7 1 0 1-1 1 11 1-3 1 3 1-15 1 13 1-22 1 13 1-9 1 3 1-4 1 10 1-10 1 3 1-8 1 15 1-15 1 4 1-4 1 24 1-8 1 6 1-29 1 2 1-11 1 19 1-5 1 7 1-6 1 8 1-17 1 1 1-8 1 26 1-4 1 1 1-15 1 17 1-4 1 12 1-34 1 15 1-7 1 15 1-22 1 10 1-3 1 27 1-5 1 1 1-14"/>
</g>
<line class="hk" x1="1148.1" x2="1980.7" y1="328.55" y2="328.55"/>
<line class="hr" x1="1148.1" x2="1980.7" y1="172.45" y2="172.45"/>
<text class="tp" transform="translate(1847.5 157.5) scale(1 1.04)" text-anchor="middle">Tipping Point</text>
<text class="tk" x="1139.8" y="102.15" text-anchor="end">2</text>
<text class="tk" x="1139.8" y="266.05" text-anchor="end">0</text>
<text class="tk" x="1139.8" y="431.15" text-anchor="end">−2</text>
<text class="tk" x="1186.4" y="552" text-anchor="middle">0</text>
<text class="tk" x="1375.53" y="552" text-anchor="middle">25</text>
<text class="tk" x="1564.65" y="552" text-anchor="middle">50</text>
<text class="tk" x="1753.78" y="552" text-anchor="middle">75</text>
<text class="tk" x="1942.9" y="552" text-anchor="middle">100</text>
<text class="ax" transform="translate(1564.5 582) scale(1 1.05)" text-anchor="middle">Time</text>
<text class="ax" transform="translate(1110 261) rotate(-90) scale(1 1.05)" text-anchor="middle">Social state (Z)</text>
<text class="lab" x="1046.5" y="24.8">B</text>
</g>
<g id="panelC">
<g class="tr" transform="translate(138.00 907.40) scale(0.7565 0.50)">
<path stroke="#F8766D" d="M0 -8l1 8 1-17 1 22 1-8 1 21 1-9 1 1 1-16 1 17 1 0 1 28 1-2 1 7 1-5 1 20 1 0 1 17 1 0 1 32 1-5 1 31 1 0 1 21 1-2 1 10 1-1 1 27 1-6 1 11 1-3 1 4 1-5 1 11 1-14 1 20 1-14 1 8 1-3 1 14 1-15 1 4 1-8 1 1 1-9 1 4 1-20 1 17 1-15 1 12 1-12 1 9 1-19 1 26 1-6 1 15 1-19 1 11 1-10 1 12 1 0 1 7 1-7 1 24 1-11 1 5 1-22 1 11 1 0 1 20 1-25 1 2 1-16 1 14 1-12 1 3 1-7 1 4 1-28 1 17 1-4 1 19 1-18 1 14 1-9 1 7 1-2 1 19 1 0 1 19 1-19 1 8 1-10 1 4 1-5 1 10 1-25 1 13 1-14 1 14 1-10 1 3 1-10 1 15 1-9 1 9 1-6 1 22 1-10 1 3 1-14 1 10 1-14 1 6 1-9 1 8 1-6 1 16 1-9 1 9 1-18 1 10 1-18 1 16 1-7 1 10 1-11 1 9 1-10 1 7 1-16 1 14 1-15 1 14 1-1 1 14 1-16 1 14 1-9 1 19 1-24 1 9 1-10 1 6 1-2 1 22 1-5 1 9 1-8 1 0 1-18 1 22 1-16 1 15 1-11 1 10 1-10 1 17 1-7 1 14 1-12 1 12 1-18 1 10 1-8 1 13 1-9 1 4 1-23 1 4 1-6 1 5 1-1 1 20 1-19 1 8 1-1 1 14 1-13 1 9 1-4 1 0 1-23 1 10 1 0 1 8 1-8 1 12 1-22 1 6 1 0 1 24 1-11 1 21 1-11 1 5 1-8 1 14 1-6 1 3 1-7 1 9 1-14 1 8 1-2 1 28 1-20 1 15 1-18 1 9 1-16 1 8 1-27 1 11 1 0 1 12 1-5 1 11 1-6 1 24 1-14 1 2 1-23 1 3 1-8 1 27 1-14 1 6 1-11 1 10 1-31 1 0 1-15 1 13 1-7 1 19 1-8 1 9 1-15 1 5 1-4 1 1 1-6 1 5 1-2 1 1 1-13 1 24 1-3 1 9 1 0 1 15 1-5 1 10 1-10 1 2 1-27 1 0 1-16 1 19 1-13 1 15 1-5 1 16 1-10 1 14 1-15 1 12 1-9 1 5 1-11 1 16 1-10 1 8 1-8 1 7 1-4 1 10 1-9 1 6 1-17 1 10 1-9 1 16 1-4 1 26 1-20 1 4 1-4 1 1 1-14 1 13 1-10 1 6 1-13 1 13 1-9 1 5 1 0 1 12 1-7 1 11 1-15 1 6 1-6 1 28 1-10 1 5 1-18 1 5 1-26 1 7 1-10 1 7 1-12 1 6 1-6 1 16 1-15 1 23 1-18 1 17 1-5 1 10 1-6 1 3 1-9 1 9 1 0 1 4 1-15 1 18 1-9 1 32 1-20 1 7 1-5 1 6 1-21 1 10 1-18 1 6 1-3 1 12 1-20 1 7 1-4 1 12 1-6 1 17 1-2 1 11 1-6 1 18 1-24 1 18 1-12 1 7 1-16 1 10 1-11 1 1 1-16 1 9 1-8 1 16 1-6 1 8 1-3 1 17 1-5 1 9 1-19 1 3 1-1 1 8 1-11 1 18 1-13 1 4 1-13 1 8 1-15 1 0 1-11 1 16 1-9 1 2 1-1 1 5 1-9 1 10 1-14 1 16 1-14 1 16 1-19 1 19 1-8 1 22 1-8 1 10 1-13 1 10 1-13 1 2 1-23 1 10 1-6 1 10 1-8 1 20 1-13 1 10 1-7 1 3 1-9 1 10 1-13 1 18 1-8 1 18 1-1 1 14 1-11 1 3 1-12 1 6 1-9 1 7 1-21 1 6 1-5 1 7 1-16 1 6 1 0 1 15 1-20 1 21 1 0 1 15 1-7 1 7 1-5 1 18 1-14 1 0 1-7 1 8 1-23 1 8 1-17 1 10 1-6 1 8 1-7 1 3 1-7 1 5 1-9 1 23 1-14 1 8 1-10 1 14 1-25 1 5 1-18 1 23 1-13 1 24 1-8 1 18 1-6 1 15 1-12 1 8 1-12 1 12 1-19 1 5 1-14 1 19 1-14 1 2 1-21 1 14 1-13 1 28 1-17 1 28 1-1 1 16 1-28 1 0 1-11 1 19 1-16 1 16 1-23 1-189 1-8 1 14 1-8 1 21 1-7 1 15 1-11 1 4 1-30 1 9 1-14 1 13 1-13 1 0 1-24 1 0 1-50 1 1 1-39 1 5 1-9 1 7 1-27 1 10 1-23 1 0 1-23 1 8 1-33 1 14 1-4 1 14 1-7 1 8 1-11 1 7 1-4 1 12 1-16 1 3 1-12 1 15 1-2 1 7 1-1 1 8 1-11 1 26 1-14 1 4 1-4 1 8 1-2 1 3 1-14 1 19 1-8 1 11 1-8 1 2 1-26 1 15 1-16 1 5 1-14 1 25 1-9 1 7 1-18 1 10 1-9 1 13 1-25 1 28 1-9 1 21 1-12 1 6 1-1 1 15 1-18 1 10 1-31 1 5 1-7 1 12 1-13 1 15 1-11 1 10 1-9 1 11 1-7 1 20 1-15 1 18 1-11 1 5 1-9 1 11 1-10 1 16 1-19 1 1 1-24 1 6 1 0 1 27 1-8 1 11 1-15 1 9 1-20 1 11 1-29 1 8 1-12 1 19 1-2 1 16 1-19 1 11 1-11 1 10 1-9 1 7 1-3 1 17 1-1 1 2 1-13 1 11 1-4 1 12 1-9 1 10 1-9 1 16 1-19 1 9 1-10 1 11 1-5 1 11 1-7 1 11 1-8 1 10 1-19 1 10 1-8 1 0 1-5 1 23 1-21 1 13 1-23 1 19 1-6 1 13 1-14 1 19 1-10 1 18 1-6 1 10 1-17 1 8 1-26 1 16 1-14 1 8 1 0 1 11 1 0 1 16 1-15 1 1 1-17 1 7 1-13 1 0 1-14 1 15 1 0 1 24 1-13 1 1 1-19 1 18 1-10 1 13 1-13 1 19 1-8 1 19 1-8 1 6 1-25 1 8 1-23 1 31 1-12 1 14 1-3 1 8 1-1 1 22 1-22 1 12 1-21 1 0 1-6 1 7 1-4 1 4 1-11 1 11 1-13 1 13 1-17 1 5 1-28 1 19 1-7 1 15 1-7 1 9 1-20 1 0 1-7 1 17 1-14 1 2 1-5 1 15 1 0 1 21 1-10 1 26 1-17 1 3 1-9 1 8 1-1 1 10 1-17 1 7 1-12 1 6 1-12 1 18 1-10 1 14 1-17 1 12 1-14 1 13 1-15 1 6 1-14 1 21 1-7 1 1 1-33 1 17 1-15 1 28 1-14 1 8 1-6 1 12 1-8 1 11 1-9 1 16 1-25 1 15 1-11 1 13 1-14 1 16 1-14 1 14 1-14 1 19 1-17 1 16 1-7 1 35 1-23 1 8 1-6 1 19 1-24 1 13 1-6 1 4 1-33 1 16 1-21 1 18 1 0 1 4 1-26 1 9 1-2 1 17 1-23 1 12 1-5 1 2 1-11 1 31 1-18 1 12 1-18 1 6 1 0 1 4 1-18 1 10 1-1 1 31 1-8 1 11 1-12 1 1 1-22 1 1 1-10 1 5 1-12 1 4 1-17 1 30 1-8 1 15 1-29 1 17 1-4 1 26 1-13 1 1 1-3 1 5 1-9 1 7 1-7 1 23 1 0 1 2 1-23 1 9 1-17 1 3 1-17 1 8 1-6 1 25 1-18 1 13 1-15 1 12 1-20 1 18 1-3 1 24 1-6 1 10 1-12 1 4 1-13 1 12 1-2 1 14 1-8 1 17 1-19 1 21 1-20 1 3 1-4 1 14 1-7 1 9 1-9 1 10 1-10 1 1 1-18 1 9 1-7 1 3 1-18 1 16 1-8 1 12 1-14 1 12 1-10 1 24 1-5 1 14 1-32 1 1 1-27 1 12 1-20 1 9 1-6 1 16 1-4 1 13 1-4 1 7 1-11 1 9 1-7 1 13 1-9 1 5 1-13 1 19 1-20 1 7 1-11 1 6 1 0 1 21 1-12 1 6 1-8 1 10 1-22 1 8 1-11 1 15 1-9 1 19 1-10 1 5 1-5 1 10 1-13 1 9 1-8 1 1 1-6 1 2 1-16 1 14 1-10 1 23 1-2 1 22 1-18 1 3 1-12 1 7 1-15 1 32 1-2 1 11 1-25 1 12 1-1 1 3 1-6 1 18 1-3 1 17 1-23 1 13 1-1 1 6 1-21 1 16 1-11 1 9 1-12 1 3 1-26 1 19 1-8 1 6 1-12 1 10 1-3 1 7 1-9 1 12 1-5 1 11 1-17 1 13 1 0 1 10 1-5"/>
<path stroke="#D89000" d="M0 -8l1 8 1-8 1 10 1-12 1 5 1-8 1 11 1 0 1 17 1-11 1 15 1-6 1 14 1-3 1 22 1 0 1 25 1 0 1 26 1-3 1 27 1 0 1 22 1-1 1 33 1-13 1 23 1-9 1 8 1-10 1 18 1-4 1 12 1-10 1 0 1-18 1 9 1-2 1 17 1-14 1 19 1 0 1 8 1-18 1 19 1-10 1 6 1-25 1 21 1-7 1 5 1-9 1 5 1-5 1 2 1-4 1 7 1-6 1 8 1-13 1 7 1 0 1 18 1-6 1 11 1-27 1 5 1-16 1 10 1 0 1 10 1-14 1 21 1-7 1 13 1-8 1 6 1-13 1 0 1-10 1 7 1-13 1 14 1-1 1 8 1-3 1 2 1-26 1 16 1 0 1 13 1-17 1 1 1-6 1 28 1-14 1 8 1-7 1 10 1-14 1 16 1-11 1 6 1-6 1 4 1-10 1 13 1-10 1 10 1-10 1 12 1-3 1 20 1-29 1 6 1-17 1 2 1-4 1 7 1-8 1 14 1-7 1 21 1-18 1 13 1-10 1 5 1 0 1 13 1-17 1 0 1-12 1 8 1-18 1 11 1 0 1 27 1-12 1 6 1-11 1 8 1-4 1 5 1-36 1 12 1 0 1 16 1-7 1 11 1-9 1 1 1-11 1 9 1-15 1 29 1-6 1 13 1 0 1 4 1-17 1 12 1-15 1 6 1-23 1 9 1-10 1 11 1-6 1 7 1-18 1 1 1-11 1 9 1-1 1 24 1-7 1 5 1-3 1 6 1-10 1 4 1-10 1 16 1-12 1 0 1-5 1 19 1-3 1 10 1-13 1 29 1-13 1 7 1-27 1 10 1-8 1 6 1-3 1 15 1-9 1 12 1-4 1 5 1-10 1 5 1-26 1 13 1-17 1 16 1-17 1 28 1-26 1 8 1-6 1 14 1-8 1 8 1-10 1 13 1-12 1 1 1-6 1 11 1-1 1 11 1-9 1 17 1-3 1 9 1-14 1 22 1-15 1 11 1-1 1 14 1-13 1 4 1-8 1 9 1-11 1 10 1-13 1 2 1-14 1 11 1-23 1 9 1-6 1 23 1-5 1 16 1-17 1 13 1-7 1 9 1-8 1 6 1-11 1 6 1-11 1 19 1-17 1 1 1-2 1 16 1-17 1 16 1-13 1 10 1-20 1 5 1-1 1 19 1-20 1 9 1-13 1 9 1-8 1 0 1-4 1 25 1-19 1 11 1-4 1 7 1-6 1 24 1-6 1 6 1-31 1 12 1-9 1 8 1-18 1 8 1-16 1 4 1-4 1 22 1-16 1 2 1-11 1 12 1-4 1 12 1-19 1 17 1-10 1 20 1-7 1 7 1-8 1 18 1-5 1 3 1-21 1 3 1-26 1 13 1-8 1 24 1-4 1 5 1-5 1 10 1-15 1 8 1-13 1 8 1-10 1 1 1-11 1 2 1-15 1 6 1-7 1 7 1-10 1 6 1-6 1 14 1-22 1 27 1 0 1 0 1-16 1 14 1-1 1 24 1-1 1 16 1-19 1 4 1-8 1 9 1-19 1 1 1-8 1 3 1-7 1 22 1-16 1 17 1-7 1 12 1-10 1 21 1-2 1 3 1-7 1 0 1-17 1 7 1-17 1 7 1-13 1 18 1-6 1 4 1-17 1 16 1-4 1 21 1 0 1 20 1-17 1 1 1-18 1 19 1-15 1 6 1-11 1 4 1-8 1 17 1-5 1 11 1-5 1 7 1-10 1 6 1-21 1 1 1-2 1 6 1-13 1 21 1-12 1 2 1-2 1 24 1-5 1 4 1-5 1 11 1-9 1 16 1-17 1 6 1-7 1 14 1-3 1 16 1-10 1 9 1-16 1 4 1-10 1 9 1-20 1 5 1-3 1 10 1-13 1 19 1-4 1 9 1-26 1 4 1-5 1 22 1-14 1 10 1-17 1 19 1-30 1 12 1-6 1 10 1-12 1 22 1-16 1 7 1-18 1 21 1-9 1 9 1-8 1 24 1-9 1 5 1-16 1 19 1-13 1 5 1-5 1 8 1-8 1 7 1-7 1 9 1-9 1 7 1-4 1 8 1-13 1 5 1-16 1 7 1-12 1 16 1-15 1 9 1-3 1 3 1-14 1 20 1-2 1 31 1-15 1 6 1-33 1 9 1-14 1 13 1 0 1 7 1-7 1 22 1 0 1-194 1-13 1 9 1-12 1 12 1-8 1 6 1-3 1 18 1-11 1 24 1-9 1 8 1-8 1 17 1-6 1 35 1-2 1 34 1-1 1 34 1-7 1 9 1-3 1 18 1-6 1 16 1 0 1 20 1-5 1 6 1-9 1 13 1-12 1 8 1-17 1 7 1-11 1 18 1-4 1 9 1-9 1 32 1-13 1 3 1-19 1 13 1-5 1 20 1-7 1 10 1-24 1 6 1-9 1 9 1-6 1 15 1-2 1 3 1-18 1 7 1-12 1 14 1-4 1 14 1-13 1 13 1-14 1 14 1-5 1 3 1-14 1 9 1-7 1 4 1-18 1 10 1-5 1 15 1-8 1 10 1-5 1 5 1-17 1 20 1-3 1 7 1-6 1 9 1-2 1 16 1-22 1 1 1-11 1 3 1-9 1 12 1-7 1 4 1-10 1 4 1-6 1 17 1-12 1 12 1-6 1 3 1-18 1 6 1-8 1 9 1-1 1 19 1-20 1 5 1-7 1 20 1-10 1 14 1-14 1 6 1-15 1 10 1-16 1 16 1-5 1 16 1-2 1 10 1-13 1 18 1-22 1 2 1-1 1 15 1-15 1 8 1-16 1 0 1-16 1 12 1-7 1 15 1-3 1 6 1-18 1 5 1-7 1 11 1-1 1 10 1-14 1 0 1-15 1 12 1-12 1 12 1-16 1 22 1-10 1 4 1-2 1 10 1-2 1 2 1-7 1 6 1-3 1 15 1-5 1 6 1-12 1 2 1-13 1 17 1-10 1 11 1-4 1 17 1-6 1 4 1-1 1 8 1-13 1 11 1-13 1 12 1-17 1 21 1-4 1 4 1-8 1 6 1-22 1 14 1-8 1 8 1 0 1 7 1-8 1 4 1-11 1 21 1-14 1 0 1-23 1 9 1-4 1 22 1-12 1 10 1-18 1 3 1-14 1 1 1-9 1 18 1-3 1 21 1-7 1 0 1-9 1 16 1-14 1 6 1-27 1 4 1-6 1 17 1-10 1 17 1-15 1 20 1-25 1 10 1 0 1 1 1-10 1 24 1-11 1 11 1-8 1 23 1-1 1 6 1-4 1 4 1-10 1 0 1-3 1 6 1-11 1 18 1-26 1 10 1-10 1 13 1-6 1 3 1-15 1 14 1-3 1 21 1-5 1 9 1-16 1 10 1 0 1 7 1-23 1 6 1-9 1 3 1-3 1 10 1-14 1 4 1-9 1 5 1-20 1 4 1-12 1 14 1-9 1 5 1-9 1 14 1-6 1 28 1-12 1 9 1-21 1 13 1-3 1 15 1-14 1 7 1-7 1 11 1-19 1 4 1-16 1 27 1-11 1 22 1-6 1 6 1-25 1 3 1-17 1 27 1-4 1 0 1-17 1 17 1-17 1 25 1-11 1 10 1-21 1 8 1-9 1 6 1-11 1 12 1-5 1 14 1-5 1 21 1-4 1 3 1-11 1 8 1-30 1 16 1-12 1 7 1-7 1 8 1-4 1 5 1-2 1 8 1-7 1 15 1 0 1 2 1-15 1 2 1-21 1 19 1-8 1 17 1-7 1 11 1-33 1 5 1 0 1 0 1 0 1 28 1-3 1 2 1-17 1 3 1-19 1 15 1-15 1 3 1-10 1 17 1 0 1 12 1-22 1 6 1-8 1 19 1-2 1 17 1-8 1 18 1-9 1 19 1-21 1 0 1-17 1 29 1-12 1 10 1-9 1 4 1-3 1 4 1-16 1 9 1-8 1 17 1-19 1 3 1-3 1 19 1-24 1 3 1-18 1 18 1-24 1 8 1 0 1 16 1-11 1 4 1-4 1 7 1-18 1 13 1 0 1 19 1-4 1 7 1-8 1 8 1-17 1 9 1-5 1 9 1-9 1 2 1-10 1 11 1-20 1 8 1-6 1 23 1-3 1 21 1-7 1 7 1-28 1 9 1-3 1 11 1-24 1 8 1-13 1 9 1-6 1 2 1-17 1 10 1-4 1 31 1-21 1 7 1-12 1 10 1-5 1 34 1-1 1 7 1-21 1 12 1-21 1 8 1-17 1 1 1-9 1 11 1-2 1 3 1-13 1 4 1-18 1 6 1-1 1 21 1-12 1 10 1-9 1 18 1-2 1 21 1-14 1 5 1-15 1 2 1-1 1 24 1-18 1 12 1-10 1 16 1-29 1 14 1-15 1 0 1-12 1 16 1-3 1 11 1-9"/>
<path stroke="#A3A500" d="M0 -8l1 2 1-12 1 15 1-1 1 10 1-14 1 18 1-10 1 2 1-20 1 0 1-21 1 1 1-29 1 4 1-20 1 0 1-51 1 2 1-33 1 4 1-32 1 10 1-14 1 11 1-16 1 1 1-5 1 22 1-6 1 11 1-14 1 19 1-25 1 5 1-25 1 12 1-2 1 13 1-1 1 3 1-16 1 18 1-24 1 15 1-8 1 9 1-11 1 16 1-18 1 20 1-13 1 15 1-17 1 0 1-5 1 10 1-4 1 21 1-10 1 10 1-9 1 8 1-25 1 15 1-6 1 20 1-18 1 10 1-6 1 4 1-21 1 27 1-4 1 6 1-18 1 5 1-6 1 27 1-6 1 9 1-21 1 4 1-14 1 15 1-10 1 19 1-22 1 10 1-14 1 20 1-19 1 10 1-5 1 20 1-5 1 5 1-23 1 1 1-14 1 7 1-8 1 18 1-1 1 6 1-34 1 15 1-15 1 7 1-10 1 41 1 0 1 7 1-4 1 15 1 0 1 10 1-12 1 0 1-16 1 11 1-15 1 13 1-10 1 18 1-12 1 0 1-24 1 7 1-6 1 4 1-18 1 12 1-14 1 13 1-8 1 17 1-11 1 6 1-10 1 13 1-10 1 5 1-9 1 26 1-11 1 11 1-18 1 12 1-14 1 5 1-16 1 12 1 0 1 16 1-13 1 6 1-7 1 7 1-4 1 16 1-13 1 6 1-11 1 9 1-15 1 14 1-13 1 20 1-13 1 27 1-3 1 14 1-24 1 2 1-14 1 12 1-26 1 14 1-10 1 15 1-12 1 11 1-8 1 11 1-16 1 0 1-5 1 21 1-15 1 8 1-16 1 6 1-9 1 22 1-14 1 14 1-9 1 10 1-6 1 9 1-8 1 24 1-7 1 18 1-20 1 9 1 0 1 7 1-29 1 14 1-15 1 7 1-20 1 2 1-12 1 24 1-2 1 17 1-11 1 7 1-6 1 12 1-17 1 10 1-11 1 32 1-26 1 9 1-7 1 13 1-14 1 8 1-10 1 12 1-7 1 5 1-14 1 2 1-10 1 21 1-7 1 9 1-10 1 9 1-14 1 5 1-16 1 16 1-8 1 10 1-14 1 5 1 0 1 12 1 0 1 25 1-18 1 8 1-19 1 14 1-15 1 15 1-19 1 7 1-19 1 6 1-7 1 28 1-14 1 5 1-22 1 10 1-7 1 16 1-9 1 7 1-11 1 18 1-14 1 9 1-11 1 10 1-10 1 14 1 0 1 21 1-5 1 1 1-8 1 7 1-3 1 4 1-20 1 2 1-5 1 1 1-7 1 7 1-9 1 12 1-10 1 6 1-14 1 19 1 0 1 9 1-10 1 8 1-11 1 9 1-7 1 6 1-5 1 3 1-14 1 17 1-8 1 4 1-10 1 1 1-14 1 4 1-1 1 31 1-20 1 18 1-11 1 6 1-26 1 5 1-15 1 15 1-4 1 14 1-2 1 16 1-15 1 3 1-11 1 5 1-8 1 17 1-11 1 2 1-20 1 7 1-4 1 14 1-8 1 20 1-11 1 12 1-13 1 25 1-17 1 8 1-18 1 11 1-19 1 13 1-3 1 11 1-8 1 7 1-7 1 5 1 0 1 14 1-18 1 9 1-6 1 4 1-29 1 17 1-5 1 7 1-6 1 14 1-5 1 11 1-21 1 2 1-16 1 23 1-10 1 4 1-16 1 9 1-1 1 23 1-15 1 11 1-12 1 28 1-7 1 4 1-27 1 1 1-2 1 7 1-13 1 12 1-8 1 4 1-22 1 23 1-1 1 18 1-12 1 4 1-7 1 8 1-9 1 16 1-8 1 26 1-13 1 3 1-2 1 3 1-18 1 7 1-14 1 0 1-3 1 28 1-6 1 10 1-24 1 1 1-2 1 18 1-13 1 4 1-15 1 11 1-8 1 8 1-24 1 10 1-5 1 8 1-1 1 13 1-9 1 9 1-2 1 4 1-13 1 21 1-10 1 15 1-12 1 7 1-33 1 14 1-13 1 18 1-13 1 4 1-15 1 9 1-1 1 15 1-9 1 4 1-12 1 21 1-4 1 10 1-11 1 7 1-18 1 14 1-5 1 10 1-6 1 4 1-26 1 11 1-3 1 7 1-5 1 0 1-22 1 35 1-10 1 6 1-14 1 0 1-4 1 13 1-8 1 14 1 0 1 6 1-5 1 16 1-9 1-213 1 50 1 105 1 0 1 35 1-6 1 25 1-7 1 20 1-28 1 3 1-4 1 25 1 0 1 10 1-11 1 13 1-6 1 0 1-16 1 7 1-14 1 4 1-18 1 2 1-8 1 6 1-13 1 5 1-18 1 9 1-10 1 12 1-1 1 24 1-4 1 8 1-12 1 19 1-7 1 15 1-17 1 5 1-8 1 22 1-10 1 7 1-4 1 18 1-13 1 3 1-8 1 6 1-4 1 6 1-16 1 0 1-8 1 11 1-10 1 12 1-2 1 20 1-6 1 6 1-5 1 18 1-4 1 5 1-19 1 4 1-13 1 2 1-14 1 9 1-4 1 6 1-4 1 15 1-10 1 11 1-6 1 3 1-9 1 5 1 0 1 14 1-28 1 16 1-6 1 12 1-15 1 7 1-3 1 14 1-29 1 1 1-7 1 9 1-16 1 4 1-9 1 18 1 0 1 15 1-10 1 3 1-6 1 6 1-11 1 17 1-21 1 7 1-6 1 9 1-12 1 18 1-11 1 18 1-10 1 4 1-11 1 28 1-6 1 4 1-16 1 9 1-2 1 11 1-9 1 1 1-15 1 0 1-10 1 8 1-3 1 29 1-12 1 13 1-5 1 12 1-21 1 1 1-14 1 6 1-4 1 13 1-5 1 5 1-6 1 12 1-15 1 14 1-10 1 9 1-8 1 14 1-22 1 8 1-12 1 19 1-9 1 17 1-15 1 15 1-9 1 18 1-17 1 10 1-17 1 8 1-11 1 11 1-13 1 6 1-9 1 5 1-9 1 19 1-4 1 8 1-19 1 11 1-9 1 12 1-19 1 9 1-3 1 16 1-5 1 17 1 0 1 8 1-13 1 6 1-8 1 7 1-30 1 17 1-9 1 9 1-30 1 10 1-7 1 3 1-9 1 17 1-16 1 3 1-18 1 8 1-8 1 13 1 0 1 24 1-8 1 12 1-5 1 16 1-4 1 26 1-17 1 6 1-11 1 9 1-7 1 5 1-12 1 20 1-7 1 10 1-19 1 6 1-5 1 13 1-8 1 15 1-9 1 19 1-8 1 3 1-19 1 4 1-22 1 3 1-18 1 12 1-12 1 12 1-2 1 11 1-16 1 7 1-5 1 14 1-1 1 14 1-27 1 1 1-3 1 12 1-17 1 10 1-15 1 32 1-4 1 10 1-6 1 9 1-15 1 16 1-33 1 0 1-4 1 16 1-4 1 11 1-22 1 21 1-11 1 6 1-4 1 11 1-16 1 9 1-8 1 20 1-15 1 12 1-7 1 30 1-16 1 0 1-12 1 5 1-6 1 3 1-13 1 2 1-19 1 25 1-4 1 9 1-18 1 9 1-3 1 16 1-17 1 19 1-15 1 4 1-15 1 8 1-8 1 4 1-18 1 20 1-26 1 10 1-3 1 15 1-1 1 27 1-7 1 3 1-4 1 16 1-16 1 7 1-3 1 13 1-21 1 15 1-12 1 5 1-9 1 15 1-18 1 4 1-24 1 17 1-21 1 5 1-2 1 18 1-4 1 24 1-14 1 19 1-3 1 2 1-20 1 13 1-5 1 11 1-1 1 1 1-19 1 17 1-3 1 11 1-25 1 20 1-21 1 7 1-3 1 0 1-12 1 10 1-13 1 11 1-1 1 11 1-10 1 3 1-11 1 14 1-16 1 6 1-13 1 24 1-17 1 2 1-12 1 15 1-8 1 7 1-7 1 13 1-23 1 21 1-7 1 22 1-1 1 2 1-15 1 9 1-12 1 9 1-24 1 8 1-6 1 17 1-6 1 6 1-25 1 0 1-7 1 10 1-4 1 34 1-3 1 5 1-12 1 11 1-10 1 5 1-7 1 13 1-16 1 25 1-15 1 2 1-1 1 18 1-9 1 10 1-7 1 7 1-17 1 12 1-11 1 14 1-27 1 17 1-7 1 30 1 0 1 6 1-3 1 13 1-30 1 4 1-22 1 5 1-8 1 9 1-11 1 12 1-18 1 9 1-11 1 10 1-21 1 10 1-14 1 19 1-4 1 14 1-11 1 19 1 0 1 4 1-14 1 18 1-9 1 0 1-13 1 23 1-19 1 2 1-14 1 9 1-2 1 12 1-19 1 0 1-22 1 28 1-17 1 6 1-10 1 31 1-23 1 17 1-5 1 24 1-10 1 3 1-1 1 9 1-18 1 23 1-20 1 4 1-20 1 23 1-23 1 0 1-12"/>
<path stroke="#39B600" d="M0 -8l1 24 1-6 1 3 1-15 1 4 1-17 1 9 1-10 1 6 1-18 1 4 1-17 1 1 1-33 1 2 1-36 1 0 1-37 1 10 1-25 1 6 1-25 1 0 1-14 1 5 1-6 1 16 1-8 1 21 1-21 1 5 1-4 1 12 1-23 1 5 1-17 1 15 1-10 1 12 1-3 1 2 1-21 1 11 1-18 1 5 1-17 1 16 1-21 1 27 1-1 1 10 1-11 1 15 1-7 1 14 1-6 1 11 1-19 1 17 1-15 1 5 1-12 1 19 1-12 1 0 1-13 1 14 1-21 1 12 1-8 1 13 1 0 1 3 1-15 1 25 1-9 1 10 1-12 1 12 1-12 1 13 1-14 1 2 1-29 1 19 1-12 1 11 1-8 1 16 1-6 1 12 1-5 1 12 1-5 1 12 1-11 1 21 1-17 1 0 1-7 1 9 1-4 1 16 1-7 1 12 1-22 1 5 1-15 1 15 1-21 1 7 1-8 1 15 1-10 1 6 1-11 1 4 1-15 1 6 1-14 1 16 1-11 1 16 1 0 1 7 1-7 1 25 1-9 1 9 1-9 1 6 1-19 1 8 1-9 1 11 1-13 1 9 1-23 1 1 1-17 1 13 1-8 1 24 1-3 1 2 1-14 1 7 1-8 1 16 1-19 1 9 1-11 1 12 1-4 1 8 1-16 1 15 1-7 1 20 1-3 1 7 1-14 1 9 1-15 1 16 1 0 1 5 1-18 1 26 1-10 1 1 1-3 1 19 1-12 1 6 1-17 1 9 1-2 1 17 1-17 1 4 1-19 1 16 1-24 1 6 1-7 1 17 1-17 1 17 1-10 1 11 1-10 1 2 1-9 1 18 1-12 1 6 1-1 1 16 1-4 1 10 1-29 1 7 1-10 1 5 1-13 1 20 1-2 1 16 1-13 1 7 1-10 1 13 1-24 1 17 1-1 1 12 1-13 1 14 1-25 1 14 1-1 1 10 1-19 1 6 1-22 1 1 1-1 1 9 1-9 1 18 1-18 1 27 1-1 1 9 1-10 1 10 1-4 1 6 1-13 1 2 1-4 1 4 1-7 1 17 1-29 1 9 1-15 1 29 1-2 1 0 1-13 1 18 1-14 1 2 1-20 1 12 1-7 1 16 1-6 1 5 1-14 1 25 1-1 1 1 1-7 1 19 1-22 1 2 1-5 1 15 1-6 1 7 1-23 1 17 1-10 1 17 1-25 1 15 1 0 1 15 1-13 1 6 1-16 1 3 1-25 1 14 1-3 1 13 1-11 1 5 1-3 1 27 1-8 1 0 1-24 1 4 1-5 1 6 1-19 1 9 1-10 1 16 1-15 1 8 1-8 1 18 1-7 1 18 1-4 1 14 1-5 1 10 1-8 1 14 1-3 1 7 1-13 1 10 1-12 1 7 1-10 1 1 1-19 1 5 1-5 1 2 1-7 1 21 1-2 1 18 1-9 1 17 1-8 1 15 1-18 1 6 1-24 1 6 1-12 1 18 1-6 1 9 1-12 1 12 1-8 1 11 1-29 1 10 1-7 1 17 1-15 1 4 1-3 1 18 1-17 1 20 1-5 1 9 1-26 1 2 1-20 1 25 1-1 1 13 1-13 1 3 1-5 1 38 1-20 1 13 1-27 1 17 1-16 1 5 1-7 1 19 1-12 1 12 1-16 1 2 1-13 1 11 1-14 1 12 1 0 1 8 1-8 1 15 1-22 1 2 1-7 1 10 1-12 1 16 1-9 1 16 1-8 1 6 1-6 1 12 1-6 1 12 1-7 1 11 1-29 1 6 1-12 1 17 1-9 1 18 1-11 1 7 1-14 1 18 1-2 1 7 1-14 1 13 1-16 1 10 1-17 1 13 1-20 1 14 1-7 1 20 1-14 1 12 1-5 1 6 1-26 1 11 1-4 1 3 1-7 1 18 1-22 1 14 1-8 1 3 1-14 1 13 1-7 1 35 1-3 1 6 1-10 1 10 1-18 1 6 1-7 1 16 1-1 1 16 1-14 1 4 1-17 1 1 1-36 1 16 1-13 1 12 1-5 1 10 1 0 1 19 1-8 1 15 1-10 1 2 1-10 1 12 1-13 1 26 1-12 1 1 1-22 1 19 1-1 1 5 1 0 1 1 1-27 1 11 1-12 1 7 1-5 1 6 1-11 1 14 1-12 1 3 1-8 1 20 1-17 1 20 1-8 1 6 1-10 1-195 1 49 1 110 1 0 1 38 1 0 1 29 1-10 1 18 1-16 1 15 1-19 1 5 1-8 1 6 1-23 1 23 1-11 1 5 1-32 1 28 1 0 1 11 1-13 1 17 1-9 1 18 1-6 1 7 1-19 1 0 1-8 1 12 1-16 1 5 1-7 1 7 1-12 1 13 1-10 1 9 1-6 1 11 1-27 1 0 1-8 1 5 1-10 1 18 1-6 1 2 1-22 1 7 1-8 1 18 1-10 1 17 1-14 1 29 1-3 1 10 1-11 1 19 1-13 1 7 1-6 1 14 1-12 1 16 1-13 1 4 1-16 1 10 1-9 1 7 1-9 1 12 1-5 1 7 1-30 1 11 1-8 1 15 1-10 1 18 1-14 1 11 1-10 1 10 1-7 1 12 1-6 1 3 1-18 1 1 1-11 1 34 1-6 1 0 1-9 1 5 1-10 1 10 1-11 1 18 1-7 1 18 1-10 1 4 1-14 1 7 1-7 1 11 1-12 1 19 1-5 1 3 1-8 1 13 1-11 1 17 1-12 1 16 1-25 1 8 1-17 1 4 1-11 1 15 1-4 1 1 1-10 1 8 1-22 1 0 1-10 1 10 1 0 1 33 1-13 1 18 1-3 1 6 1-9 1 7 1-8 1 15 1-26 1 0 1-14 1 6 1-30 1 2 1-25 1 32 1-11 1 16 1-5 1 13 1-4 1 23 1-14 1 8 1-11 1 17 1-15 1 13 1-17 1 18 1-13 1 0 1-15 1 36 1-16 1 12 1-3 1 14 1-11 1 4 1-3 1 12 1-7 1 13 1-18 1 14 1-11 1 9 1-17 1 2 1-12 1 20 1-7 1 4 1-18 1 26 1-22 1 7 1-9 1 7 1-9 1 11 1-21 1 8 1-13 1 3 1-15 1 14 1-1 1 20 1-6 1 5 1-13 1 7 1-5 1 17 1-13 1 10 1-15 1 20 1-8 1 14 1-3 1 7 1-12 1 6 1-33 1 10 1-9 1 16 1-9 1 15 1-20 1 13 1 0 1 17 1-16 1 9 1-15 1 13 1-21 1 5 1-4 1 25 1-3 1 18 1-5 1 3 1-12 1 12 1-12 1 18 1-20 1 6 1-11 1 18 1-18 1 3 1-7 1 10 1-17 1 4 1-17 1 13 1-5 1 21 1-2 1 18 1-5 1 3 1-16 1 6 1-9 1 8 1-3 1 10 1-10 1 15 1 0 1 13 1-15 1 7 1-3 1 7 1-5 1 0 1-14 1 16 1-10 1 11 1-17 1 6 1-5 1 11 1-13 1 16 1-8 1 6 1-22 1 12 1-8 1 6 1-18 1 15 1 0 1 15 1-17 1 14 1-2 1 2 1-21 1 20 1-5 1 6 1-24 1 12 1-5 1 31 1-22 1 0 1-14 1 12 1-18 1 6 1-14 1 2 1-11 1 34 1-15 1 4 1-17 1 17 1-7 1 1 1-10 1 12 1-7 1 28 1-13 1 1 1-4 1 17 1-22 1 15 1-21 1 19 1-2 1 12 1-7 1 10 1-15 1 6 1-10 1 9 1-16 1 14 1-4 1 12 1-11 1 9 1-14 1 0 1-10 1 21 1-3 1 10 1-2 1 5 1-12 1 15 1-4 1 1 1-27 1 13 1-7 1 20 1-12 1 10 1-13 1 20 1-7 1 0 1-17 1 18 1-4 1 6 1-32 1 15 1-7 1 19 1-3 1 11 1-13 1 13 1-11 1 5 1-12 1 11 1-8 1 5 1-21 1 5 1-8 1 20 1-3 1 13 1-27 1 7 1-9 1 13 1-10 1 24 1-12 1 1 1-7 1 12 1-14 1 11 1-18 1 29 1-20 1 14 1-9 1 15 1-9 1 9 1-20 1 5 1-21 1 6 1-5 1 15 1-4 1 14 1-9 1 3 1-4 1 11 1-4 1 26 1 0 1 5 1-13 1 12 1-31 1 9 1-3 1 3 1 0 1 9 1-22 1 2 1-12 1 15 1-8 1 8 1-15 1 12 1-7 1 12 1-13 1 10 1-17 1 7 1-19 1 15 1-3 1 18 1-4 1 23 1-7 1 7 1-15 1 15 1-16 1 14 1-11 1 26 1-5 1 8 1-2 1 5 1-19 1 5 1-7 1 0 1-22 1 24 1-5 1 1 1-9 1 6 1-16 1 16 1-23 1 7 1-18 1 18 1 0 1 17 1-25"/>
<path stroke="#00BF7D" d="M0 -8l1-1 1-12 1 3 1-9 1 10 1-15 1 0 1-6 1 13 1-18 1 10 1-28 1 2 1-28 1 0 1-29 1 0 1-25 1 0 1-21 1 7 1-24 1 4 1-22 1 5 1-19 1 4 1-10 1 14 1-6 1 17 1-19 1 7 1-10 1 14 1-2 1 11 1-9 1 7 1-18 1 20 1-20 1 0 1-8 1 4 1-12 1 10 1-7 1 11 1 0 1 9 1-13 1 15 1-11 1 19 1-5 1 24 1-30 1 11 1-5 1 11 1-9 1 6 1-8 1 9 1-14 1 22 1-11 1 12 1-26 1 21 1-3 1 4 1-12 1 12 1-7 1 3 1-14 1 23 1-3 1 14 1-23 1 8 1-15 1 14 1-7 1 20 1-16 1 1 1-17 1 11 1-14 1 21 1-17 1 14 1-8 1 2 1-22 1 6 1-3 1 8 1-20 1 1 1-9 1 14 1-4 1 27 1-17 1 9 1-15 1 2 1-11 1 16 1-7 1 4 1-15 1 29 1 0 1 15 1-17 1 5 1-21 1 16 1-14 1 18 1-18 1 0 1-12 1 17 1-8 1 21 1-3 1 5 1-17 1 13 1-14 1 13 1-2 1 8 1-6 1 13 1-10 1 10 1-29 1 9 1-13 1 2 1-7 1 25 1-10 1 0 1-32 1 4 1-7 1 11 1-3 1 32 1-10 1 5 1-5 1 14 1-11 1 20 1-8 1 5 1-22 1 9 1-4 1 13 1-10 1 7 1-8 1 8 1-2 1 3 1-17 1 3 1-13 1 7 1-4 1 13 1-4 1 19 1-15 1 11 1-5 1 13 1-26 1 12 1-1 1 8 1-3 1 6 1-20 1 5 1-5 1 26 1-20 1 12 1-19 1 15 1-22 1 7 1-9 1 12 1-22 1 17 1-5 1 8 1-14 1 13 1-7 1 8 1-18 1 16 1-10 1 13 1-3 1 19 1-10 1 13 1-18 1 5 1-16 1 26 1-13 1 9 1-6 1 10 1-23 1 16 1 0 1 14 1-15 1 13 1-15 1 0 1-11 1 12 1-8 1 33 1-5 1 2 1-7 1 12 1-2 1 3 1-28 1 6 1-14 1 23 1-16 1 13 1-6 1 8 1-16 1 14 1-21 1 6 1-2 1 14 1-9 1 5 1-5 1 20 1-10 1 12 1-12 1 5 1-15 1 14 1-3 1 18 1-13 1 3 1-18 1 7 1-14 1 12 1-11 1 6 1-13 1 9 1-13 1 7 1-4 1 16 1-3 1 8 1-14 1 13 1-2 1 0 1-13 1 4 1-12 1 7 1-8 1 35 1-1 1 9 1-18 1 10 1-8 1 7 1-15 1 14 1-30 1 14 1-6 1 16 1-5 1 17 1-8 1 11 1-13 1 13 1-27 1 10 1 0 1 17 1-12 1 17 1-2 1 0 1-30 1 10 1-11 1 10 1-24 1 2 1-8 1 11 1-2 1 14 1-6 1 5 1-19 1 27 1 0 1 16 1-11 1 13 1-15 1 6 1-16 1 7 1-1 1 20 1-4 1 0 1-16 1 6 1-21 1 3 1-3 1 17 1-8 1 28 1-9 1 9 1-20 1 2 1-5 1 8 1-10 1 26 1-27 1 4 1-13 1 13 1-1 1 11 1-15 1 19 1-3 1 8 1-32 1 9 1-9 1 8 1-21 1 0 1-11 1 31 1-11 1 0 1-6 1 12 1-6 1 14 1-10 1 9 1-24 1 33 1 0 1 11 1-12 1 8 1-11 1 27 1-5 1 11 1-14 1 7 1-16 1 4 1-16 1 21 1-11 1 8 1-10 1 1 1-14 1 5 1-7 1 8 1-1 1 11 1-15 1 16 1-13 1 10 1-7 1 9 1-8 1 16 1-17 1 6 1-11 1 14 1-20 1 20 1-12 1 18 1-5 1 12 1-15 1 10 1-19 1 4 1-2 1 8 1 0 1 4 1-18 1 4 1-10 1 18 1-5 1 2 1-8 1 13 1 0 1 7 1-15 1 3 1-1 1 8 1-7 1 8 1-4 1 10 1-8 1 10 1-8 1 0 1-21 1 19 1-5 1 11 1-25 1 12 1 0 1 10 1-7 1 1 1-28 1 5 1-6 1 14 1-5 1 8 1-9 1 7 1-4 1 14 1-1 1 11 1-8 1 5 1-25 1 10 1-13 1 23 1-17 1 9 1-12 1 15 1-3 1-187 1 38 1 100 1 0 1 37 1-4 1 11 1-4 1 18 1-2 1 7 1-13 1 11 1-8 1 17 1 0 1 3 1-13 1 12 1-3 1 10 1-21 1 6 1-10 1 23 1-11 1 12 1-8 1 5 1-10 1 3 1-10 1 5 1-19 1 9 1-9 1 0 1-6 1 13 1-5 1 8 1-16 1 4 1-16 1 19 1-8 1 22 1-11 1 12 1-1 1 14 1-16 1 4 1-24 1 9 1-10 1 8 1-5 1 19 1-10 1 24 1-12 1 9 1-17 1 7 1-10 1 4 1-11 1 7 1-8 1 5 1-9 1 11 1-15 1 18 1-8 1 4 1 0 1 19 1-14 1 1 1-14 1 12 1-11 1 12 1-7 1 12 1-7 1 24 1-27 1 8 1-14 1 12 1-15 1 11 1-7 1 13 1-20 1 11 1-4 1 13 1-21 1 3 1-1 1 4 1-14 1 21 1 0 1 11 1-6 1 7 1-18 1 11 1-3 1 13 1-3 1 16 1 0 1 11 1-10 1 15 1-28 1 4 1-19 1 7 1-9 1 20 1-3 1 27 1-24 1 5 1-24 1 8 1-17 1 12 1-8 1 5 1-22 1 20 1-7 1 6 1-11 1 11 1-13 1 3 1-16 1 14 1-3 1 14 1-11 1 19 1-18 1 13 1-1 1 20 1-27 1 5 1-1 1 8 1-11 1 10 1-1 1 1 1-13 1 12 1-5 1 13 1-2 1 9 1-12 1 9 1-14 1 15 1-8 1 0 1-20 1 15 1-17 1 2 1-8 1 27 1-16 1 14 1-1 1 18 1-17 1 3 1-12 1 10 1-3 1 7 1-3 1 3 1-10 1 11 1-15 1 15 1-15 1 7 1 0 1 14 1-17 1 25 1-15 1 7 1-11 1 4 1-21 1 11 1-1 1 17 1-5 1 17 1-14 1 0 1-9 1 6 1-9 1 14 1-15 1 13 1-18 1 10 1-16 1 12 1-6 1 11 1-4 1 10 1-11 1 22 1-6 1 10 1-22 1 10 1-9 1 22 1-15 1 16 1-9 1 18 1-23 1 9 1-3 1 6 1-9 1 0 1-20 1 11 1-11 1 29 1-16 1 6 1-5 1 12 1-5 1 10 1-16 1 14 1-8 1 13 1-8 1 8 1-20 1 8 1-22 1 15 1-20 1 4 1-19 1 35 1-8 1 17 1-7 1 12 1-10 1 14 1-11 1 6 1-20 1 0 1-19 1 10 1-21 1 23 1-11 1 8 1-7 1 22 1-12 1 26 1-21 1 9 1-10 1 1 1-5 1 19 1-14 1 17 1-7 1 9 1-9 1 9 1-3 1 0 1-31 1 18 1-3 1 17 1-2 1 3 1-13 1 10 1-12 1 15 1-6 1 6 1-17 1 19 1-8 1 5 1 0 1 5 1-12 1 15 1-9 1 3 1-20 1 4 1-9 1 14 1-17 1 12 1-17 1 9 1-4 1 30 1-18 1 7 1-8 1 6 1-6 1 11 1-16 1 7 1-5 1 10 1-7 1 7 1-21 1 2 1-4 1 25 1-14 1 6 1-10 1 0 1-11 1 8 1-1 1 21 1-3 1 17 1-16 1 15 1-8 1 2 1-15 1 18 1-1 1 10 1-2 1 1 1-7 1 14 1-4 1 10 1-18 1 4 1-13 1 5 1-11 1 15 1-4 1 2 1-8 1 6 1-43 1 14 1-20 1 12 1-3 1 19 1-5 1 10 1 0 1 4 1-11 1 18 1 0 1 3 1-27 1 12 1-20 1 3 1-10 1 25 1-10 1 20 1-7 1 1 1-13 1 5 1-20 1 14 1-9 1 16 1-8 1 13 1-10 1 12 1-16 1 16 1-7 1 8 1-13 1 12 1-14 1 14 1-12 1 23 1-14 1 2 1-10 1 23 1-4 1 6 1-18 1 5 1-13 1 7 1 0 1 11 1-14 1 14 1-6 1 22 1-13 1 3 1-6 1 7 1-9 1 6 1-6 1 14 1-8 1 0 1-9 1 8 1-23 1 7 1-21 1 10 1-18 1 23 1-15 1 6 1-6 1 11 1 0 1 10 1-2 1 8 1-11 1 19 1-4 1 13 1-18 1 9 1-6 1 24 1-11 1 15 1-47 1 4 1-9 1 25 1-1 1 8 1-10 1 15 1-21 1 3 1-9 1 8 1-11 1 12 1-7 1 13 1-5"/>
<path stroke="#00BFC4" d="M0 -8l1 9 1-3 1 9 1-22 1 5 1-13 1 17 1-6 1 31 1-8 1 26 1 0 1 26 1 0 1 26 1-4 1 24 1 0 1 46 1 0 1 22 1-6 1 23 1-16 1 15 1-4 1 15 1-8 1 7 1-14 1 10 1-11 1 7 1-11 1 15 1-13 1 27 1-22 1 3 1-17 1 23 1-7 1 4 1-24 1 8 1-17 1 10 1-6 1 8 1-9 1 15 1-10 1 6 1-4 1 26 1 0 1 14 1-5 1 4 1-7 1 7 1-14 1 0 1-24 1 30 1-14 1 1 1-11 1 1 1-14 1 12 1 0 1 17 1-12 1 14 1 0 1 21 1-15 1 3 1-11 1 4 1-9 1 18 1-7 1 5 1-10 1 17 1-6 1 5 1-26 1 16 1-10 1 3 1-27 1 16 1-6 1 11 1-12 1 13 1 0 1 7 1-7 1 9 1-9 1 20 1-21 1 11 1-8 1 14 1-5 1 10 1-11 1 14 1-5 1 9 1-11 1 11 1-10 1 3 1-18 1 9 1-4 1 14 1-8 1 16 1-12 1 1 1-8 1 11 1-16 1 10 1-20 1 8 1-23 1 22 1-4 1 1 1-6 1 22 1-2 1 16 1-5 1 12 1-1 1 7 1-22 1 1 1-18 1 11 1-18 1 4 1-11 1 13 1-9 1 9 1-19 1 10 1-10 1 28 1-8 1 6 1-12 1 19 1-4 1 0 1-11 1 15 1-22 1 6 1-18 1 11 1-9 1 12 1-4 1 11 1-13 1 25 1-4 1 19 1-21 1 5 1-12 1 4 1-10 1 15 1-7 1 0 1-12 1 16 1-10 1 11 1-2 1 9 1-10 1 13 1-10 1 14 1-22 1 24 1-6 1 9 1-8 1 9 1-15 1 5 1-7 1 13 1-31 1 6 1-13 1 17 1-6 1 14 1-7 1 8 1-9 1 16 1-14 1 2 1-7 1 10 1-10 1 10 1-12 1 10 1-5 1 6 1-19 1 8 1-12 1 8 1-6 1 8 1-17 1 2 1-3 1 16 1-20 1 9 1-5 1 16 1-14 1 5 1-7 1 17 1-16 1 13 1-5 1 12 1-4 1 7 1-22 1 6 1-9 1 6 1-10 1 13 1-9 1 8 1-2 1 12 1-9 1 10 1-19 1 31 1-11 1 10 1-19 1 16 1-13 1 19 1-12 1 15 1-6 1 3 1-10 1 6 1-15 1 19 1-5 1 5 1-21 1 1 1-8 1 3 1-9 1 8 1-10 1 14 1-4 1 15 1-15 1 7 1-1 1 18 1-9 1 16 1-17 1 20 1-17 1 1 1-10 1 18 1-20 1 7 1-10 1 10 1-11 1 8 1-8 1 5 1-15 1 34 1-3 1 12 1-19 1 0 1-2 1 6 1-5 1 10 1-13 1 11 1-15 1 23 1 0 1 13 1-18 1 1 1-15 1 17 1-19 1 6 1-17 1 17 1-9 1 7 1-8 1 18 1-15 1 4 1-22 1 14 1-6 1 17 1-25 1 6 1-8 1 25 1-10 1 7 1-8 1 23 1-22 1 4 1-12 1 19 1-24 1 19 1-11 1 14 1-4 1 22 1-17 1 22 1-20 1 21 1-16 1 4 1-8 1 9 1-10 1 13 1-16 1 1 1-4 1 24 1-11 1 0 1-17 1 20 1 0 1 11 1-28 1 3 1-9 1 19 1-13 1 10 1-2 1 13 1-16 1 4 1-10 1 11 1-13 1 16 1-33 1 5 1-7 1 19 1-7 1 16 1-4 1 7 1-23 1 12 1-23 1 12 1-19 1 3 1-2 1 21 1-8 1 12 1 0 1 14 1-11 1 7 1-4 1 17 1-23 1 13 1-10 1 4 1-13 1 12 1-5 1 12 1-6 1 33 1-15 1 3 1-10 1 17 1-12 1 13 1-15 1 9 1-20 1 13 1-14 1 4 1 0 1 18 1-9 1 5 1-22 1 13 1-21 1 16 1 0 1 24 1-15 1 7 1-18 1 6 1-16 1 7 1-6 1 15 1-12 1 16 1-12 1 11 1-8 1 22 1-9 1 0 1-3 1 6 1-28 1 16 1-14 1 23 1-29 1 10 1-7 1 18 1-5 1 24 1-1 1 4 1-12 1 13 1-10 1 20 1-20 1 1 1-4 1 21 1-7 1 8 1-17 1 6 1-14 1 6 1-6 1 0 1-16 1-178 1-1 1 3 1-38 1 1 1-32 1 0 1-46 1 0 1-47 1 0 1-20 1 1 1-21 1 2 1-27 1 8 1-9 1 13 1-6 1 15 1-17 1 7 1-6 1 4 1-5 1 12 1-14 1 0 1-16 1 21 1-6 1 3 1-3 1 12 1-16 1 3 1-15 1 6 1-3 1 22 1-20 1 8 1-4 1 15 1-8 1 18 1-9 1 5 1-11 1 15 1-22 1 11 1-6 1 6 1-17 1 12 1 0 1 17 1-6 1 9 1-15 1 6 1-5 1 5 1-9 1 8 1-21 1 10 1-11 1 11 1-13 1 3 1-13 1 17 1-8 1 14 1-11 1 8 1-10 1 5 1-9 1 28 1 0 1 8 1-14 1 0 1-10 1 14 1-22 1 17 1-6 1 8 1-11 1 2 1-14 1 6 1-11 1 15 1-4 1 29 1-9 1 8 1-3 1 0 1-11 1 11 1-8 1 5 1-15 1 10 1-4 1 21 1-5 1 11 1-20 1 15 1-7 1 7 1-18 1 5 1-13 1 7 1-13 1 17 1-4 1 13 1-13 1 9 1-11 1 14 1-18 1 8 1-11 1 27 1-15 1 18 1-9 1 11 1-25 1 9 1-7 1 19 1-14 1 7 1-5 1 13 1-11 1 10 1-4 1 6 1-4 1 12 1-23 1 10 1-14 1 19 1-12 1 8 1-4 1 18 1-5 1 10 1-18 1 5 1-18 1 7 1-7 1 14 1-2 1 7 1-11 1 1 1-9 1 15 1-11 1 0 1-20 1 34 1-5 1 8 1-7 1 23 1-10 1 7 1-32 1 17 1 0 1 16 1-12 1 18 1-20 1 4 1-17 1 18 1-20 1 0 1-11 1 2 1-11 1 12 1-2 1 5 1-19 1 3 1-11 1 30 1-10 1 7 1-4 1 2 1-21 1 14 1-9 1 4 1-12 1 23 1-12 1 23 1-3 1 7 1-6 1 3 1-20 1 9 1-5 1 19 1-23 1 4 1-10 1 16 1-11 1 9 1-25 1 0 1-5 1 27 1-12 1 22 1-4 1 8 1-17 1 11 1-7 1 12 1-12 1 1 1-5 1 8 1-14 1 15 1-15 1 17 1-20 1 11 1-11 1 33 1-1 1 4 1-27 1 20 1-21 1 5 1-9 1 5 1-8 1 14 1 0 1 11 1-2 1 23 1-31 1 8 1-27 1 23 1-6 1 8 1-14 1 5 1-22 1 13 1-7 1 7 1-12 1 0 1-11 1 29 1-9 1 10 1-11 1 4 1-13 1 27 1-1 1 19 1-6 1 0 1-24 1 7 1-19 1 2 1-8 1 19 1-6 1 3 1-5 1 19 1-7 1 3 1-14 1 15 1-18 1 15 1-11 1 11 1-13 1 7 1-17 1 6 1-2 1 25 1-15 1 12 1-21 1 11 1-9 1 13 1-5 1 18 1-6 1 3 1-28 1 23 1-18 1 13 1-6 1 19 1-19 1 22 1-20 1 6 1-3 1 14 1-8 1 19 1-7 1 6 1-6 1 4 1-15 1 6 1-18 1 8 1-18 1 27 1-2 1 19 1-4 1 4 1-16 1 13 1-5 1 11 1-11 1 9 1-7 1 4 1-9 1 8 1-9 1 7 1-25 1 5 1-15 1 24 1-18 1 5 1-12 1 19 1-20 1 2 1-4 1 23 1-7 1 13 1-9 1 9 1-8 1 15 1-10 1 13 1-21 1 3 1-16 1 8 1-10 1 2 1-5 1 17 1-4 1 11 1-13 1 6 1-18 1 8 1-13 1 24 1-1 1 17 1 0 1 12 1-13 1 10 1-7 1 10 1-10 1 17 1-7 1 1 1-7 1 14 1-2 1 7 1-26 1 6 1-7 1 8 1-10 1 13 1-6 1 10 1-9 1 10 1-4 1 25 1-15 1 3 1-14 1 7 1-13 1 18 1-15 1 10 1-21 1 3 1-17 1 10 1-7 1 3 1-21 1 17 1-10 1 17 1-5 1 24 1-3 1 0 1-29 1 8 1-23 1 23 1-1 1 10 1-19 1 10 1-13 1 5 1-9 1 8 1-1 1 20 1-2 1 13 1-17 1 4 1-10 1 16 1-21 1 16 1-22 1 20 1-4 1 19 1-13 1 3 1-6 1 4 1-3 1 4 1-10 1 8 1-22 1 5 1-7 1 2 1-10 1 28 1-12 1 0 1-12"/>
<path stroke="#00B0F6" d="M0 -8l1 8 1-3 1 6 1-17 1 24 1-4 1 3 1-21 1 22 1-9 1 19 1 0 1 25 1 0 1 31 1-3 1 41 1-2 1 32 1 0 1 17 1-9 1 23 1-14 1 2 1-4 1 20 1-3 1 11 1 0 1 19 1-4 1 13 1-7 1 3 1-13 1 7 1-11 1 17 1-7 1 4 1-17 1 10 1-11 1 5 1-9 1 21 1-7 1 22 1-11 1 2 1-13 1 0 1-21 1 7 1-6 1 5 1-7 1 1 1-21 1 17 1-10 1 12 1-2 1 18 1-15 1 14 1-8 1 17 1-12 1 2 1-10 1 12 1-8 1 24 1-4 1 2 1-19 1 12 1-8 1 8 1-18 1 4 1-5 1 20 1-1 1 18 1-13 1 4 1-7 1 4 1-12 1 17 1-10 1 10 1-13 1 13 1-22 1 26 1-16 1 6 1-16 1 9 1-25 1 10 1-7 1 11 1-2 1 11 1-15 1 14 1-6 1 27 1-16 1 5 1-11 1 8 1-10 1 11 1-23 1 8 1-18 1 19 1-11 1 8 1-9 1 16 1-17 1 4 1-4 1 10 1-2 1 13 1-17 1 18 1-11 1 18 1-8 1 0 1-4 1 10 1-22 1 8 1 0 1 6 1-6 1 11 1-2 1 11 1-15 1 12 1-14 1 8 1-9 1 2 1-12 1 19 1-7 1 21 1-4 1 3 1-9 1 5 1-10 1 11 1 0 1 12 1-15 1 5 1-24 1 5 1-25 1 24 1-1 1 4 1-18 1 11 1-8 1 16 1-3 1 5 1-22 1 11 1-15 1 18 1-9 1 18 1 0 1 26 1-20 1 9 1-20 1 0 1-26 1 22 1-10 1 0 1-19 1 18 1-1 1 18 1-21 1 7 1-21 1 7 1-13 1 18 1-5 1 19 1-8 1 6 1-19 1 4 1 0 1 24 1-5 1 9 1-18 1 12 1-20 1 21 1-4 1 19 1-12 1 1 1-14 1 5 1-5 1 15 1-14 1 2 1-4 1 19 1-16 1 7 1-3 1 13 1-13 1 2 1-21 1 13 1-13 1 11 1-7 1 17 1-3 1 29 1-4 1 0 1-39 1 11 1-12 1 10 1-21 1 28 1-4 1 26 1-18 1 3 1-8 1 12 1-18 1 25 1-15 1 16 1-25 1 1 1-11 1 18 1-9 1 12 1-20 1 7 1-2 1 2 1-3 1 19 1-8 1 5 1-8 1 8 1-10 1 14 1-1 1 6 1-9 1 13 1-14 1 2 1-14 1 20 1-12 1 14 1-9 1 14 1-7 1 4 1-10 1 3 1-7 1 7 1-15 1 5 1-8 1 16 1-13 1 8 1-15 1 6 1-1 1 9 1-7 1 12 1-21 1 1 1-11 1 17 1-2 1 27 1-6 1 13 1-13 1 9 1 0 1 11 1-18 1 2 1-10 1 16 1-14 1 5 1-13 1 4 1-5 1 14 1-6 1 19 1-10 1 16 1-15 1 8 1-13 1 0 1-26 1 15 1-7 1 1 1-7 1 14 1-18 1 24 1-26 1 0 1-9 1 25 1-1 1 12 1-7 1 15 1-6 1 8 1-26 1 8 1-10 1 11 1-13 1 6 1-11 1 15 1-6 1 4 1-2 1 15 1-1 1 15 1-8 1 6 1-12 1 8 1-7 1 17 1-21 1 14 1-14 1 1 1-3 1 7 1-12 1 8 1-22 1 21 1-6 1 4 1-23 1 7 1-5 1 10 1-17 1 13 1-14 1 14 1-7 1 8 1-16 1 18 1-2 1 17 1-5 1 12 1-11 1 14 1-32 1 6 1-8 1 15 1-7 1 9 1-10 1 17 1-4 1 9 1-12 1 11 1-17 1 7 1-9 1 14 1-15 1 22 1-10 1 4 1-12 1 2 1-11 1 16 1-23 1 3 1 0 1 4 1-10 1 7 1-2 1 4 1 0 1 21 1-14 1 20 1-2 1 7 1-4 1 9 1-8 1 2 1-6 1 5 1-5 1 12 1-13 1 16 1-11 1 12 1-12 1 7 1-12 1 0 1-8 1 8 1-15 1 7 1-1 1 13 1-16 1 4 1-8 1 13 1-4 1 0 1-12 1 12 1-2 1 22 1-6 1 26 1-3 1 0 1-14 1 17 1-7 1 2 1-19 1 3 1-21 1 9 1-3 1 8 1-17 1 23 1-9 1 5 1-14 1-178 1 11 1 9 1-10 1 7 1-24 1 6 1-9 1 18 1-14 1 7 1-19 1 0 1-14 1 19 1-10 1 21 1-2 1 20 1-7 1 7 1-13 1 24 1-11 1 19 1-23 1 10 1-11 1 22 1-11 1 5 1-9 1 30 1-6 1 11 1 0 1 33 1-6 1 3 1-3 1 9 1-3 1 17 1-8 1 27 1-11 1 20 1-4 1 20 1 0 1 18 1-1 1 20 1-3 1 9 1-12 1 25 1-7 1 0 1-21 1 7 1-5 1 7 1-8 1 21 1-7 1 14 1-15 1 10 1-11 1 2 1-20 1 16 1-9 1 8 1-10 1 17 1-8 1 8 1-17 1 6 1-6 1 11 1-9 1 14 1-11 1 7 1-7 1 25 1-6 1 1 1-16 1 3 1-12 1 16 1-20 1 5 1-6 1 8 1-4 1 13 1-14 1 5 1-9 1 18 1-15 1 23 1-5 1 3 1-12 1 17 1-19 1 14 1-19 1 8 1-7 1 17 1-6 1 13 1-9 1 5 1-11 1 0 1-26 1 10 1-24 1 15 1-17 1 14 1-3 1 12 1-14 1 8 1 0 1 10 1-14 1 14 1-7 1 19 1-6 1 5 1-11 1 9 1-9 1 22 1-7 1 1 1-13 1 1 1-6 1 7 1-12 1 6 1-23 1 10 1-7 1 15 1 0 1 31 1-24 1 1 1-3 1 16 1-8 1 19 1-3 1 16 1-13 1 17 1-12 1 2 1-15 1 1 1-3 1 4 1-12 1 22 1-3 1 4 1-11 1 3 1-3 1 7 1-12 1 1 1-23 1 17 1-1 1 15 1-28 1 12 1-7 1 8 1-3 1 7 1-11 1 4 1-7 1 0 1-12 1 19 1-4 1 15 1-9 1 18 1-12 1 0 1-16 1 10 1-11 1 6 1-14 1 13 1-10 1 4 1-5 1 21 1-12 1 23 1-19 1 22 1-8 1 7 1-22 1 7 1-6 1 7 1-18 1 20 1-9 1 1 1-14 1 7 1-9 1 22 1-8 1 11 1-13 1 11 1-13 1 12 1-3 1 6 1-18 1 9 1-5 1 20 1-26 1 8 1-9 1 32 1-1 1 12 1-23 1 8 1-7 1 5 1-1 1 10 1-26 1 12 1-6 1 16 1-7 1 7 1-5 1 21 1-22 1 2 1-14 1 4 1-6 1 23 1-14 1 3 1-14 1 29 1-28 1 6 1-9 1 7 1-4 1 7 1-18 1 22 1-13 1 10 1-15 1 17 1-9 1 11 1-17 1 8 1-18 1 14 1-2 1 11 1-1 1 3 1-30 1 10 1-7 1 16 1-7 1 21 1-10 1 9 1-12 1 5 1-14 1 29 1-11 1 0 1-9 1 0 1-3 1 30 1-2 1 7 1-19 1 10 1-19 1 5 1-3 1 12 1-13 1 20 1-8 1 8 1-11 1 8 1-11 1 15 1-4 1 4 1-11 1 15 1-20 1 5 1-17 1 11 1-9 1 8 1-7 1 15 1 0 1 9 1-10 1 11 1-16 1 19 1-19 1 15 1-7 1 6 1-13 1 8 1-10 1 0 1-13 1 13 1 0 1 13 1-11 1 5 1-20 1 14 1-18 1 6 1-14 1 6 1-12 1 18 1-9 1 18 1-2 1 1 1-21 1 32 1-6 1 3 1-8 1 12 1-7 1 16 1-13 1 19 1-11 1 20 1-13 1 0 1-15 1 11 1-14 1 15 1-5 1 0 1-13 1 1 1-9 1 8 1-11 1 5 1-17 1 2 1-12 1 13 1-6 1 23 1-16 1 25 1 0 1 14 1-12 1 4 1-2 1 14 1-21 1 6 1-8 1 14 1-2 1 8 1-19 1 12 1-12 1 4 1-23 1 8 1-8 1 8 1-3 1 40 1-10 1 3 1-16 1 17 1-11 1 4 1-10 1 16 1-18 1 15 1 0 1 4 1-21 1 18 1-14 1 14 1-15 1 0 1-11 1 5 1-14 1 16 1-3 1 11 1-8 1 12 1 0 1 19 1-24 1 0 1-15 1 1 1-11 1 15 1-15 1 5 1-7 1 9 1-11 1 36 1-7 1 7 1-16 1 12 1-7 1 11 1-9 1 21 1-20 1 8 1-6 1 17 1-2 1 7 1-13 1 16 1-12 1 0 1-16 1 11 1-24 1 0 1-8 1 14 1-19 1 6 1-24"/>
<path stroke="#9590FF" d="M0 -8l1 9 1-7 1 15 1-3 1 33 1 0 1 33 1-5 1 34 1-3 1 33 1 0 1 15 1-3 1 12 1-8 1 11 1-9 1 25 1-8 1 9 1-11 1 4 1-9 1 14 1-6 1 20 1-3 1 22 1-13 1 13 1-24 1 9 1-15 1 28 1-6 1 15 1-18 1 2 1-16 1 7 1-26 1 30 1-15 1 19 1-10 1 2 1-11 1 4 1-5 1 5 1-7 1 19 1-4 1 4 1-13 1 0 1-12 1 15 1-8 1 3 1-8 1 18 1-6 1 10 1-18 1 11 1-4 1 16 1-9 1 2 1-4 1 8 1-7 1 18 1 0 1 9 1-8 1 13 1-18 1 6 1-12 1 24 1-12 1 10 1-20 1 25 1-6 1 11 1-37 1 14 1-9 1 10 1-19 1 6 1-3 1 5 1-1 1 5 1-14 1 26 1-14 1 2 1-10 1 19 1-20 1 28 1-4 1 8 1-16 1 23 1-18 1 0 1-17 1 4 1-14 1 21 1-14 1 4 1-8 1 4 1-14 1 14 1-5 1 15 1-7 1 4 1-10 1 17 1-12 1 9 1-7 1 14 1-11 1 12 1-15 1 4 1-9 1 4 1-8 1 8 1-16 1 12 1 0 1 25 1-10 1 2 1-13 1 1 1-17 1 30 1-6 1 6 1-14 1 12 1-23 1 20 1 0 1 4 1-16 1 3 1-17 1 17 1-5 1 22 1-14 1 1 1-26 1 14 1-14 1 3 1-22 1 8 1-4 1 21 1-16 1 13 1-6 1 11 1-8 1 16 1-18 1 4 1-4 1 30 1-5 1 5 1-13 1 4 1-2 1 10 1-5 1 13 1-14 1 4 1-24 1 3 1-4 1 1 1-32 1 15 1 0 1 14 1-21 1 18 1-5 1 10 1-3 1 26 1-1 1 19 1-8 1 14 1-9 1 12 1-27 1 22 1-13 1 4 1-28 1 15 1-21 1 3 1-7 1 12 1-14 1 11 1-5 1 18 1-3 1 19 1-17 1 16 1-14 1 21 1-3 1 2 1-20 1 13 1-7 1 10 1-16 1 3 1-25 1 29 1-10 1 14 1-19 1 3 1-19 1 10 1 0 1 28 1-8 1 9 1-9 1 5 1-15 1 11 1-15 1 11 1-13 1 10 1-8 1 12 1-18 1 3 1-6 1 21 1-9 1 7 1-14 1 5 1-5 1 27 1-16 1 26 1-6 1 13 1-11 1 0 1-10 1 7 1-9 1 12 1-12 1 1 1-9 1 7 1-7 1 15 1-16 1 11 1-11 1 6 1-5 1 9 1-14 1 14 1-13 1 2 1-1 1 19 1-6 1 6 1-26 1 3 1-11 1 29 1-19 1 6 1-2 1 30 1-5 1 13 1-7 1 11 1-12 1 23 1-25 1 0 1-19 1 2 1-5 1 22 1-10 1 8 1-12 1 8 1-15 1 10 1-11 1 22 1-6 1 8 1-16 1 12 1-11 1 15 1-13 1 8 1-13 1 0 1-15 1 14 1-8 1 7 1-11 1 12 1-9 1 9 1-12 1 9 1-11 1 11 1-6 1 10 1-10 1 5 1-10 1 13 1-8 1 5 1-16 1 8 1-12 1 20 1-7 1 13 1-18 1 14 1-7 1 17 1-1 1 12 1-3 1 6 1-13 1 3 1-11 1 24 1-10 1 4 1-24 1 8 1-16 1 13 1-2 1 11 1-12 1 7 1-22 1 1 1-7 1 27 1-19 1 2 1-15 1 24 1 0 1 9 1-13 1 2 1-14 1 10 1-4 1 7 1-6 1 35 1-6 1 4 1-18 1 7 1-13 1 16 1-2 1 17 1-14 1 4 1-15 1 10 1-20 1 7 1-7 1 4 1-22 1 17 1-1 1 14 1-14 1 16 1-12 1 5 1-9 1 15 1-13 1 18 1-6 1 12 1-13 1 12 1-5 1 6 1-1 1 13 1-22 1 6 1-22 1 15 1-11 1 5 1-7 1 32 1 0 1 10 1-14 1 11 1-34 1 3 1-2 1 4 1-17 1 21 1-7 1 12 1-11 1 6 1-17 1 6 1-15 1 11 1-17 1 21 1-1 1 10 1-18 1 17 1-12 1 8 1-22 1 18 1-14 1 0 1-11 1 21 1-12 1 21 1-8 1 13 1-13 1 14 1-14 1 7 1-8 1 15 1-14 1 10 1-13 1 15 1-10 1-192 1-7 1 10 1-12 1 9 1-13 1 7 1-13 1 35 1-3 1 8 1-13 1 13 1-14 1 6 1-13 1 11 1-15 1 9 1-31 1 5 1-17 1 1 1-28 1 1 1-29 1 0 1-56 1 0 1-31 1 0 1-18 1 15 1-27 1 5 1-5 1 15 1-5 1 6 1-12 1 0 1-10 1 20 1-2 1 8 1-14 1 5 1-12 1 13 1-10 1 6 1-6 1 1 1-10 1 7 1-2 1 8 1-5 1 12 1-25 1 14 1-13 1 13 1-11 1 4 1-5 1 18 1 0 1 16 1-20 1 6 1 0 1 14 1-3 1 6 1-17 1 5 1-20 1 9 1-20 1 17 1-8 1 6 1-2 1 17 1-11 1 9 1-20 1 11 1-12 1 12 1-5 1 12 1-10 1 5 1-23 1 19 1-5 1 10 1-7 1 12 1-13 1 15 1-12 1 22 1-15 1 13 1-13 1 7 1-15 1 19 1-13 1 5 1-22 1 5 1-17 1 9 1-6 1 33 1-6 1 4 1-7 1 14 1-9 1 10 1-4 1 12 1-19 1 9 1-16 1 6 1-19 1 15 1 0 1 5 1-11 1 16 1-5 1 7 1-7 1 11 1-4 1 13 1-27 1 5 1-5 1 20 1-13 1 3 1-11 1 16 1-4 1 22 1-22 1 2 1-9 1 14 1-27 1 4 1-3 1 20 1-9 1 11 1-6 1 20 1-16 1 6 1-8 1 4 1-9 1 12 1-2 1 19 1-14 1 4 1-16 1 10 1-21 1 6 1-2 1 13 1-13 1 21 1-12 1 0 1-16 1 17 1-3 1 8 1-7 1 11 1-12 1 9 1-11 1 2 1-5 1 9 1-15 1 9 1-10 1 8 1-7 1 6 1-9 1 10 1-7 1 15 1-6 1 4 1-4 1 8 1-9 1 29 1-9 1 10 1-15 1 3 1-9 1 8 1-14 1 12 1-4 1 3 1-26 1 2 1-11 1 13 1-4 1 13 1-9 1 7 1-2 1 11 1-21 1 7 1-20 1 0 1-11 1 17 1-1 1 10 1-16 1 4 1-4 1 13 1-11 1 8 1-11 1 14 1-9 1 13 1-5 1 15 1-6 1 2 1 0 1 4 1-8 1 9 1-10 1 19 1-17 1 14 1-7 1 6 1-25 1 8 1-9 1 11 1-2 1 15 1-5 1 14 1-6 1 20 1-13 1 7 1-4 1 14 1-24 1 13 1-32 1 5 1-6 1 6 1-14 1 18 1-3 1 0 1-17 1 7 1-10 1 15 1-4 1 16 1-8 1 23 1-18 1 13 1-4 1 13 1-28 1 16 1-5 1 5 1-15 1 24 1-14 1 6 1-16 1 11 1-3 1 4 1-17 1 21 1-11 1 9 1-7 1 6 1-8 1 3 1-8 1 15 1-9 1 16 1-22 1 12 1-15 1 11 1-7 1 8 1-4 1 18 1-15 1 1 1-9 1 19 1-10 1 0 1-15 1 12 1-15 1 9 1-10 1 23 1-14 1 18 1-6 1 7 1-11 1 19 1-24 1 3 1-16 1 35 1-8 1 7 1-5 1 1 1-7 1 4 1-21 1 10 1-16 1 3 1-9 1 9 1-15 1 6 1-2 1 14 1-13 1 6 1-1 1 19 1-6 1 16 1-19 1 9 1-15 1 7 1-11 1 14 1-4 1 21 1-9 1 12 1-13 1 18 1-14 1 4 1-18 1 26 1-22 1 19 1-10 1 2 1-5 1 2 1-23 1 8 1-8 1 15 1-12 1 18 1-4 1 10 1-10 1 0 1-12 1 18 1-9 1 10 1-1 1 8 1-17 1 13 1-13 1 8 1-26 1 15 1-3 1 17 1-16 1 11 1-17 1 8 1-14 1 18 1-1 1 6 1-12 1 6 1-11 1 9 1-7 1 26 1-28 1 4 1-20 1 19 1-3 1 8 1-17 1 35 1-18 1 2 1-5 1 17 1-12 1 7 1-8 1 8 1-13 1 28 1-9 1 8 1-10 1 9 1-22 1 13 1-20 1 15 1-13 1 0 1-23 1 13 1-8 1 18 1-6 1 10 1-7 1 6 1-15 1 15 1-6 1 14 1-18 1 12 1-15 1 2 1-7 1 21 1-6 1 7 1-14 1 26 1-19 1 0 1-7 1 21 1-12 1 18 1-16 1 17 1-15 1 14 1-15 1 11 1-3"/>
<path stroke="#E76BF3" d="M0 -8l1 10 1-13 1 3 1-16 1 24 1-3 1 3 1-13 1 24 1-10 1 3 1-22 1 10 1-29 1 2 1-7 1 6 1-42 1 0 1-34 1 10 1-24 1 0 1-25 1 12 1-23 1 3 1-24 1 2 1-28 1 11 1-10 1 10 1-10 1 4 1-30 1 24 1-11 1 19 1-1 1 20 1-10 1 6 1-7 1 0 1-6 1 4 1-16 1 15 1-4 1 15 1-15 1 12 1-14 1 0 1-6 1 12 1-11 1 16 1-17 1 0 1-18 1 0 1-1 1 10 1-6 1 20 1-2 1 12 1-10 1 15 1-8 1 9 1-4 1 11 1-18 1 17 1-7 1 8 1-21 1 9 1-3 1 3 1-20 1 4 1-2 1 18 1-25 1 12 1-5 1 15 1-15 1 11 1-12 1 14 1-5 1 7 1-16 1 11 1-12 1 11 1-8 1 8 1 0 1 2 1-4 1 12 1-6 1 28 1-24 1 3 1-13 1 5 1-3 1 0 1-14 1 8 1-13 1 12 1-6 1 7 1-6 1 10 1-10 1 10 1-1 1 6 1-16 1 10 1-3 1 9 1-8 1 10 1-10 1 0 1-7 1 16 1-19 1 7 1 0 1 25 1-12 1 11 1-15 1 13 1-7 1 13 1-4 1 7 1-14 1 0 1-19 1 10 1-11 1 19 1-7 1 3 1-24 1 11 1-18 1 9 1-12 1 19 1-4 1 15 1-10 1 15 1-6 1 13 1-24 1 8 1-6 1 8 1-6 1 14 1-9 1 6 1-20 1 9 1-14 1 10 1-7 1 20 1-18 1 3 1-12 1 7 1-11 1 12 1-3 1 14 1-14 1 11 1 0 1 3 1-27 1 3 1-3 1 30 1-12 1 4 1-11 1 1 1-9 1 16 1-9 1 5 1-4 1 19 1-4 1 6 1-22 1 15 1-9 1 15 1-6 1 23 1-12 1 13 1-21 1 4 1-4 1 8 1 0 1 16 1-3 1 20 1-2 1 4 1-30 1 8 1-11 1 13 1-15 1 11 1-10 1 2 1-14 1 10 1-6 1 2 1-17 1 5 1-8 1 17 1-14 1 17 1-3 1 10 1-13 1 4 1-22 1 8 1-10 1 16 1-11 1 5 1-4 1 12 1-6 1 15 1-13 1 8 1-15 1 15 1-1 1 15 1-17 1 6 1-14 1 35 1-17 1 11 1-7 1 8 1-6 1 17 1-9 1 5 1-20 1 12 1-10 1 17 1-5 1 4 1-11 1 15 1-14 1 13 1-5 1 0 1-21 1 25 1-4 1 6 1-12 1 16 1-3 1 13 1-28 1 4 1-22 1 1 1-15 1 4 1 0 1 16 1-2 1 13 1-8 1 10 1-11 1 10 1 0 1 13 1-23 1 22 1-11 1 0 1-30 1 19 1-16 1 15 1-19 1 6 1-20 1 12 1-10 1 7 1-10 1 22 1-1 1 12 1-8 1 13 1-18 1 5 1-2 1 19 1-19 1 4 1-15 1 6 1-1 1 4 1-5 1 28 1-1 1 14 1-24 1 18 1-1 1 6 1-18 1 16 1-16 1 1 1-23 1 6 1-13 1 6 1-5 1 12 1-3 1 20 1-1 1 3 1-12 1 14 1-6 1 4 1-7 1 17 1-19 1 7 1-10 1 13 1-17 1 17 1-4 1 1 1-7 1 18 1-6 1 1 1 0 1 9 1-19 1 13 1-6 1 3 1-19 1 17 1-12 1 7 1-20 1 4 1-10 1 18 1-16 1 19 1-8 1 0 1-16 1 24 1-7 1 4 1-15 1 12 1-5 1 14 1-11 1 10 1-11 1 12 1-19 1 21 1-12 1 7 1 0 1 10 1-14 1 2 1 0 1 10 1-25 1 14 1-20 1 9 1-8 1 21 1-1 1 20 1-6 1 0 1-25 1 11 1-16 1 13 1-9 1 21 1-2 1 5 1-5 1 6 1-12 1 0 1-8 1 8 1-11 1 8 1-5 1 12 1-12 1 12 1-15 1 7 1-11 1 14 1-3 1 7 1-23 1 17 1-13 1 22 1 0 1 9 1-19 1 4 1-7 1 11 1-16 1 24 1-6 1 14 1-15 1 8 1-6 1 14 1-21 1 6 1-12 1 14 1-1 1 19 1-17 1 9 1-2 1 5 1-12 1 11 1-13 1 1 1-13 1 6 1-1 1 12 1-27 1 14 1-6 1-175 1 50 1 63 1-1 1 52 1 0 1 21 1-4 1 10 1-8 1 0 1-16 1 8 1 0 1 5 1-5 1 0 1-13 1 1 1-5 1 1 1-9 1 17 1-3 1 10 1-16 1 28 1-6 1 16 1-14 1 7 1-9 1 15 1-12 1 13 1-24 1 23 1-9 1 15 1-15 1 5 1-8 1 11 1-13 1 4 1-18 1 6 1-7 1 10 1-17 1 3 1-11 1 20 1 0 1 29 1-11 1 16 1-22 1 12 1-1 1 14 1-13 1 18 1-15 1 13 1-7 1 7 1-12 1 14 1-10 1 10 1-19 1 7 1-23 1 7 1-15 1 6 1-13 1 28 1-18 1 21 1-5 1 10 1-34 1 20 1-9 1 23 1 0 1 17 1-18 1 9 1-36 1 10 1-19 1 15 1-6 1 17 1-8 1 21 1-11 1 15 1-11 1 9 1-10 1 6 1-17 1 11 1-12 1 12 1-22 1 9 1-5 1 4 1-21 1 22 1 0 1 6 1-12 1 17 1-8 1 8 1-19 1 8 1-27 1 15 1-11 1 14 1-8 1 17 1-6 1 3 1-12 1 18 1-4 1 9 1-19 1 8 1-8 1 15 1-10 1 9 1-24 1 6 1-18 1 3 1-17 1 18 1-6 1 15 1-6 1 22 1-7 1 26 1-18 1 3 1-12 1 11 1-7 1 13 1-8 1 1 1-21 1 12 1-13 1 32 1-2 1 8 1-10 1 11 1-13 1 17 1-2 1 12 1-25 1 13 1-11 1 11 1-16 1 7 1-11 1 3 1-5 1 18 1-13 1 7 1-7 1 20 1-9 1 8 1-3 1 1 1-27 1 10 1-2 1 14 1-2 1 13 1-22 1 19 1-15 1 3 1-11 1 14 1-5 1 11 1-21 1 5 1-9 1 17 1-11 1 11 1-2 1 2 1-1 1 6 1 0 1 11 1-8 1 8 1-9 1 2 1-4 1 6 1-21 1 9 1-5 1 6 1-8 1 5 1-13 1 10 1 0 1 14 1-6 1 11 1-2 1 10 1-11 1 2 1-18 1 1 1-3 1 9 1-4 1 22 1-6 1 9 1-22 1 0 1-17 1 13 1-3 1 13 1-8 1 6 1-19 1 24 1-10 1 3 1-11 1 5 1-14 1 11 1-7 1 5 1-9 1 12 1-7 1 18 1-17 1 12 1-2 1 18 1-13 1 6 1-12 1 10 1-15 1 5 1-12 1 18 1-6 1 27 1-4 1 23 1-22 1 13 1-12 1 3 1-9 1 15 1-14 1 0 1-9 1 9 1-20 1 13 1-20 1 6 1-6 1 13 1-2 1 25 1-1 1 0 1-14 1 5 1-19 1 10 1-21 1 18 1-8 1 9 1-26 1 16 1-16 1 1 1-17 1 28 1-3 1 15 1-17 1 16 1-5 1 0 1-25 1 4 1-15 1 29 1-18 1 14 1-11 1 15 1-3 1 11 1-2 1 15 1-1 1 9 1-16 1 2 1-13 1 13 1-12 1 10 1-9 1 19 1-5 1 10 1-16 1 4 1-11 1 3 1-9 1 0 1-20 1 8 1-2 1 16 1-1 1 8 1-20 1 19 1 0 1 21 1-19 1 10 1-3 1 12 1-11 1 4 1-12 1 2 1-18 1 22 1-4 1 0 1-21 1 9 1-27 1 15 1 0 1 4 1-21 1 14 1-2 1 25 1-4 1 13 1-9 1 9 1-16 1 4 1-10 1 10 1-14 1 18 1-14 1 0 1-2 1 18 1-11 1 10 1-9 1 10 1-7 1 11 1-10 1 21 1-18 1 2 1-13 1 19 1-25 1 5 1-7 1 20 1-11 1 0 1-15 1 14 1-11 1 27 1-9 1 16 1-1 1 11 1-30 1 0 1-14 1 22 1-7 1 6 1-2 1 9 1-14 1 3 1-11 1 18 1-7 1 13 1-4 1 4 1-8 1 1 1-4 1 22 1-29 1 9 1 0 1 11 1-21 1 10 1 0 1 5 1-4 1 4 1-1 1 8 1-19 1 27 1-5 1 10 1-12 1 7 1-17 1 13 1-28 1 7 1-3 1 20 1-15 1 5 1-15 1 16 1-20 1 5 1-2 1 27 1-16 1 16 1-9 1 0 1-35 1 20 1-7 1 18 1-7 1 32 1-14 1 14 1-14 1 6 1-13 1 4 1-10 1 9 1-10 1 14 1-6"/>
<path stroke="#FF62BC" d="M0 -8l1 4 1-11 1 10 1-10 1 16 1-9 1 23 1-9 1 4 1-8 1 8 1-2 1 14 1-2 1 17 1 0 1 17 1-4 1 27 1-2 1 28 1 0 1 24 1-5 1 22 1 0 1 26 1 0 1 13 1-1 1 29 1-12 1 8 1-35 1 11 1-6 1 15 1-9 1 15 1-9 1 17 1-8 1 13 1-11 1 4 1-28 1 20 1-9 1 10 1-22 1 10 1-2 1 30 1-6 1 7 1-7 1 16 1-8 1 14 1-28 1 3 1-16 1 9 1-25 1 9 1-3 1 15 1-3 1 24 1-1 1 19 1-1 1 2 1-37 1 5 1-6 1 8 1-10 1 0 1-10 1 24 1-18 1 11 1-9 1 18 1-30 1 1 1-3 1 17 1-13 1 8 1-11 1 21 1-12 1 9 1-3 1 12 1-14 1 11 1-11 1 19 1-2 1 10 1-3 1 6 1-17 1 4 1-10 1 10 1-14 1 16 1-19 1 9 1-9 1 7 1-26 1 22 1-15 1 17 1-1 1 15 1-11 1 15 1-8 1 13 1-21 1 7 1-11 1 9 1-3 1 0 1-6 1 3 1-13 1 5 1-30 1 19 1-14 1 19 1-6 1 11 1-12 1 0 1-3 1 12 1-6 1 12 1-4 1 1 1-6 1 18 1-4 1 4 1-9 1 17 1-4 1 13 1-9 1 8 1-20 1 1 1-15 1 11 1 0 1 9 1-7 1 18 1-15 1 11 1-11 1 9 1-14 1 0 1-10 1 17 1-9 1 5 1-21 1 0 1-7 1 11 1-7 1 1 1-3 1 18 1-6 1 15 1-5 1 12 1-16 1 11 1 0 1 22 1-10 1 0 1-34 1 6 1-4 1 2 1-18 1 33 1-5 1 16 1-20 1 11 1-6 1 14 1-9 1 2 1-10 1 16 1-7 1 5 1-8 1 14 1-9 1 11 1-7 1 7 1-7 1 8 1 0 1 20 1-15 1 6 1-14 1 8 1-12 1 15 1-17 1 7 1-10 1 3 1-4 1 23 1-24 1 7 1-21 1 3 1-7 1 13 1-3 1 10 1-20 1 1 1-4 1 17 1-8 1 23 1-18 1 3 1-20 1 19 1-7 1 7 1-9 1 11 1-5 1 29 1-21 1 10 1-11 1 9 1-5 1 1 1-11 1 19 1-4 1 7 1-11 1 0 1-26 1 6 1-8 1 20 1-19 1 14 1-3 1 24 1-3 1 15 1-22 1 12 1-15 1 17 1-5 1 10 1-11 1 1 1-11 1 4 1-13 1 21 1-6 1 11 1-9 1 7 1-8 1 13 1-3 1 9 1-12 1 4 1 0 1 14 1-8 1 4 1-15 1 8 1-12 1 5 1-11 1 3 1-16 1 7 1-23 1 2 1-5 1 12 1-10 1 20 1-14 1 12 1-4 1 21 1-30 1 9 1-22 1 18 1-6 1 26 1-1 1 15 1-28 1 17 1-11 1 1 1-14 1 12 1-9 1 11 1-18 1 8 1-8 1 22 1-6 1 13 1-4 1 3 1-16 1 5 1-3 1 19 1-15 1 1 1-8 1 5 1-10 1 14 1-6 1 19 1-3 1 14 1-9 1 6 1-14 1 7 1-27 1 0 1-24 1 17 1-13 1 11 1-8 1 22 1-11 1 11 1-20 1 3 1 0 1 21 1-12 1 4 1-15 1 29 1-17 1 16 1-18 1 8 1-2 1 8 1-6 1 15 1-22 1 6 1-4 1 9 1-19 1 6 1-2 1 15 1-8 1 17 1 0 1 19 1-8 1 9 1-22 1 10 1-9 1 5 1-20 1 18 1-3 1 16 1-1 1 14 1-26 1 7 1-17 1 13 1-16 1 4 1-1 1 10 1-18 1 21 1-9 1 13 1-18 1 9 1-20 1 5 1-22 1 2 1-11 1 27 1 0 1 20 1-18 1 4 1-9 1 30 1-14 1 9 1-18 1 7 1-20 1 6 1-3 1 8 1-11 1 16 1-2 1 12 1-12 1 0 1-17 1 2 1-20 1 7 1-6 1 26 1-9 1 5 1-6 1 6 1-12 1 8 1-7 1 25 1-7 1 9 1-15 1 9 1-4 1 1 1-9 1 23 1-7 1 4 1-13 1 17 1-10 1 22 1-19 1 14 1-8 1 12 1-14 1 6 1-7 1 10 1-25 1 13 1-6 1 18 1-17 1 0 1-11 1-191 1-4 1 19 1-14 1 12 1-3 1 17 1-2 1 36 1-8 1 6 1-16 1 1 1-41 1 3 1-29 1 2 1-39 1 1 1-52 1 0 1-25 1 0 1-28 1 3 1-13 1 11 1-6 1 0 1-30 1 2 1-11 1 17 1-1 1 13 1-5 1 7 1-16 1 0 1-4 1 26 1-23 1 22 1-6 1 5 1-9 1 0 1-18 1 8 1-19 1 19 1-14 1 7 1-6 1 40 1-2 1 17 1-11 1 4 1-22 1 14 1-6 1 10 1-16 1 13 1-15 1 9 1-13 1 11 1-2 1 6 1-9 1 5 1-1 1 5 1-21 1 14 1 0 1 12 1-12 1 14 1-11 1 0 1-17 1 17 1-20 1 8 1-6 1 9 1-28 1 14 1-1 1 6 1-6 1 19 1-8 1 3 1-15 1 9 1-3 1 9 1-10 1 13 1-18 1 9 1-9 1 15 1-4 1 6 1-12 1 14 1-9 1 6 1-9 1 9 1-8 1 3 1-4 1 16 1-12 1 14 1-3 1 6 1-25 1 5 1-1 1 14 1-14 1 19 1-3 1 10 1-10 1 3 1-15 1 3 1-18 1 6 1-13 1 19 1 0 1 17 1-17 1 2 1-20 1 7 1-6 1 27 1 0 1 20 1-6 1 10 1-20 1 3 1-20 1 3 1-22 1 6 1-4 1 21 1-13 1 0 1-18 1 20 1-3 1 8 1-18 1 4 1-5 1 12 1-9 1 10 1-6 1 20 1-2 1 8 1-12 1 20 1-12 1 0 1-2 1 18 1-9 1 11 1-12 1 9 1-17 1 26 1-21 1 20 1-12 1 7 1-11 1 17 1-10 1 7 1-18 1 7 1-14 1 18 1-11 1 3 1-11 1 7 1-11 1 16 1-3 1 15 1-1 1 10 1-16 1 5 1-3 1 10 1-5 1 4 1-28 1 5 1-21 1 6 1-16 1 19 1-1 1 24 1-32 1 2 1-13 1 21 1-19 1 11 1-14 1 18 1-22 1 9 1-12 1 21 1-5 1 23 1-9 1 0 1-12 1 20 1 0 1 13 1-11 1 8 1-33 1 1 1-9 1 31 1-15 1 0 1-15 1 16 1-4 1 21 1-2 1 1 1-20 1 8 1-8 1 9 1-14 1 5 1-6 1 17 1-10 1 2 1-10 1 21 1-15 1 23 1 0 1 6 1-10 1 9 1-4 1 20 1-2 1 5 1-14 1 1 1-21 1 7 1-26 1 14 1-4 1 22 1-17 1 8 1-7 1 9 1-2 1 10 1-12 1 11 1-13 1 7 1-18 1 21 1-4 1 13 1-16 1 7 1-5 1 22 1-8 1 5 1-7 1 4 1-3 1 16 1-20 1 6 1-16 1 1 1-16 1 9 1-9 1 7 1-17 1 26 1-4 1 20 1-4 1 8 1-8 1 6 1-17 1 5 1-9 1 4 1-32 1 9 1 0 1 20 1-6 1 13 1-15 1 9 1-16 1 11 1-20 1 5 1-11 1 29 1-9 1 16 1-6 1 10 1-16 1 10 1-17 1 0 1-12 1 13 1 0 1 22 1-4 1 10 1-5 1 2 1-22 1 14 1-14 1 5 1-11 1 11 1-16 1 7 1-7 1 7 1-4 1 16 1-17 1 7 1-8 1 14 1-7 1 23 1-8 1 9 1-19 1 17 1-6 1 9 1-25 1 13 1-5 1 11 1-11 1 16 1-17 1 0 1-13 1 17 1-9 1 9 1-3 1 4 1-13 1 1 1-4 1 17 1-15 1 15 1-7 1 24 1-9 1 7 1-4 1 13 1-4 1 11 1-23 1 3 1-10 1 3 1-10 1 10 1-6 1 18 1-1 1 17 1-38 1 6 1-10 1 4 1-5 1 17 1-26 1 10 1-5 1 27 1-9 1 14 1-5 1 23 1-23 1 5 1-16 1 13 1-6 1 15 1-13 1 7 1-1 1 8 1-18 1 6 1-12 1 1 1-16 1 15 1-8 1 2 1-5 1 19 1-10 1 7 1-9 1 18 1-14 1 7 1-15 1 0 1-11 1 10 1-15 1 6 1-9 1 2 1-11 1 20 1-4 1 4 1-2 1 24 1-4 1 11 1-4 1 8 1-14 1 15 1-9 1 2 1-17 1 19 1-17 1 19 1-23 1 8 1-8 1 12 1-9 1 16 1-26 1 0 1-4 1 18 1-3"/>
</g>
<line class="hk" x1="100.9" x2="933.5" y1="841.9" y2="841.9"/>
<line class="hr" x1="100.9" x2="933.5" y1="976.4" y2="976.4"/>
<text class="tp" transform="translate(799.5 961.5) scale(1 1.04)" text-anchor="middle">Tipping Point</text>
<text class="tk" x="91.75" y="748.60" text-anchor="end">2</text>
<text class="tk" x="91.75" y="913.10" text-anchor="end">0</text>
<text class="tk" x="91.75" y="1077.60" text-anchor="end">−2</text>
<text class="tk" x="138.4" y="1198.5" text-anchor="middle">0</text>
<text class="tk" x="327.525" y="1198.5" text-anchor="middle">25</text>
<text class="tk" x="516.65" y="1198.5" text-anchor="middle">50</text>
<text class="tk" x="705.775" y="1198.5" text-anchor="middle">75</text>
<text class="tk" x="894.9" y="1198.5" text-anchor="middle">100</text>
<text class="ax" transform="translate(517 1228.5) scale(1 1.05)" text-anchor="middle">Time</text>
<text class="ax" transform="translate(62.8 907.4) rotate(-90) scale(1 1.05)" text-anchor="middle">Social state (Z)</text>
<text class="lab" x="0" y="671.5">C</text>
</g>
<g id="panelD">
<g class="tr" transform="translate(1206.00 906.90) scale(0.7565 0.50)">
<path stroke="#F8766D" d="M0 -329l1 38 1-1 1 24 1-8 1 14 1-33 1 10 1-7 1 8 1-11 1 11 1-16 1 6 1-11 1 36 1-25 1 0 1-13 1 7 1-8 1 6 1 0 1 29 1-11 1 3 1-21 1 23 1-16 1 8 1-4 1 6 1-4 1 10 1-6 1 5 1-27 1 10 1-12 1 4 1-3 1 6 1-6 1 14 1-3 1 9 1-3 1 6 1-24 1 8 1-9 1 30 1-4 1 1 1-9 1 13 1-1 1 5 1-24 1 7 1-13 1 11 1-13 1 8 1-10 1 9 1-2 1 15 1-5 1 0 1-7 1 23 1 0 1 12 1-10 1 6 1-8 1 9 1-27 1 11 1-3 1 19 1-14 1 5 1-14 1 14 1-11 1 11 1-19 1 15 1-11 1 6 1-21 1 9 1-8 1 31 1-18 1 8 1-19 1 7 1-3 1 11 1-13 1 20 1-16 1 11 1-11 1 10 1-14 1 19 1-9 1 13 1-11 1 12 1-8 1 0 1-22 1 17 1-10 1 4 1-12 1 13 1-14 1 20 1-21 1 8 1-12 1 10 1-5 1 31 1-8 1 3 1-16 1 14 1-4 1 16 1-15 1 0 1-7 1 24 1-22 1 3 1-14 1 19 1-10 1 10 1-1 1 7 1-16 1 10 1-26 1 2 1-4 1 3 1-8 1 18 1-6 1 10 1-7 1 18 1-3 1 9 1-6 1 3 1-33 1 22 1 0 1 25 1-3 1 13 1-23 1 1 1-11 1 9 1-4 1 7 1-26 1 17 1-3 1 11 1-17 1 9 1-5 1 5 1-12 1 15 1-21 1 11 1-11 1 17 1-9 1 3 1-7 1 9 1-16 1 25 1-18 1 14 1-17 1 6 1-2 1 12 1-1 1 6 1-22 1 4 1-6 1 24 1-2 1 8 1-25 1 4 1-6 1 6 1-12 1 26 1-16 1 7 1-15 1 15 1-2 1 1 1-10 1 13 1 0 1 6 1-17 1 11 1-12 1 11 1-9 1 9 1-13 1 6 1-4 1 14 1-14 1 18 1-22 1 27 1-17 1 6 1-6 1 21 1-10 1 12 1-16 1 12 1-29 1 12 1-1 1 12 1-5 1 19 1-25 1 14 1-14 1 5 1-24 1 9 1 0 1 25 1-17 1 0 1-11 1 14 1-4 1 14 1 0 1 12 1-9 1 4 1-18 1 6 1-4 1 11 1-16 1 11 1 0 1 12 1-22 1 3 1-14 1 8 1-9 1 21 1-14 1 8 1-1 1 21 1-24 1 15 1-20 1 25 1-6 1 4 1-24 1 10 1-19 1 16 1-7 1 14 1-9 1 8 1-4 1 7 1 0 1 5 1-6 1 6 1-17 1 13 1-8 1 4 1-8 1 14 1-3 1 5 1-9 1 8 1-20 1 4 1-18 1 14 1-14 1 4 1 0 1 16 1-9 1 13 1-11 1 5 1-21 1 26 1-10 1 20 1-12 1 8 1-9 1 12 1-13 1 7 1-10 1 12 1-6 1 19 1-17 1 13 1-12 1 5 1-7 1 16 1-20 1 19 1-11 1 3 1-17 1 8 1-5 1 24 1-11 1 1 1-7 1 15 1-9 1 8 1-8 1 13 1-12 1 2 1-25 1 20 1-17 1 11 1-9 1 9 1 0 1 15 1-8 1 7 1-8 1 5 1-32 1 4 1-14 1 28 1-5 1 7 1-4 1 14 1-7 1 0 1-8 1 11 1-8 1 13 1-21 1 20 1-24 1 4 1-14 1 15 1 0 1 20 1-3 1 3 1-9 1 15 1-5 1 14 1-11 1 9 1-22 1 11 1 0 1 9 1-13 1 7 1-20 1 11 1-12 1 2 1-5 1 5 1-8 1 9 1 0 1 14 1-15 1 16 1-9 1 5 1-14 1 25 1-7 1 0 1-23 1 16 1-10 1 10 1-13 1 13 1-3 1 11 1-3 1 4 1-9 1 17 1-12 1 3 1-12 1 9 1-8 1 10 1-1 1 9 1-17 1 2 1-6 1 9 1 0 1 21 1-16 1 3 1-9 1 0 1-6 1 7 1-14 1 23 1-12 1 14 1-16 1 7 1-11 1 23 1-15 1 11 1-20 1 9 1-12 1 24 1-6 1 5 1-11 1 17 1-10 1 5 1-11 1 7 1-3 1 15 1-24 1 15 1-5 1 17 1-22 1 5 1-8 1 25 1-30 1 249 1-126 1 0 1-68 1 1 1-34 1 0 1-12 1 5 1-15 1 14 1-6 1 5 1-18 1 23 1-13 1 12 1-20 1 10 1-27 1 11 1-2 1 8 1-2 1 2 1-8 1 12 1-3 1 13 1-12 1 8 1-4 1 8 1-10 1 9 1-22 1 17 1-1 1 23 1-20 1 8 1-9 1 10 1-2 1 14 1-1 1 9 1-22 1 3 1-15 1 15 1-15 1 2 1-11 1 8 1-2 1 9 1-10 1 13 1-6 1 6 1-8 1 9 1-12 1 25 1-8 1 5 1-8 1 18 1-14 1 2 1-25 1 10 1-3 1 15 1-13 1 6 1-1 1 16 1-19 1 8 1-11 1 3 1-8 1 17 1-4 1 1 1-21 1 13 1-4 1 7 1-10 1 11 1-3 1 11 1-6 1 17 1-6 1 3 1-20 1 20 1-9 1 3 1-17 1 5 1-23 1 10 1-5 1 11 1-4 1 27 1-18 1 13 1-6 1 14 1-25 1 9 1-4 1 14 1-2 1 16 1-21 1 3 1-12 1 16 1-20 1 3 1-16 1 26 1-19 1 8 1-4 1 31 1-21 1 1 1-26 1 10 1 0 1 18 1-2 1 13 1-7 1 6 1-13 1 20 1-11 1 12 1-16 1 8 1-18 1 9 1-22 1 5 1-20 1 18 1-4 1 7 1-4 1 16 1-10 1 22 1-13 1 0 1-10 1 11 1-13 1 0 1-17 1 17 1-11 1 9 1-1 1 13 1 0 1 10 1-20 1 9 1-2 1 13 1-12 1 4 1-12 1 10 1-13 1 18 1-6 1 5 1-9 1 25 1-13 1 5 1-18 1 5 1-10 1 21 1-10 1 4 1-15 1 35 1-7 1 7 1-13 1 8 1-5 1 9 1-6 1 10 1-25 1 4 1-23 1 14 1-5 1 19 1-6 1 15 1-13 1 6 1-10 1 8 1-13 1 4 1-3 1 5 1-11 1 10 1-12 1 15 1-19 1 23 1-12 1 4 1-11 1 14 1-14 1 4 1-17 1 16 1-14 1 26 1-11 1 22 1-13 1 15 1-10 1 12 1-23 1 9 1-10 1 14 1-8 1 6 1-10 1 23 1-16 1 3 1-13 1 6 1-12 1 31 1-7 1 15 1-18 1 10 1-15 1 16 1-16 1 5 1-15 1 7 1-11 1 9 1-5 1 20 1-18 1 17 1-17 1 1 1-3 1 26 1-23 1 14 1-16 1 15 1-24 1 14 1-7 1 22 1-8 1 9 1-7 1 7 1-4 1 1 1-18 1 1 1-4 1 4 1-4 1 17 1-6 1 6 1-15 1 12 1-17 1 14 1-8 1 8 1-4 1 10 1-12 1 8 1 0 1 7 1-14 1 3 1-6 1 11 1-18 1 6 1-4 1 6 1-21 1 15 1 0 1 6 1-13 1 15 1-4 1 1 1-8 1 24 1-14 1 9 1-10 1 16 1-9 1 1 1-22 1 19 1-7 1 22 1-18 1 6 1-12 1 9 1-8 1 0 1-13 1 7 1-5 1 19 1-7 1 15 1-21 1 26 1-12 1 8 1-4 1 3 1-7 1 7 1-5 1 7 1-18 1 16 1-14 1 9 1-19 1 7 1-4 1 18 1-10 1 6 1-2 1 11 1-5 1 6 1-10 1 16 1 0 1 5 1-23 1 2 1-16 1 18 1-9 1 16 1-6 1 8 1-3 1 5 1-18 1 6 1-11 1 9 1-4 1 8 1-2 1 17 1-6 1 9 1-16 1 9 1-20 1 15 1 0 1 11 1-21 1 3 1-17 1 17 1-10 1 13 1-13 1 10 1-3 1 9 1-17 1 20 1-10 1 2 1-15 1 8 1-4 1 13 1-12 1 7 1-16 1 15 1 0 1 6 1-14 1 6 1-9 1 21 1-11 1 0 1-5 1 3 1-2 1 2 1-16 1 19 1-16 1 6 1-8 1 12 1-2 1 7 1-11 1 13 1-17 1 17 1-19 1 16 1-12 1 23 1-9 1 7 1-23 1 38 1-19 1 6 1-13 1 20 1-27 1 1 1-20 1 11 1-8 1 31 1-12 1 10 1-12 1 7 1-7 1 11 1-12 1 12 1-14 1 10 1-7 1 9 1-7 1 22 1-13 1 20 1-11 1 0 1-24 1 14 1-10 1 15 1-20 1 18 1-4 1 3 1-15 1 7 1-3"/>
<path stroke="#D89000" d="M0 -329l1 13 1-1 1 27 1-10 1 2 1-8 1 13 1-5 1 12 1-4 1 3 1-16 1 11 1-15 1 21 1-5 1 8 1-1 1 2 1-20 1 4 1-5 1 20 1-17 1 15 1-9 1 23 1-4 1 4 1-31 1 8 1-4 1 3 1-30 1 10 1-4 1 32 1 0 1 10 1-16 1 8 1-5 1 3 1-9 1 17 1 0 1 10 1-28 1 6 1-14 1 3 1 0 1 9 1-18 1 26 1-14 1 10 1-12 1 2 1-7 1 16 1-1 1 13 1-19 1 3 1-6 1 18 1-27 1 11 1-11 1 19 1-7 1 5 1-14 1 25 1-12 1 1 1-9 1 16 1-7 1 6 1-15 1 11 1-5 1 15 1-8 1 24 1-18 1 5 1-2 1 11 1-26 1 16 1-10 1 8 1-13 1 5 1-12 1 12 1-7 1 14 1-8 1 17 1-15 1 16 1-13 1 7 1-18 1 16 1-18 1 9 1-11 1 9 1-4 1 16 1-5 1 8 1-9 1 6 1-21 1 10 1-5 1 4 1-8 1 7 1-2 1 15 1-19 1 11 1-19 1 6 1 0 1 11 1-20 1 7 1-6 1 14 1-17 1 18 1-4 1 6 1-15 1 16 1-2 1 5 1-15 1 16 1-12 1 20 1 0 1 6 1-35 1 10 1-2 1 10 1-15 1 8 1-1 1 13 1-4 1 5 1-25 1 13 1-8 1 9 1-4 1 14 1-6 1 0 1-21 1 25 1-13 1 9 1-6 1 12 1-1 1 13 1-8 1 23 1-27 1 2 1-4 1 7 1-1 1 10 1-15 1 13 1-12 1 5 1-16 1 0 1-13 1 30 1-7 1 11 1-21 1 21 1-23 1 20 1-14 1 14 1-9 1 5 1-22 1 5 1-7 1 16 1-5 1 4 1-7 1 22 1-9 1 1 1-16 1 17 1-14 1 7 1-7 1 11 1-8 1 8 1-23 1 10 1-15 1 13 1-8 1 20 1-2 1 13 1-1 1 6 1-13 1 2 1-18 1 4 1-5 1 20 1-11 1 11 1-26 1 21 1-10 1 16 1-9 1 14 1-16 1 9 1-20 1 8 1-14 1 23 1-12 1 9 1-5 1 2 1-6 1 13 1-7 1 12 1-6 1 23 1-26 1 18 1-15 1 0 1-20 1 13 1-7 1 1 1-11 1 26 1-2 1 3 1-9 1 6 1-1 1 8 1-9 1 9 1-19 1 0 1-10 1 16 1-2 1 2 1-14 1 9 1 0 1 2 1-9 1 14 1-15 1 16 1-7 1 5 1-6 1 8 1-21 1 28 1-11 1 6 1-7 1 20 1-7 1 0 1-24 1 6 1-13 1 20 1-2 1 10 1-17 1 19 1-8 1 10 1-10 1 6 1-11 1 10 1-19 1 9 1-1 1 13 1-9 1 5 1-17 1 11 1-15 1 7 1-18 1 19 1-12 1 15 1-15 1 16 1-6 1 16 1-8 1 8 1-13 1 25 1-2 1 6 1-23 1 4 1-27 1 30 1-4 1 23 1-16 1 6 1-15 1 8 1-18 1 13 1 0 1 16 1-19 1 14 1-7 1 15 1-19 1 10 1-27 1 20 1-9 1 22 1-16 1 10 1-17 1 9 1-14 1 3 1-12 1 19 1-10 1 13 1-19 1 9 1-8 1 15 1-15 1 12 1-10 1 8 1-20 1 16 1-2 1 9 1-12 1 13 1-4 1 18 1-17 1 24 1-9 1 8 1-9 1 5 1-21 1 12 1 0 1 2 1-5 1 2 1-3 1 11 1-17 1 5 1-10 1 7 1-8 1 15 1-3 1 5 1-18 1 20 1-10 1 15 1-6 1 11 1-25 1 15 1-21 1 20 1-7 1 3 1-4 1 0 1-3 1 2 1-7 1 8 1-13 1 22 1-12 1 11 1-19 1 12 1-11 1 12 1 0 1 9 1-16 1 8 1-7 1 14 1-13 1 6 1-1 1 10 1-19 1 17 1-5 1 6 1-23 1 12 1-9 1 14 1-15 1 19 1-2 1 11 1-15 1 7 1-7 1 5 1-16 1 12 1-15 1 14 1-8 1 4 1-16 1 10 1-5 1 16 1-13 1 3 1-13 1 16 1-16 1 14 1-7 1 8 1-18 1 22 1-6 1 9 1-21 1 29 1-3 1 0 1-17 1 18 1-21 1 7 1-22 1 5 1-7 1 265 1-128 1 0 1-72 1 0 1-31 1 2 1-16 1 14 1-5 1 0 1-13 1 11 1-11 1 10 1-14 1 7 1-4 1 15 1-2 1 21 1-13 1 10 1-24 1 13 1-20 1 2 1-11 1 12 1-20 1 22 1-10 1 17 1-9 1 13 1-9 1 16 1-12 1 2 1-18 1 8 1 0 1 12 1-14 1 8 1-12 1 15 1-8 1 7 1-8 1 23 1-9 1 6 1-12 1 9 1-2 1 0 1-21 1 17 1-16 1 22 1-3 1 5 1-10 1 14 1-27 1 5 1-11 1 12 1-8 1 16 1-7 1 18 1-8 1 10 1-9 1 4 1-11 1 0 1 0 1 11 1-18 1 19 1-5 1 7 1-26 1 9 1-6 1 10 1-15 1 27 1-7 1 14 1-23 1 4 1-6 1 12 1-5 1 12 1-7 1 9 1-2 1 7 1-12 1 20 1-18 1 0 1-21 1 18 1-8 1 7 1-13 1 10 1-13 1 15 1-14 1 30 1-16 1 3 1-10 1 11 1-9 1 10 1-25 1 17 1-2 1 13 1-8 1 0 1-10 1 12 1-15 1 6 1-11 1 12 1-14 1 9 1-13 1 4 1-7 1 16 1-13 1 15 1-5 1 13 1-11 1 21 1-21 1 27 1-10 1 4 1-10 1 1 1-22 1 38 1-23 1 8 1-8 1 19 1-16 1 4 1-15 1 4 1-4 1 11 1-5 1 6 1-15 1 10 1-4 1 17 1-3 1 12 1-28 1 15 1-11 1 17 1-12 1 8 1-5 1 6 1-14 1 8 1 0 1 13 1-14 1 21 1-2 1 15 1-31 1 6 1-19 1 15 1-9 1 18 1-17 1 4 1-15 1 11 1-11 1 15 1-14 1 8 1-13 1 19 1-11 1 8 1-17 1 19 1-10 1 13 1-4 1 18 1-11 1 0 1-18 1 18 1-11 1 11 1-9 1 15 1-12 1 6 1-10 1 19 1-8 1 12 1-13 1 8 1-22 1 8 1-12 1 13 1-11 1 17 1-15 1 9 1-10 1 11 1-14 1 18 1-9 1 11 1-9 1 5 1-4 1 7 1-15 1 12 1-9 1 10 1-11 1 18 1-20 1 12 1-23 1 17 1-7 1 13 1-15 1 12 1-12 1 18 1-22 1 9 1-13 1 17 1-14 1 27 1-7 1 3 1-14 1 15 1-3 1 9 1-24 1 9 1-10 1 13 1-17 1 14 1-5 1 7 1-13 1 25 1-11 1 9 1-10 1 9 1-7 1 10 1-6 1 1 1-8 1 11 1-16 1 14 1-12 1 35 1-17 1 0 1-11 1 16 1-19 1 15 1-15 1 6 1-7 1 2 1-8 1 14 1-15 1 12 1-17 1 16 1-4 1 12 1-21 1 7 1-25 1 25 1 0 1 13 1-11 1 9 1-13 1 10 1-13 1 0 1-2 1 6 1-6 1 14 1 0 1 0 1-6 1 8 1-12 1 12 1-13 1 5 1-12 1 16 1-16 1 15 1-9 1 15 1-20 1 8 1-3 1 11 1-15 1 9 1-6 1 22 1-5 1 10 1-19 1 2 1-7 1 24 1-14 1 5 1-6 1 17 1-24 1 3 1-19 1 20 1-8 1 9 1 0 1 12 1-5 1 20 1-12 1 2 1-20 1 10 1-17 1 12 1-13 1 11 1-3 1 10 1-4 1 7 1-15 1 17 1-7 1 11 1-13 1 19 1-12 1 4 1-12 1 6 1-22 1 20 1-20 1 7 1-7 1 4 1-5 1 10 1-13 1 18 1-10 1 14 1-13 1 9 1-9 1 2 1-4 1 13 1-12 1 8 1-1 1 17 1-8 1 5 1-18 1 5 1-15 1 4 1-9 1 19 1-15 1 19 1-13 1 12 1-11 1 22 1-12 1 3 1-15 1 18 1-20 1 15 1-5 1 12 1-18 1 13 1-6 1 9 1-28 1 27 1-5 1 7 1-16 1 16 1-12 1 14 1-11 1 10 1-28 1 28 1-13 1 16 1-16 1 11 1-15 1 10 1-16 1 0 1-8 1 28 1-12 1 18 1-7 1 1 1-3 1 6 1-15 1 0 1-11 1 17 1-6 1 11 1-15 1 13 1-4 1 7 1-9 1 16 1-11 1 14 1-21 1 3 1-7 1 14 1-15 1 11 1-9 1 5 1-14 1 19 1-6 1 11 1-9"/>
<path stroke="#A3A500" d="M0 -329l1 25 1 0 1 22 1-22 1 10 1-1 1 14 1-20 1 5 1 0 1 10 1-8 1 8 1-19 1 3 1-11 1 20 1-17 1 0 1-6 1 13 1-1 1 9 1-5 1 9 1-3 1 5 1-13 1 3 1-10 1 9 1-9 1 18 1 0 1 20 1-5 1 5 1-19 1 7 1-9 1 15 1-12 1 6 1-8 1 20 1-11 1 8 1-14 1 15 1-4 1 1 1-9 1 4 1-22 1 15 1-9 1 16 1-11 1 12 1-11 1 1 1-11 1 18 1-18 1 2 1-14 1 13 1-17 1 26 1-16 1 8 1-2 1 19 1-26 1 26 1-12 1 15 1-8 1 6 1-31 1 13 1-14 1 32 1-15 1 13 1-15 1 16 1-14 1 8 1-10 1 21 1-4 1 14 1-34 1 27 1-6 1 7 1-22 1 12 1-13 1 2 1-13 1 9 1-11 1 5 1-5 1 22 1-21 1 15 1-6 1 11 1-24 1 11 1-16 1 6 1-9 1 17 1-7 1 16 1-4 1 7 1-15 1 12 1-13 1 11 1-9 1 20 1-9 1 4 1-13 1 20 1-18 1 13 1-17 1 12 1-17 1 23 1-4 1 17 1-9 1 3 1-15 1 12 1-15 1 13 1-7 1 13 1-18 1 3 1-8 1 22 1-6 1 12 1-11 1 11 1-11 1 4 1-12 1 0 1-7 1 8 1-18 1 8 1-3 1 15 1-3 1 14 1-4 1 0 1-12 1 4 1-11 1 14 1-18 1 8 1-2 1 17 1-18 1 8 1-8 1 12 1-12 1 19 1-5 1 0 1-13 1 19 1-28 1 26 1-15 1 5 1-11 1 15 1-11 1 20 1-4 1 2 1-4 1 7 1-7 1 7 1-15 1 14 1-16 1 6 1-13 1 10 1-1 1 9 1-9 1 11 1-13 1 22 1-19 1 4 1-20 1 6 1-5 1 21 1-11 1 9 1-4 1 20 1-10 1 2 1-15 1 17 1-8 1 4 1-5 1 2 1-22 1 28 1-10 1 0 1-12 1 2 1-6 1 11 1-7 1 13 1-3 1 6 1-3 1 5 1-17 1 16 1-19 1 24 1-8 1 13 1-19 1 15 1-16 1 20 1-15 1 9 1-20 1 17 1-18 1 15 1-12 1 5 1-5 1 10 1-12 1 6 1-26 1 16 1-13 1 18 1-6 1 9 1-1 1 24 1-27 1 1 1-12 1 13 1-3 1 20 1-12 1 9 1-14 1 18 1-12 1 9 1-21 1 3 1-1 1 15 1-3 1 16 1-11 1 1 1-16 1 8 1-15 1 5 1-1 1 13 1-4 1 8 1-8 1 18 1-16 1 13 1-14 1 9 1-13 1 17 1 0 1 22 1-20 1 5 1-13 1 3 1-23 1 4 1-3 1 26 1-18 1 4 1-7 1 14 1-9 1 19 1-14 1 3 1-20 1 8 1-11 1 15 1-6 1 16 1-15 1 2 1-13 1 28 1-1 1 10 1-21 1 15 1-18 1 16 1 0 1 0 1-16 1 3 1-11 1 21 1 0 1 15 1-22 1 8 1-8 1 3 1-6 1 4 1-28 1 9 1-5 1 8 1-14 1 9 1-11 1 31 1-7 1 4 1-21 1 13 1-5 1 24 1-6 1 7 1-26 1 18 1-12 1 13 1-12 1 12 1-1 1 16 1-12 1 7 1-17 1 14 1-8 1 16 1-20 1 16 1-17 1 0 1-9 1 31 1-12 1 9 1-9 1 8 1-7 1 9 1-19 1 20 1-6 1 4 1-21 1 6 1-1 1 13 1-16 1 14 1-20 1 16 1-18 1 24 1-6 1 11 1-10 1 2 1-26 1 7 1-7 1 15 1-2 1 9 1-3 1 24 1-23 1 9 1-2 1 0 1-24 1 20 1-20 1 22 1-25 1 17 1-7 1 5 1-6 1 15 1-5 1 17 1-7 1 3 1-15 1 10 1-12 1 11 1-3 1 9 1-11 1 1 1-5 1 9 1-10 1 23 1-8 1 8 1-23 1 10 1-9 1 6 1-8 1 12 1-16 1 4 1-5 1 20 1-17 1 4 1-12 1 8 1-5 1 18 1-7 1 11 1-6 1 14 1-15 1 6 1-17 1 10 1-9 1 7 1-10 1 14 1-12 1 1 1-7 1 17 1-7 1 9 1-10 1 1 1-4 1 3 1-15 1 8 1-16 1 272 1-125 1 0 1-73 1 0 1-30 1 1 1-11 1 8 1-6 1 10 1-25 1 7 1-4 1 15 1-11 1 3 1-15 1 6 1-10 1 9 1-18 1 16 1 0 1 22 1-13 1 11 1-15 1 7 1-9 1 4 1-13 1 17 1-5 1 8 1-21 1 23 1-22 1 11 1-9 1 3 1-3 1 8 1-3 1 7 1-17 1 6 1-8 1 6 1-13 1 8 1-2 1 14 1-13 1 30 1-18 1 0 1-4 1 11 1-23 1 23 1-4 1 1 1-18 1 7 1 0 1 10 1-13 1 23 1-15 1 15 1-20 1 5 1-6 1 1 1-13 1 36 1-13 1 3 1-23 1 7 1-3 1 16 1-19 1 21 1-12 1 6 1 0 1 11 1 0 1 17 1-11 1 5 1-18 1 3 1-4 1 7 1-7 1 17 1-11 1 18 1-5 1 8 1-23 1 10 1-14 1 9 1-14 1 29 1-16 1 7 1 0 1 12 1-20 1 9 1-12 1 9 1-20 1 0 1-2 1 29 1-4 1 4 1-22 1 6 1-11 1 27 1-24 1 10 1-12 1 10 1-23 1 20 1-11 1 20 1-7 1 13 1-16 1 9 1-9 1 8 1-10 1 21 1-23 1 11 1-13 1 6 1-18 1 5 1-4 1 33 1-12 1 6 1-14 1 11 1-5 1 3 1-2 1 19 1-11 1 7 1-25 1 1 1-1 1 7 1-15 1 26 1-6 1 15 1-22 1 9 1-9 1 12 1-21 1 16 1-1 1 11 1-3 1 17 1-10 1 5 1-28 1 16 1 0 1 5 1-22 1 26 1-11 1 0 1-12 1 10 1-2 1 13 1-21 1 21 1-6 1 8 1-6 1 12 1-18 1 9 1-27 1 14 1-5 1 23 1 0 1 3 1-16 1 8 1-7 1 4 1-17 1 16 1-10 1 3 1 0 1 6 1-12 1 9 1-3 1 15 1-24 1 12 1-9 1 13 1-4 1 15 1-27 1 14 1-14 1 8 1-3 1 8 1-5 1 8 1-16 1 7 1-17 1 21 1-6 1 10 1-28 1 9 1-4 1 14 1-13 1 13 1-11 1 9 1-8 1 15 1-13 1 8 1-15 1 18 1-8 1 5 1-10 1 23 1-15 1 24 1-19 1 9 1-32 1 8 1-3 1 15 1-9 1 9 1-12 1 35 1-5 1 0 1-15 1 3 1-11 1 16 1-23 1 8 1-12 1 5 1 0 1 22 1-16 1 7 1-1 1 4 1-22 1 28 1-1 1 2 1-11 1 6 1-6 1 5 1-11 1 13 1-3 1 2 1-17 1 15 1-10 1 16 1-13 1 10 1-14 1 9 1-17 1 11 1-9 1 18 1-1 1 4 1-3 1 11 1-25 1 5 1-11 1 3 1-5 1 8 1-7 1 11 1-3 1 15 1-11 1 20 1-22 1 1 1-16 1 12 1-13 1 25 1-30 1 11 1-13 1 25 1-11 1 4 1-7 1 24 1-9 1 2 1-8 1 17 1-2 1 1 1-17 1 5 1-8 1 13 1-14 1 1 1-14 1 6 1 0 1 28 1-13 1 4 1-19 1 14 1-3 1 2 1-6 1 10 1-9 1 22 1-16 1 4 1-4 1 20 1-18 1 5 1-5 1 5 1-18 1 19 1-7 1 2 1-15 1 18 1-14 1 19 1 0 1 11 1-24 1 21 1-2 1 0 1-20 1 6 1-1 1 14 1-9 1 15 1-24 1 11 1-10 1 17 1-13 1 14 1-18 1 9 1-10 1 6 1-10 1 12 1-11 1 3 1-2 1 20 1-1 1 3 1-13 1 7 1-24 1 35 1-13 1 1 1-23 1 0 1-9 1 25 1 0 1 17 1-27 1 7 1-8 1 11 1-7 1 11 1-14 1 20 1-21 1 9 1-8 1 19 1-4 1 16 1-11 1 3 1-15 1 13 1-9 1 10 1-22 1 19 1-13 1 7 1-8 1 21 1-15 1 13 1-15 1 7 1-9 1 3 1-18 1 25 1-1 1 1 1-8 1 11 1-13 1 12 1-29 1 21 1-26 1 13 1 0 1 21 1-11 1 14 1-9 1 4 1-22 1 11 1-8 1 12 1-15 1 14 1-19 1 7 1-9 1 7 1-1 1 13 1-6 1 15 1-7 1 5 1-9 1 2 1-15 1 8 1-17 1 20 1-13 1 13 1-7"/>
<path stroke="#39B600" d="M0 -329l1 10 1-2 1 21 1-3 1 16 1-17 1 9 1-9 1 14 1-5 1 7 1-16 1 21 1-10 1 13 1-12 1 8 1-20 1 15 1-20 1 7 1-9 1 6 1-24 1 15 1-10 1 20 1 0 1 19 1-14 1 9 1-20 1 19 1-17 1 6 1-9 1 16 1-4 1 22 1-21 1 13 1-6 1 4 1-9 1 0 1-17 1 19 1-1 1 21 1-12 1 3 1-22 1 11 1-12 1 16 1-8 1 12 1 0 1 14 1-25 1 14 1-1 1 17 1-13 1 1 1-17 1 5 1-6 1 15 1-22 1 6 1-4 1 21 1-11 1 4 1-8 1 11 1-19 1 12 1-8 1 13 1-16 1 16 1-1 1 11 1-3 1 8 1-18 1 11 1-7 1 3 1-8 1 13 1-18 1 14 1-9 1 15 1-19 1 12 1-4 1 0 1-21 1 13 1 0 1 11 1-8 1 9 1-11 1 11 1-14 1 5 1-14 1 14 1-8 1 7 1-14 1 15 1-2 1 6 1-7 1 6 1-15 1 21 1-11 1 6 1-13 1 19 1-11 1 11 1-2 1 6 1-21 1 16 1 0 1 7 1-5 1 8 1-21 1 10 1-2 1 23 1-6 1 3 1-17 1 7 1-17 1 22 1-7 1 1 1-23 1 13 1-21 1 14 1-15 1 9 1-6 1 14 1-12 1 31 1-18 1 8 1-31 1 14 1-5 1 17 1-6 1 13 1-11 1 2 1-9 1 14 1-8 1 5 1-10 1 25 1-17 1 7 1-8 1 3 1-6 1 22 1-18 1 0 1-3 1 12 1-14 1 14 1-16 1 12 1-33 1 16 1-8 1 15 1-7 1 14 1-11 1 19 1-20 1 8 1-6 1 10 1-1 1 17 1-15 1 9 1-11 1 9 1-15 1 15 1-2 1 1 1-20 1 27 1-23 1 6 1-7 1 22 1-9 1 13 1-12 1 6 1-13 1 16 1-4 1 11 1-11 1 5 1-9 1 4 1-17 1 5 1-8 1 6 1-4 1 10 1-6 1 7 1-5 1 6 1-16 1 14 1-14 1 6 1-8 1 23 1-12 1 11 1-8 1 7 1-12 1 21 1-20 1 20 1-6 1 5 1-9 1 8 1-14 1 9 1-17 1 10 1-6 1 14 1-25 1 11 1-18 1 11 1-1 1 5 1-14 1 16 1-3 1 4 1-7 1 5 1-1 1 10 1-16 1 16 1-17 1 15 1-21 1 5 1-5 1 19 1-13 1 20 1-9 1 14 1-9 1 1 1-12 1 5 1-5 1 6 1-7 1 7 1-4 1 12 1-20 1 6 1-10 1 26 1-5 1 4 1-11 1 16 1-16 1 12 1-7 1 9 1-15 1 5 1-5 1 8 1-22 1 15 1-10 1 10 1-2 1 17 1-12 1 16 1-19 1 5 1-8 1 6 1-8 1 6 1-12 1 19 1-5 1 15 1-22 1 7 1-7 1 4 1-8 1 3 1-14 1 12 1-13 1 29 1-13 1 10 1-3 1 8 1-7 1 15 1-18 1 11 1-16 1 18 1-2 1 4 1-12 1 12 1-30 1 5 1-3 1 4 1-6 1 21 1-20 1 10 1-12 1 22 1-3 1 8 1-10 1 20 1-17 1 5 1-28 1 12 1-21 1 14 1-7 1 8 1-11 1 35 1-14 1 1 1-10 1 23 1-23 1 10 1-5 1 20 1-13 1 15 1-13 1 12 1-4 1 6 1-18 1 10 1-13 1 16 1-10 1 6 1-8 1 2 1-6 1 9 1-4 1 17 1-12 1 7 1-17 1 5 1-14 1 16 1 0 1 11 1-4 1 7 1-14 1 14 1-20 1 13 1-27 1 11 1-3 1 15 1-15 1 7 1-13 1 9 1-6 1 32 1-14 1 6 1-12 1 9 1-6 1 9 1-17 1 25 1-13 1 5 1-10 1 16 1-3 1 6 1-31 1 3 1-10 1 18 1-3 1 31 1-15 1 2 1-23 1 9 1-13 1 17 1-22 1 12 1-8 1 11 1-5 1 15 1-11 1 17 1-20 1 17 1-12 1 2 1-15 1 8 1-1 1 14 1-9 1 13 1-9 1 11 1-24 1 6 1-14 1 4 1-9 1 15 1-10 1 16 1-15 1 14 1-8 1 18 1-18 1 8 1-4 1 12 1 0 1 4 1-23 1 11 1-9 1 4 1-4 1 255 1-125 1 0 1-76 1 2 1-14 1 4 1-25 1 0 1-11 1 17 1-15 1 12 1-14 1 7 1-10 1 12 1-22 1 12 1-12 1 15 1-10 1 5 1-10 1 16 1-7 1 22 1-13 1 10 1-17 1 4 1-5 1 6 1-17 1 14 1-6 1 13 1-8 1 10 1-3 1 11 1-10 1 10 1-14 1 12 1-8 1 5 1-11 1 12 1-11 1 5 1-25 1 11 1-3 1 11 1-6 1 12 1-23 1 17 1-2 1 17 1-13 1 7 1-16 1 9 1-8 1 10 1-13 1 2 1-1 1 23 1-12 1 11 1-7 1 13 1-9 1 16 1-15 1 0 1-10 1 16 1-21 1 12 1-6 1 9 1-13 1 19 1-15 1 2 1-22 1 12 1-11 1 16 1-10 1 3 1-5 1 22 1-34 1 21 1-3 1 9 1-24 1 11 1 0 1 19 1-9 1 14 1-18 1 9 1-6 1 16 1-13 1 18 1-12 1 9 1-16 1 13 1-18 1 5 1-11 1 12 1-2 1 18 1-10 1 7 1-19 1 14 1-17 1 10 1-7 1 10 1-10 1 17 1-1 1 13 1-20 1 3 1-14 1 21 1-9 1 3 1-25 1 6 1 0 1 15 1-23 1 26 1-2 1 9 1-14 1 15 1-11 1 9 1-30 1 27 1-8 1 14 1-17 1 29 1-6 1 6 1-22 1 0 1-1 1 6 1-8 1 24 1-19 1 5 1-11 1 10 1-11 1 13 1-19 1 7 1-13 1 8 1-4 1 0 1-11 1 25 1-17 1 15 1-21 1 8 1 0 1 13 1-4 1 10 1-14 1 5 1-5 1 4 1-13 1 13 1-12 1 8 1-20 1 13 1-6 1 18 1-13 1 7 1-6 1 8 1-4 1 22 1-20 1 14 1-14 1 15 1-18 1 8 1-18 1 9 1-1 1 25 1-15 1 0 1-12 1 12 1-9 1 3 1-10 1 14 1-13 1 3 1-6 1 5 1-7 1 24 1-9 1 18 1-19 1 15 1-17 1 3 1-12 1 12 1-10 1 7 1-10 1 22 1-2 1 13 1-13 1 9 1-16 1 6 1-14 1 19 1-3 1 17 1-12 1 17 1-12 1 2 1-12 1 7 1-10 1 7 1-5 1 10 1-7 1 9 1-12 1 5 1 0 1 17 1-10 1 1 1-23 1 11 1-11 1 18 1-5 1 3 1-4 1 26 1-24 1 5 1-16 1 20 1-7 1 9 1-14 1 17 1-12 1 7 1-16 1 17 1-7 1 0 1-13 1 8 1-15 1 14 1-13 1 10 1-9 1 14 1-12 1 12 1-4 1 16 1-14 1 12 1-20 1 3 1-16 1 7 1-6 1 10 1-23 1 33 1-3 1 10 1-13 1 1 1-6 1 7 1-1 1 15 1-13 1 2 1-10 1 20 1-1 1 12 1-8 1 6 1-19 1 4 1-4 1 11 1-22 1 19 1-5 1 11 1-19 1 3 1-4 1 3 1-10 1 11 1-11 1 6 1-2 1 24 1-16 1 10 1-14 1 9 1-15 1 3 1-11 1 3 1-13 1 21 1-2 1 28 1-11 1 3 1-12 1 1 1-14 1 12 1-15 1 16 1-14 1 18 1-7 1 5 1-22 1 17 1-4 1 11 1-9 1 13 1-5 1 19 1-14 1 6 1-21 1 12 1-7 1 23 1-13 1 8 1-4 1 9 1-16 1 13 1-20 1 5 1-7 1 7 1-8 1 15 1-7 1 14 1-29 1 6 1-12 1 11 1-10 1 25 1-5 1 20 1-17 1 8 1-12 1 12 1-18 1 8 1-4 1 9 1-10 1 19 1-8 1 14 1-17 1 5 1-3 1 8 1-10 1 1 1-10 1 2 1-15 1 9 1-11 1 12 1-10 1 14 1-12 1 16 1-8 1 4 1-13 1 15 1-6 1 13 1-7 1 14 1-13 1 7 1 0 1 4 1-25 1 9 1-6 1 12 1-10 1 15 1-18 1 18 1-14 1 12 1-4 1 10 1-5 1 18 1-5 1 2 1-18 1 8 1-6 1 7 1-29 1 12 1-5 1 12 1 0 1 6 1-20 1 17 1-10 1 8 1-13 1 17 1-6 1 5 1-3 1 7 1-15 1 10 1-16 1 4 1-6 1 26 1-14 1 6 1-12 1 13 1-12 1 9 1-6 1 5 1-26"/>
<path stroke="#00BF7D" d="M0 -329l1 23 1-8 1 14 1 0 1 29 1-22 1 0 1-20 1 15 1-3 1 2 1-8 1 31 1-9 1 6 1-13 1 19 1-15 1 10 1-8 1 3 1-1 1 8 1-28 1 33 1-10 1 5 1-15 1 4 1-15 1 6 1-5 1 7 1-10 1 17 1-19 1 17 1-1 1 17 1-21 1 0 1-3 1 2 1-7 1 22 1-9 1 3 1-11 1 12 1-14 1 15 1-7 1 12 1-14 1 11 1-16 1 17 1-17 1 16 1-14 1 14 1-5 1 6 1-10 1 1 1-19 1 15 1-12 1 18 1-7 1 19 1-13 1 0 1-10 1 13 1-13 1 2 1-3 1 21 1-13 1 2 1-30 1 12 1-3 1 15 1-11 1 3 1-11 1 17 1-7 1 21 1-1 1 15 1-32 1 11 1-11 1 22 1-17 1 7 1-18 1 17 1-1 1 6 1-1 1 10 1-6 1 5 1-2 1 0 1-22 1 12 1-24 1 12 1-7 1 12 1-13 1 23 1-7 1 7 1-10 1 18 1-4 1 21 1-29 1 8 1-20 1 10 1-5 1 21 1-15 1 6 1-3 1 3 1-19 1 11 1-12 1 14 1-8 1 11 1-15 1 10 1-15 1 12 1-4 1 11 1-5 1 19 1-27 1 18 1-14 1 13 1-7 1 3 1-14 1 13 1-21 1 14 1 0 1 6 1-14 1 19 1-16 1 10 1-10 1 10 1-3 1 0 1-15 1 12 1-7 1 10 1-8 1 6 1-17 1 23 1-10 1 8 1-10 1 17 1-6 1 4 1-9 1 9 1-7 1 18 1-11 1 1 1-11 1 8 1-22 1 12 1-5 1 29 1-20 1 17 1-17 1 14 1-3 1 11 1-14 1 26 1-24 1 3 1-17 1 8 1-12 1 7 1-14 1 12 1-4 1 19 1-19 1 11 1-12 1 7 1-7 1 13 1-13 1 18 1-4 1 7 1-14 1 8 1-17 1 13 1-12 1 12 1-8 1 12 1-9 1 14 1-2 1 10 1-12 1 17 1-18 1 15 1-24 1 23 1-14 1 10 1-11 1 6 1-19 1 7 1-10 1 12 1-3 1 17 1-15 1 6 1-8 1 2 1-4 1 11 1-19 1 9 1-13 1 6 1-5 1 5 1 0 1 9 1-4 1 12 1-9 1 3 1-9 1 11 1-8 1 15 1-14 1 4 1-6 1 18 1-22 1 18 1-7 1 4 1-8 1 0 1-21 1 22 1-5 1 9 1-16 1 10 1-14 1 25 1-11 1 6 1-12 1 13 1-26 1 12 1-7 1 18 1-16 1 8 1-8 1 11 1-13 1 22 1-6 1 13 1-18 1 19 1-7 1 13 1-10 1 20 1-26 1 3 1-14 1 21 1 0 1 8 1-18 1 2 1-13 1 11 1-8 1 15 1-18 1 9 1-4 1 18 1-19 1 13 1-11 1 22 1-4 1 14 1-17 1 21 1-15 1 4 1-21 1 8 1-16 1 6 1-4 1 8 1-10 1 14 1-8 1 17 1-15 1 2 1-21 1 20 1-7 1 8 1-6 1 17 1-8 1 9 1-3 1 21 1-14 1 5 1-13 1 3 1-14 1 22 1-17 1 8 1-5 1 4 1-16 1 3 1-8 1 16 1-12 1 10 1-11 1 13 1-17 1 12 1-7 1 12 1-17 1 30 1-14 1 9 1-14 1 14 1-14 1 7 1-20 1 18 1-9 1 7 1-12 1 19 1-12 1 9 1-25 1 4 1-2 1 15 1-2 1 8 1-18 1 16 1-13 1 12 1-8 1 15 1-16 1 2 1-2 1 14 1-4 1 10 1-19 1 13 1-9 1 9 1-12 1 14 1-9 1 9 1-4 1 8 1-24 1 15 1-16 1 18 1-5 1 15 1-14 1 7 1-13 1 3 1-7 1 16 1-10 1 2 1-16 1 18 1-9 1 18 1-15 1 25 1-8 1 6 1-20 1 4 1-9 1 13 1-8 1 15 1-7 1 7 1-11 1 2 1-6 1 1 1-15 1 15 1-13 1 29 1-16 1 0 1-10 1 21 1-10 1 7 1-21 1 4 1-5 1 12 1-7 1 8 1-9 1 16 1-4 1 9 1-13 1 10 1-8 1 15 1-8 1 8 1-15 1 11 1-18 1 10 1-30 1 20 1-6 1 11 1-17 1 26 1-9 1 15 1-2 1 8 1-13 1 231 1-117 1 0 1-71 1 0 1-34 1 2 1-28 1 7 1-4 1 20 1-14 1 13 1-19 1 12 1-11 1 17 1-17 1 19 1-15 1 16 1 0 1 14 1-10 1 3 1-16 1 20 1-15 1 4 1-4 1 10 1-24 1 12 1-13 1 12 1-4 1 9 1-24 1 16 1-13 1 15 1 0 1 22 1-11 1 5 1-8 1 6 1-18 1 16 1-8 1 0 1-21 1 4 1-2 1 14 1 0 1 16 1-20 1 3 1-9 1 15 1-5 1 9 1-7 1 12 1-12 1 9 1-2 1 8 1-10 1 6 1-17 1 1 1-12 1 5 1-13 1 15 1-8 1 21 1-15 1 8 1-8 1 2 1-9 1 16 1-4 1 3 1-11 1 6 1-4 1 14 1-8 1 8 1-16 1 8 1-12 1 12 1-5 1 3 1-8 1 28 1-11 1 3 1-16 1 17 1-4 1 17 1-14 1 17 1-22 1 16 1-14 1 4 1-9 1 6 1-14 1 11 1-16 1 12 1-8 1 20 1-5 1 25 1-22 1 0 1-11 1 13 1-29 1 15 1-14 1 0 1-15 1 27 1-15 1 10 1-8 1 24 1-20 1 7 1-1 1 15 1-21 1 23 1-8 1 8 1-26 1 19 1-28 1 21 1-2 1 16 1-10 1 3 1-9 1 13 1-9 1 0 1-13 1 16 1 0 1 12 1-18 1 12 1-11 1 22 1-12 1 14 1-7 1 2 1-20 1 17 1-11 1 5 1-16 1 15 1-11 1 1 1-19 1 9 1-9 1 7 1-6 1 34 1-16 1 13 1-17 1 10 1-8 1 19 1-9 1 6 1-8 1 8 1-20 1 16 1-4 1 8 1-4 1 8 1-14 1 7 1-4 1 5 1-10 1 15 1-6 1 3 1-2 1 3 1-5 1 3 1-20 1 0 1-1 1 17 1-23 1 11 1-3 1 24 1-16 1 15 1-12 1 0 1-11 1 14 1-17 1 11 1-9 1 13 1 0 1 17 1-27 1 14 1-4 1 11 1-6 1 17 1-22 1 3 1-9 1 5 1-4 1 10 1-4 1 11 1-18 1 14 1-27 1 27 1-15 1 0 1-12 1 12 1-5 1 12 1-1 1 21 1-23 1 5 1-8 1 1 1-12 1 8 1-9 1 11 1-6 1 12 1-1 1 12 1-13 1 14 1-14 1 16 1-2 1 9 1-27 1 10 1-2 1 12 1-16 1 2 1-10 1 10 1-9 1 4 1-21 1 17 1 0 1 26 1-11 1 3 1-8 1 12 1-12 1 7 1-21 1 16 1-11 1 5 1-10 1 10 1-6 1 17 1-3 1 11 1-21 1 20 1-9 1 8 1-7 1 6 1-10 1 19 1-21 1 17 1-13 1 9 1-15 1 5 1-13 1 10 1-4 1 5 1-11 1 17 1-10 1 15 1-30 1 13 1-8 1 2 1-12 1 29 1-11 1 6 1-8 1 0 1-6 1 10 1-12 1 16 1-4 1 7 1-13 1 26 1-5 1 8 1-18 1 12 1-6 1 17 1-25 1 6 1-13 1 21 1-13 1 28 1-9 1 3 1-21 1 11 1-9 1 18 1-31 1 13 1-9 1 2 1-11 1 12 1-7 1 14 1-8 1 14 1-21 1 13 1-2 1 14 1-13 1 10 1-6 1 15 1-25 1 0 1-4 1 13 1-23 1 20 1-13 1 7 1-9 1 17 1-13 1 8 1-10 1 16 1-8 1 13 1-18 1 0 1-10 1 16 1-7 1 17 1-8 1 11 1-15 1 14 1-10 1 12 1-12 1 11 1-2 1 6 1-12 1 13 1-25 1 6 1-5 1 14 1-7 1 6 1-19 1 1 1-5 1 18 1-17 1 15 1-9 1 15 1-10 1 13 1-19 1 20 1-9 1 5 1-3 1 20 1-17 1 20 1-13 1 13 1-10 1 11 1-6 1 1 1-20 1 18 1-19 1 13 1-13 1 17 1-30 1 0 1-3 1 18 1-11 1 5 1 0 1 20 1-12 1 11 1-12 1 5 1-9 1 14 1-3 1 7 1-17 1 10 1-2 1 15 1-27 1 6 1-13 1 5 1-8 1 23 1-13 1 12 1-18 1 20 1-13 1 17 1-6 1 12 1-16 1 4 1-10 1 14 1-5 1 4 1-16 1 7 1-10 1 15 1-5 1 2 1-12 1 19 1-6"/>
<path stroke="#00BFC4" d="M0 -329l1 20 1-3 1 24 1 0 1 12 1-17 1 9 1-24 1 7 1-14 1 23 1-7 1 8 1-14 1 20 1-7 1 16 1-16 1 10 1-14 1 0 1-6 1 26 1-7 1 13 1-6 1 2 1-33 1 5 1-4 1 20 1-7 1 7 1 0 1 21 1-17 1 1 1-17 1 14 1-9 1 2 1-4 1 21 1-25 1 17 1-17 1 3 1-9 1 6 1-4 1 21 1-22 1 3 1-9 1 13 1-9 1 17 1-5 1 7 1-5 1 10 1-12 1 10 1-11 1 12 1-24 1 8 1-17 1 22 1-10 1 0 1-2 1 16 1-13 1 20 1-1 1 3 1-12 1 5 1-24 1 17 1-7 1 13 1-11 1 11 1-11 1 13 1-6 1 0 1-5 1 9 1-17 1 8 1-3 1 17 1-13 1 12 1-14 1 13 1-9 1 14 1-20 1 8 1-6 1 6 1-21 1 18 1-8 1 13 1-17 1 15 1-13 1 18 1-6 1 13 1-10 1 4 1-6 1 12 1-10 1 6 1-29 1 12 1-1 1 21 1-5 1 4 1-16 1 6 1-15 1 20 1-3 1 3 1-12 1 7 1-3 1 13 1-17 1 18 1-7 1 9 1-12 1 3 1-17 1 24 1-6 1 8 1-17 1 16 1-9 1 4 1-3 1 20 1-4 1 8 1-19 1 10 1-8 1 7 1-22 1 9 1-13 1 3 1-9 1 14 1-11 1 11 1-21 1 28 1-17 1 7 1-1 1 10 1-3 1 14 1-18 1 9 1-8 1 15 1-23 1 0 1-15 1 15 1-8 1 18 1-4 1 4 1-5 1 15 1-3 1 10 1-25 1 5 1-10 1 14 1-5 1 9 1-20 1 13 1-3 1 16 1-10 1 13 1-22 1 9 1-3 1 15 1-20 1 7 1-12 1 15 1-16 1 10 1-11 1 12 1-17 1 6 1-9 1 25 1-9 1 18 1-7 1 9 1-23 1 2 1-23 1 29 1-8 1 17 1-7 1 7 1 0 1 11 1-19 1 4 1-9 1 15 1-9 1 23 1-25 1 9 1-5 1 10 1-15 1 3 1-13 1 7 1-2 1 12 1-14 1 5 1-5 1 16 1-10 1 5 1-9 1 1 1-5 1 7 1-7 1 19 1-18 1 7 1-9 1 14 1-7 1 9 1-12 1 13 1-2 1 11 1-1 1 14 1-26 1 30 1-25 1 7 1-8 1 11 1-2 1 5 1-9 1 7 1-21 1 15 1-21 1 8 1-5 1 16 1-28 1 20 1-3 1 3 1-17 1 25 1-19 1 6 1-9 1 14 1-4 1 3 1-17 1 11 1-10 1 9 1-8 1 9 1-16 1 21 1-3 1 12 1-6 1 6 1-8 1 3 1-5 1 15 1-21 1 1 1-12 1 18 1-6 1 0 1-7 1 18 1-12 1 5 1-3 1 14 1-6 1 12 1-7 1 5 1-3 1 6 1-20 1 3 1-25 1 23 1-9 1 16 1-7 1 18 1-17 1 20 1-15 1 0 1-18 1 18 1-9 1 6 1-8 1 7 1-5 1 5 1-1 1 17 1-8 1 5 1-15 1 8 1-9 1 12 1-1 1 17 1-7 1 1 1-19 1 1 1-10 1 15 1-16 1 6 1-1 1 9 1-9 1 18 1-28 1 3 1-8 1 14 1-6 1 8 1-8 1 30 1-12 1 5 1-14 1 6 1-12 1 7 1-7 1 13 1-14 1 4 1-10 1 9 1-2 1 10 1-5 1 10 1-11 1 12 1-8 1 3 1-12 1 14 1-3 1 13 1-13 1 10 1-12 1 19 1-18 1 9 1-17 1 12 1-6 1 15 1-2 1 11 1-18 1 8 1-13 1 9 1-14 1 4 1-23 1 20 1-8 1 5 1-4 1 13 1-14 1 13 1-1 1 10 1-6 1 15 1-6 1 10 1-32 1 6 1-16 1 18 1-6 1 21 1-23 1 24 1-4 1 5 1-21 1 8 1-7 1 8 1-9 1 13 1-8 1 4 1-10 1 15 1-16 1 2 1-13 1 14 1-15 1 1 1 0 1 21 1-3 1 8 1-17 1 7 1 0 1 10 1-4 1 8 1-13 1 9 1-11 1 9 1-5 1 20 1-18 1 11 1-19 1 7 1-10 1 16 1-8 1 11 1-12 1 14 1-23 1 2 1-11 1 8 1 0 1 15 1-14 1 261 1-135 1 0 1-70 1 0 1-33 1 0 1-21 1 9 1-16 1 25 1-2 1 3 1-13 1 16 1-2 1 10 1-27 1 19 1-17 1 14 1-3 1 8 1-19 1 8 1-8 1 8 1-13 1 6 1-9 1 17 1-5 1 12 1-13 1 8 1-26 1 8 1-3 1 10 1-5 1 16 1-10 1 6 1-18 1 19 1-9 1 12 1-12 1 13 1-8 1 7 1-12 1 13 1-14 1 5 1-5 1 13 1-7 1 4 1-11 1 13 1-15 1 13 1-3 1 11 1-13 1 11 1-7 1 4 1-9 1 5 1-5 1 13 1-12 1 14 1-1 1 13 1-25 1 5 1-5 1 11 1-21 1 10 1-5 1 18 1-7 1 6 1-17 1 7 1-7 1 4 1-6 1 21 1-5 1 12 1-18 1 1 1-17 1 10 1-13 1 15 1-15 1 11 1-8 1 10 1-9 1 9 1-23 1 19 1-4 1 4 1-8 1 0 1-15 1 12 1 0 1 28 1-8 1 9 1-13 1 31 1-17 1 1 1-13 1 4 1-11 1 14 1-13 1 23 1-17 1 4 1-11 1 13 1-1 1 21 1-18 1 7 1-11 1 6 1-7 1 15 1-24 1 10 1-7 1 14 1-9 1 25 1-14 1 4 1-21 1 3 1-12 1 20 1-9 1 4 1-8 1 12 1-17 1 9 1-25 1 19 1-11 1 25 1-19 1 7 1-6 1 6 1-2 1 7 1-6 1 19 1-10 1 23 1-24 1 0 1-8 1 8 1-12 1 18 1-3 1 25 1-18 1 1 1-14 1 0 1-15 1 21 1-11 1 8 1-11 1 5 1-16 1 25 1-9 1 7 1-6 1 12 1-21 1 16 1-19 1 7 1-14 1 20 1-5 1 11 1-11 1 6 1 0 1 21 1-11 1 4 1-12 1 21 1-16 1 15 1-12 1 2 1-14 1 18 1-23 1 6 1-5 1 7 1-12 1 15 1-8 1 8 1-16 1 16 1-7 1 5 1-18 1 3 1-13 1 21 1-10 1 8 1-1 1 22 1-6 1 10 1-23 1 18 1-15 1 11 1-17 1 12 1-11 1 13 1-12 1 6 1-11 1 12 1-5 1 13 1-15 1 5 1-13 1 23 1-13 1 11 1-9 1 12 1-16 1 11 1-6 1 12 1-5 1 4 1-20 1 16 1-6 1 4 1-25 1 24 1-4 1 10 1-10 1 15 1-6 1 4 1-9 1 7 1-20 1 1 1-10 1 15 1-6 1 23 1-6 1 10 1-12 1 6 1-4 1 2 1-6 1 19 1-11 1 4 1-19 1 13 1-8 1 3 1-11 1 19 1-13 1 12 1-14 1 10 1-13 1 15 1-14 1 29 1-5 1 9 1-26 1 11 1-11 1 2 1-24 1 24 1-2 1 9 1-3 1 11 1-18 1 15 1-10 1 0 1-15 1 9 1-6 1 21 1-6 1 11 1-6 1 7 1-8 1 6 1-9 1 16 1-13 1 3 1-2 1 5 1-27 1 26 1-17 1 13 1-3 1 3 1-11 1 18 1-6 1 0 1-26 1 13 1-16 1 19 1-17 1 8 1-21 1 12 1-4 1 24 1-7 1 9 1-8 1 16 1-3 1 2 1-11 1 11 1-21 1 9 1-5 1 8 1-6 1 9 1-13 1 12 1-16 1 16 1-11 1 12 1-8 1 20 1-13 1 8 1-10 1 6 1-13 1 5 1-7 1 17 1-19 1 7 1-3 1 11 1-3 1 13 1-6 1 8 1-22 1 14 1-10 1 9 1-18 1 11 1-5 1 5 1-4 1 13 1-1 1 1 1-10 1 2 1-9 1 11 1-12 1 12 1-13 1 8 1-13 1 9 1-5 1 12 1-5 1 10 1-3 1 17 1-22 1 5 1-4 1 12 1-8 1 0 1-21 1 28 1-1 1 11 1-29 1 5 1-1 1 11 1-12 1 8 1-13 1 31 1-6 1 9 1-23 1 13 1-6 1 12 1-6 1 1 1-11 1 3 1-7 1 6 1-7 1 6 1-34 1 35 1-3 1 16 1-1 1 5 1 0 1 3 1-18 1 12 1-18 1 10 1-25 1 24 1-7 1 7 1-18 1 3 1-5 1 4 1-4 1 20 1-19 1 17 1-3 1 17 1-8 1 6 1-30 1 6 1-14 1 19 1-19 1 1 1-12 1 22 1-2"/>
<path stroke="#00B0F6" d="M0 -329l1 16 1-5 1 26 1-15 1 6 1-9 1 4 1-11 1 23 1-9 1 13 1-10 1 6 1-1 1 0 1-20 1 14 1-2 1 10 1-8 1 14 1-12 1 10 1 0 1 6 1-9 1 12 1-24 1 18 1-14 1 15 1-10 1 15 1-8 1 11 1-11 1 9 1-30 1 24 1-14 1 7 1-15 1 3 1-12 1 18 1-3 1 25 1-17 1 12 1-11 1 8 1-16 1 13 1-13 1 5 1-18 1 12 1-2 1 17 1-13 1 14 1-27 1 27 1-15 1 0 1-12 1 16 1-5 1 16 1-19 1 23 1-12 1 14 1-13 1 18 1-20 1 17 1-20 1 8 1-9 1 13 1-12 1 10 1-18 1 27 1-11 1 5 1-15 1 0 1-4 1 9 1-6 1 10 1-3 1 17 1-14 1 10 1-7 1 8 1-13 1 11 1-20 1 21 1-2 1 0 1-18 1 14 1-7 1 9 1-12 1 3 1-20 1 24 1-8 1 18 1-3 1 5 1-8 1 0 1-17 1 12 1 0 1 11 1-17 1 3 1 0 1 15 1-19 1 8 1-12 1 6 1-7 1 12 1-4 1 10 1-8 1 14 1-14 1 4 1-15 1 12 1-17 1 8 1-12 1 17 1-7 1 11 1-16 1 21 1-17 1 14 1-13 1 4 1-5 1 19 1-3 1 18 1-16 1 12 1-1 1 1 1-2 1 3 1-19 1 8 1-7 1 9 1-25 1 16 1 0 1 15 1-13 1 12 1-16 1 6 1-11 1 22 1-8 1 12 1-8 1 5 1-6 1 5 1-17 1 3 1-8 1 10 1-5 1 8 1-14 1 6 1-13 1 7 1-5 1 1 1-13 1 14 1-4 1 7 1-9 1 11 1 0 1 15 1-20 1 6 1-13 1 18 1-15 1 12 1-12 1 10 1-3 1 12 1-12 1 3 1-4 1 4 1-9 1 5 1-11 1 10 1-3 1 5 1-17 1 3 1-5 1 17 1-6 1 16 1-20 1 20 1-8 1 14 1-9 1 23 1-24 1 4 1-9 1 11 1-18 1 9 1-6 1 11 1-5 1 5 1-16 1 11 1-5 1 15 1-3 1 9 1-13 1 1 1-22 1 17 1-2 1 3 1-11 1 1 1-3 1 21 1 0 1 5 1-27 1 17 1 0 1 5 1-13 1 10 1-11 1 19 1-12 1 7 1-10 1 10 1-25 1 8 1-9 1 4 1-8 1 6 1-11 1 35 1-2 1 9 1-12 1 6 1-9 1 14 1-9 1 14 1-22 1 9 1-13 1 9 1-14 1 6 1-1 1 20 1-9 1 11 1-1 1 14 1-20 1 5 1-10 1 11 1-2 1 5 1-9 1 6 1-13 1 12 1-23 1 29 1-9 1 2 1-4 1 3 1-3 1 7 1-10 1 11 1-9 1 8 1-12 1 6 1-23 1 16 1-4 1 18 1-7 1 8 1-8 1 4 1-19 1 8 1-1 1 3 1-7 1 26 1-9 1 8 1-17 1 9 1-12 1 6 1-10 1 17 1-8 1 18 1-16 1 4 1-12 1 8 1-9 1 11 1-2 1 6 1-15 1 9 1-15 1 17 1-1 1 17 1-17 1 9 1-12 1 0 1-11 1 16 1-11 1 6 1-6 1 11 1-2 1 9 1-4 1 3 1-9 1 5 1-8 1 5 1-11 1 5 1-6 1 13 1-12 1 4 1-17 1 7 1-3 1 26 1-13 1 2 1-11 1 8 1-2 1 6 1-14 1 3 1-3 1 9 1-4 1 11 1-13 1 15 1-6 1 18 1-10 1 10 1-12 1 17 1-23 1 10 1-33 1 14 1-12 1 18 1-19 1 9 1-17 1 1 1-5 1 26 1-1 1 18 1-9 1 8 1-16 1 4 1-5 1 23 1-9 1 15 1-13 1 3 1-11 1 6 1-16 1 7 1-11 1 10 1-9 1 16 1-12 1 10 1-16 1 8 1-16 1 15 1-5 1 10 1-19 1 11 1-3 1 15 1-9 1 15 1-23 1 16 1-18 1 12 1-11 1 15 1-7 1 11 1-11 1 1 1-3 1 14 1-6 1 32 1-16 1 1 1-11 1 15 1-15 1 6 1-25 1 11 1-5 1 17 1-14 1 19 1-8 1 13 1-19 1 9 1-8 1 21 1-14 1 10 1-6 1 9 1-17 1 4 1-21 1 13 1 0 1 259 1-143 1 0 1-56 1 4 1-32 1 7 1-38 1 10 1-13 1 9 1-9 1 12 1-12 1 6 1-8 1 7 1-4 1 9 1-9 1 0 1-8 1 14 1-13 1 25 1-12 1 2 1-15 1 11 1-19 1 13 1-4 1 12 1-14 1 12 1-15 1 19 1-16 1 15 1-9 1 14 1-6 1 19 1-29 1 23 1-15 1 0 1-1 1 23 1-24 1 3 1-8 1 10 1-8 1 26 1-8 1 10 1-13 1 10 1-13 1 11 1-27 1 2 1-10 1 12 1-3 1 18 1-17 1 8 1-4 1 1 1-17 1 11 1-5 1 19 1-1 1 2 1-7 1 9 1-6 1 15 1-9 1 16 1-12 1 5 1-10 1 14 1-15 1 3 1-19 1 18 1-5 1 9 1-7 1 0 1-9 1 7 1-14 1 13 1-10 1 8 1-11 1 13 1-4 1 10 1-22 1 23 1-11 1 12 1-26 1 3 1-12 1 20 1-9 1 15 1-2 1 14 1-22 1 19 1-10 1 2 1-17 1 7 1-10 1 15 1-9 1 14 1-7 1 14 1-3 1 11 1-20 1 14 1-17 1 3 1-4 1 9 1-13 1 22 1-11 1 11 1-14 1 19 1-21 1 8 1-11 1 24 1-14 1 16 1-6 1 1 1-7 1 10 1-9 1 8 1-9 1 20 1-16 1 4 1-27 1 7 1-2 1 17 1-4 1 6 1-17 1 14 1-16 1 17 1-16 1 12 1-14 1 19 1-21 1 22 1-18 1 16 1-14 1 9 1-8 1 8 1-16 1 8 1-19 1 30 1-8 1 18 1-11 1 0 1-4 1 10 1-17 1 0 1-5 1 19 1-25 1 24 1-6 1 4 1-16 1 4 1-21 1 21 1-10 1 14 1-3 1 16 1-16 1 10 1-11 1 0 1-7 1 7 1-6 1 3 1-9 1 20 1-14 1 15 1-9 1 16 1-5 1 14 1-16 1 3 1-17 1 9 1-5 1 8 1-13 1 24 1-19 1 17 1-7 1 12 1-23 1 16 1-17 1 8 1-10 1 4 1-14 1 3 1-2 1 22 1-22 1 4 1-2 1 21 1-4 1 1 1-6 1 10 1-9 1 16 1-9 1 0 1-10 1 9 1-13 1 22 1-10 1 17 1-17 1 7 1-14 1 16 1-18 1 10 1-9 1 9 1-8 1 15 1-5 1 9 1-3 1 22 1-19 1 4 1-34 1 14 1-1 1 0 1-9 1 26 1-6 1 10 1-14 1 11 1-16 1 4 1-15 1 10 1-6 1 2 1-8 1 4 1-8 1 27 1-4 1 4 1-18 1 19 1-11 1 3 1-7 1 20 1-10 1 4 1-9 1 9 1-25 1 11 1-7 1 23 1-2 1 10 1-14 1 6 1-10 1 6 1-14 1 9 1-25 1 9 1 0 1 19 1-3 1 7 1-14 1 1 1-6 1 3 1-13 1 22 1-22 1 6 1-11 1 22 1-18 1 25 1-9 1 8 1-10 1 22 1-23 1 15 1-3 1 13 1-9 1 3 1-9 1 11 1-12 1 3 1-22 1 14 1-8 1 21 1-8 1 11 1-22 1 3 1-1 1 19 1-15 1 5 1-2 1 11 1-10 1 10 1-16 1 4 1-5 1 23 1-4 1 9 1-17 1 12 1-15 1 7 1-10 1 12 1-7 1 5 1 0 1 7 1-14 1 2 1-3 1 3 1-2 1 16 1-9 1 12 1-10 1 3 1-16 1 13 1-14 1 19 1-6 1 7 1-26 1 0 1-7 1 20 1-1 1 20 1-17 1 9 1-22 1 2 1-4 1 18 1-12 1 9 1-12 1 14 1-12 1 10 1-14 1 21 1-10 1 21 1-28 1 0 1-8 1 27 1-10 1 12 1-2 1 1 1-11 1 11 1-10 1 15 1-4 1 3 1-12 1 8 1-15 1 10 1-15 1 5 1-2 1 4 1-4 1 19 1-24 1 9 1-12 1 9 1-5 1 9 1-27 1 17 1 0 1 21 1-14 1 10 1-5 1 3 1-7 1 18 1-7 1 2 1-13 1 15 1-17 1 1 1-15 1 19 1-2 1 4 1-9 1 13 1-16 1 14 1-13 1 6 1-10 1 1 1-12 1 13 1-25 1 22 1-13 1 3 1-7 1 23 1-8 1 12 1-15 1 13 1-9 1 21 1-2 1 4 1-22"/>
<path stroke="#9590FF" d="M0 -329l1 18 1 0 1 34 1-23 1 10 1-7 1 5 1-19 1 10 1 0 1 21 1-15 1 2 1-8 1 17 1-12 1 4 1-15 1 19 1-12 1 9 1-4 1 8 1-14 1 14 1-19 1 15 1-32 1 28 1-11 1 13 1-8 1 12 1-10 1 14 1-22 1 14 1-8 1 17 1-9 1 3 1-7 1 13 1-6 1 7 1-14 1 14 1-9 1 14 1-21 1 7 1-10 1 8 1-8 1 14 1-3 1 4 1-19 1 14 1-7 1 12 1-23 1 17 1-13 1 12 1-8 1 18 1-12 1 11 1-21 1 2 1-12 1 19 1-2 1 26 1-11 1 5 1-18 1 10 1-8 1 11 1-3 1 3 1-1 1 8 1-13 1 4 1-11 1 12 1-13 1 5 1-3 1 10 1-14 1 0 1-19 1 21 1-8 1 16 1-5 1 16 1-19 1 11 1-15 1 3 1-4 1 6 1-10 1 15 1 0 1 24 1-22 1 1 1-4 1 6 1-14 1 19 1-24 1 18 1-8 1 6 1-10 1 9 1-16 1 9 1-1 1 8 1-3 1 11 1-5 1 8 1-8 1 7 1-13 1 11 1-6 1 4 1-3 1 4 1-7 1 7 1-11 1 12 1-14 1 14 1-15 1 4 1-8 1 11 1-22 1 19 1-8 1 14 1-4 1 2 1-14 1 17 1-20 1 23 1-15 1 5 1-22 1 10 1-9 1 26 1-17 1 21 1-7 1 8 1-5 1 6 1-7 1 17 1-13 1 2 1-7 1 9 1-7 1 7 1-22 1 8 1-8 1 7 1-25 1 29 1-1 1 1 1-5 1 15 1-19 1 15 1-11 1 1 1-9 1 14 1-11 1 16 1-19 1 8 1-12 1 12 1-8 1 15 1-7 1 7 1-1 1 5 1-14 1 18 1-3 1 9 1-14 1 4 1-20 1 6 1-8 1 14 1-10 1 16 1-9 1 9 1-18 1 11 1-10 1 15 1-9 1 16 1-15 1 6 1-8 1 13 1-11 1 1 1-9 1 28 1-11 1 11 1-1 1 5 1-13 1 12 1-7 1 13 1-12 1 6 1-19 1 9 1-5 1 20 1-15 1 4 1-19 1 21 1-12 1 0 1-12 1 18 1-10 1 11 1-9 1 23 1-27 1 6 1-15 1 19 1-15 1 23 1 0 1 8 1-7 1 13 1-17 1 4 1-4 1 11 1-22 1 12 1-8 1 6 1-10 1 8 1-15 1 0 1-17 1 24 1-7 1 8 1 0 1 23 1-12 1 16 1-35 1 1 1-13 1 20 1-3 1 14 1-18 1 9 1-12 1 11 1-6 1 7 1-11 1 15 1-6 1 1 1-6 1 14 1-12 1 9 1-15 1 14 1-8 1 16 1-8 1 8 1-4 1 0 1-15 1 14 1-7 1 14 1-19 1 8 1-14 1 15 1-15 1 5 1-6 1 8 1 0 1 18 1-10 1 0 1-20 1 30 1-11 1 13 1-16 1 20 1-19 1 4 1-7 1 15 1-9 1 12 1-30 1 9 1-11 1 4 1-21 1 26 1-14 1 12 1-18 1 9 1-7 1 13 1-16 1 14 1-11 1 11 1-3 1 19 1 0 1 8 1-14 1 14 1-9 1 10 1-27 1 10 1-11 1 18 1 0 1 12 1 0 1 9 1-26 1 13 1-13 1 1 1-8 1 4 1-5 1 4 1-10 1 15 1-22 1 25 1-4 1 15 1-20 1 9 1-18 1 7 1-7 1 13 1-12 1 19 1-10 1 3 1-8 1 14 1-7 1 7 1-14 1 24 1-15 1 19 1-10 1 8 1-19 1 7 1-1 1 10 1-13 1 11 1-26 1 8 1-13 1 14 1-4 1 17 1-10 1 9 1-24 1 14 1-2 1 4 1-6 1 21 1-14 1 8 1 0 1 13 1-19 1 8 1-12 1 10 1-13 1 32 1-17 1 7 1-7 1 0 1-9 1 4 1-12 1 8 1-16 1 14 1-10 1 21 1-8 1 0 1-11 1 19 1-21 1 8 1-9 1 20 1-4 1 11 1-13 1 19 1-14 1 6 1-7 1 15 1-36 1 11 1-9 1 16 1-4 1 8 1-13 1 15 1-15 1 16 1-8 1 16 1-11 1 19 1-17 1 6 1-7 1 13 1-6 1 11 1-17 1 13 1-16 1 6 1-9 1 9 1-10 1 7 1-3 1 242 1-119 1 0 1-69 1 0 1-38 1 5 1-12 1 15 1-11 1 2 1-16 1 19 1-25 1 11 1-8 1 19 1-12 1 5 1-20 1 9 1-8 1 3 1-8 1 17 1-16 1 8 1-9 1 9 1-5 1 14 1-8 1 24 1-25 1 11 1-9 1 8 1-17 1 11 1-2 1 21 1-17 1 0 1-19 1 13 1-9 1 9 1-1 1 10 1-1 1 2 1-9 1 7 1-9 1 13 1-16 1 3 1-6 1 22 1-13 1 2 1-11 1 11 1-22 1 16 1-5 1 8 1-11 1 16 1-4 1 6 1-12 1 25 1-16 1 11 1-10 1 16 1-10 1 6 1-16 1 7 1-5 1 11 1-4 1 9 1-19 1 0 1-17 1 15 1-3 1 5 1-7 1 11 1-12 1 16 1-9 1 13 1-6 1 3 1-11 1 22 1-28 1 6 1-3 1 17 1-9 1 0 1-13 1 9 1-4 1 16 1-7 1 21 1-12 1 13 1-15 1 7 1-8 1 4 1-12 1 6 1-5 1 14 1-16 1 18 1-5 1 6 1-14 1 2 1-5 1 11 1-10 1 1 1-29 1 10 1-2 1 20 1-10 1 12 1-12 1 8 1-13 1 17 1-11 1 18 1-4 1 16 1-7 1 2 1-21 1 19 1-12 1 19 1-17 1 14 1-3 1 6 1-11 1 10 1-21 1 4 1-8 1 13 1-8 1 7 1 0 1 12 1-17 1 12 1-31 1 15 1-5 1 7 1-22 1 28 1-21 1 13 1-7 1 8 1-15 1 11 1-15 1 22 1-3 1 19 1-14 1 5 1-26 1 12 1-16 1 11 1-6 1 10 1-6 1 3 1-8 1 24 1-2 1 5 1-8 1 5 1-8 1 19 1-11 1 2 1-11 1 9 1-11 1 16 1 0 1 8 1-20 1 17 1-11 1 15 1-26 1 5 1-20 1 11 1-7 1 13 1-5 1 26 1-9 1 15 1-26 1 3 1-11 1 10 1-2 1 13 1-7 1 3 1-24 1 30 1-7 1 6 1-17 1 8 1-16 1 1 1-5 1 30 1-17 1 13 1-2 1 7 1-17 1 12 1-13 1 15 1-10 1 3 1-17 1 16 1-10 1 16 1-28 1 13 1-9 1 14 1-7 1 16 1-9 1 27 1-12 1 7 1-5 1 0 1-32 1 24 1-5 1 5 1-17 1 7 1-6 1 33 1-5 1 0 1-26 1 2 1-16 1 18 1-15 1 15 1-2 1 18 1-24 1 8 1-3 1 14 1-18 1 7 1-4 1 18 1-24 1 0 1-7 1 24 1-10 1 11 1 0 1 7 1-12 1 14 1-24 1 1 1-7 1 23 1-12 1 15 1-24 1 11 1-9 1 22 1-16 1 2 1-7 1 13 1-10 1 12 1-12 1 5 1-6 1 3 1-2 1 11 1-10 1 6 1-5 1 13 1-12 1 4 1-11 1 23 1-6 1 10 1-12 1 3 1-17 1 12 1-12 1 14 1-9 1 6 1-6 1 20 1-17 1 10 1-26 1 14 1-4 1 23 1-11 1 6 1-3 1 14 1-7 1 10 1-26 1 12 1-8 1 9 1-10 1 8 1-15 1 14 1-15 1 10 1-13 1 28 1-16 1 14 1-12 1 4 1-15 1 7 1-4 1 2 1-2 1 19 1-9 1 12 1-22 1 7 1-15 1 16 1-3 1 5 1-18 1 8 1-8 1 17 1-9 1 17 1-11 1 2 1-5 1 5 1-10 1 8 1-17 1 18 1-20 1 18 1-16 1 16 1-12 1 12 1-16 1 14 1-7 1 14 1-7 1 14 1-11 1 16 1-19 1 9 1-6 1 8 1-15 1 10 1-3 1 2 1-23 1 9 1-10 1 9 1-3 1 8 1-5 1 16 1-12 1 5 1-13 1 4 1-7 1 27 1-1 1 8 1-12 1 12 1-8 1 7 1-27 1 30 1-14 1 3 1-25 1 18 1-9 1 25 1-15 1 5 1-19 1 9 1-4 1 11 1-2 1 8 1-13 1 6 1-3 1 17 1-14 1 7 1-17 1 23 1-13 1 13 1-12 1 9 1-6 1 2 1-21 1 17 1-13 1 18 1-1 1 22 1-10 1 3 1-29 1 9 1-4 1 8 1-15 1 15 1-2 1 1 1-19 1 7 1-12 1 19 1-1 1 7 1-8 1 12 1-5"/>
<path stroke="#E76BF3" d="M0 -329l1 17 1-6 1 25 1-6 1 14 1-16 1 6 1-3 1 12 1-3 1 3 1-26 1 15 1-13 1 7 1-10 1 21 1-6 1 16 1-15 1 4 1-12 1 11 1-13 1 15 1-10 1 4 1-17 1 5 1-3 1 16 1-6 1 16 1-4 1 10 1-15 1 13 1-16 1 6 1-7 1 9 1-14 1 7 1-9 1 17 1-2 1 10 1-12 1 0 1-10 1 24 1-1 1 4 1-24 1 28 1-19 1 7 1-14 1 0 1-5 1 17 1-12 1 4 1-5 1 17 1-8 1 3 1-17 1 20 1-5 1 23 1-8 1 5 1-34 1 6 1-11 1 16 1-6 1 8 1-12 1 11 1-15 1 16 1-11 1 9 1-1 1 12 1-16 1 16 1-11 1 13 1-6 1 12 1-16 1 14 1-21 1 4 1-5 1 26 1-11 1 0 1-10 1 7 1-14 1 22 1-15 1 12 1-13 1 1 1-15 1 6 1-5 1 5 1-8 1 24 1-13 1 18 1-5 1 4 1 0 1 10 1-17 1 9 1-23 1 14 1-8 1 14 1-10 1 24 1-8 1 5 1-17 1 6 1-12 1 10 1-3 1 12 1-20 1 13 1-21 1 9 1-11 1 26 1-16 1 13 1-1 1 7 1-7 1 8 1-7 1 25 1-18 1 2 1-23 1 25 1-24 1 9 1-9 1 18 1-24 1 2 1-15 1 28 1-11 1 11 1-5 1 4 1-1 1 0 1-12 1 18 1-14 1 0 1-11 1 28 1-7 1 15 1-14 1 13 1-16 1 15 1-8 1 14 1-28 1 8 1-13 1 5 1-4 1 24 1-11 1 11 1-5 1 3 1-18 1 16 1-16 1 14 1-23 1 12 1-9 1 7 1-4 1 14 1-12 1 6 1-8 1 29 1-22 1 1 1-24 1 23 1-15 1 3 1-3 1 17 1-1 1 12 1-7 1 4 1-6 1 1 1-12 1 17 1-11 1 6 1-11 1 17 1-17 1 11 1-14 1 14 1 0 1 7 1-8 1 5 1-10 1 19 1-8 1 9 1-27 1 15 1-2 1 9 1-11 1 6 1-8 1 0 1-20 1 11 1-12 1 28 1-14 1 13 1-11 1 18 1-11 1 21 1-31 1 8 1-12 1 23 1-17 1 1 1-10 1 13 1-12 1 5 1-6 1 26 1-8 1 9 1-9 1 1 1-15 1 11 1-5 1 8 1-8 1 15 1-15 1 12 1-11 1 13 1-11 1 0 1-5 1 9 1-11 1 20 1-18 1 2 1-16 1 16 1-5 1 10 1-15 1 8 1-9 1 2 1-7 1 17 1-1 1 3 1-21 1 16 1-3 1 10 1-12 1 10 1-13 1 15 1-11 1 6 1-9 1 7 1-12 1 13 1-3 1 12 1-3 1 4 1-14 1 12 1-14 1 12 1 0 1 13 1-16 1 15 1-10 1 5 1-26 1 13 1-5 1 14 1-5 1 13 1-10 1 13 1-26 1 14 1-7 1 11 1-8 1 12 1-21 1 20 1-10 1 7 1-9 1 15 1-6 1 4 1-14 1 16 1-23 1 16 1-21 1 7 1-9 1 6 1-3 1 7 1-6 1 13 1-14 1 9 1-14 1 6 1-14 1 31 1-13 1 9 1-8 1 10 1-7 1 0 1-15 1 10 1-17 1 33 1-21 1 9 1-6 1 16 1-4 1 22 1-19 1 7 1-11 1 11 1-14 1 14 1-11 1 5 1-11 1 11 1-16 1 16 1-13 1 13 1-10 1 2 1-1 1 7 1-15 1 16 1-7 1 7 1 0 1 6 1-16 1 19 1-24 1 21 1-13 1 1 1-4 1 11 1-23 1 18 1-9 1 12 1-26 1 13 1-11 1 31 1-19 1 3 1-21 1 18 1-8 1 5 1-5 1 8 1-8 1 17 1-7 1 7 1-9 1 10 1-7 1 13 1-1 1 7 1-6 1 13 1-16 1 11 1-3 1 6 1-10 1 9 1-12 1 5 1-12 1 16 1-3 1 2 1-11 1 19 1-8 1 4 1-11 1 7 1-24 1 7 1-6 1 12 1-16 1 7 1-4 1 4 1-15 1 18 1-18 1 14 1-11 1 22 1-26 1 30 1-9 1 7 1-9 1 9 1-15 1 18 1-12 1 13 1-9 1 4 1-11 1 18 1-4 1 4 1-30 1 17 1-5 1 9 1-7 1 245 1-119 1 0 1-84 1 3 1-14 1 1 1-22 1 4 1-22 1 30 1-21 1 8 1-17 1 12 1-22 1 5 1-8 1 12 1-8 1 11 1-3 1 35 1-26 1 17 1-14 1 18 1-8 1 5 1-15 1 4 1-19 1 20 1-8 1 13 1-14 1 25 1-9 1 11 1-15 1 5 1-11 1 4 1-18 1 19 1-15 1 20 1-19 1 16 1-8 1 6 1 0 1 10 1-12 1 0 1-18 1 25 1-6 1 10 1-18 1 15 1-7 1 7 1-7 1 7 1-18 1 8 1-12 1 12 1-13 1 23 1-2 1 0 1-7 1 17 1-27 1 8 1-9 1 12 1-4 1 8 1-10 1 10 1-34 1 12 1-14 1 21 1-5 1 12 1-11 1 17 1-6 1 0 1-19 1 12 1 0 1 32 1-10 1 21 1-28 1 18 1-6 1 1 1-17 1 1 1-7 1 4 1-14 1 6 1-16 1 10 1-11 1 8 1-2 1 14 1-9 1 30 1-28 1 19 1-11 1 13 1-7 1 4 1-5 1 7 1-14 1 16 1-12 1 2 1-15 1 11 1-8 1 5 1-7 1 7 1-19 1 16 1-9 1 20 1-4 1 1 1-17 1 19 1-4 1 14 1-11 1 9 1-8 1 9 1-12 1 1 1 0 1 3 1-18 1 7 1-8 1 10 1-10 1 12 1-9 1 18 1-13 1 8 1-8 1 13 1-4 1 9 1-17 1 30 1-33 1 13 1-13 1 27 1-20 1 15 1-7 1 11 1-7 1 13 1-8 1 5 1-19 1 12 1-12 1 11 1-13 1 13 1-16 1 7 1-9 1 16 1-10 1 7 1-6 1 16 1-10 1 17 1-7 1 0 1-15 1 13 1-4 1 3 1-7 1 14 1-12 1 16 1-31 1 8 1-8 1 22 1-11 1 19 1-3 1 6 1-19 1 9 1-18 1 9 1-22 1 17 1-17 1 23 1-9 1 5 1-19 1 9 1-15 1 24 1-10 1 8 1-13 1 20 1-5 1 10 1-5 1 5 1-18 1 13 1-15 1 9 1-12 1 0 1-13 1 29 1-11 1 9 1-11 1 6 1-7 1 11 1-10 1 21 1-17 1 4 1-11 1 11 1-14 1 26 1-13 1 9 1-13 1 9 1-16 1 29 1-17 1 12 1-30 1 19 1-9 1 14 1-17 1 5 1-13 1 19 1-9 1 13 1-2 1 18 1-24 1 2 1-8 1 11 1-13 1 26 1-6 1 2 1-16 1 8 1-12 1 16 1-15 1 3 1-13 1 13 1-15 1 27 1-5 1 10 1-8 1 10 1-25 1 8 1-11 1 11 1-4 1 16 1-8 1 6 1-9 1 0 1-7 1 13 1-20 1 4 1-8 1 19 1-14 1 7 1-14 1 1 1-1 1 16 1-9 1 26 1-13 1 3 1-12 1 13 1-3 1 3 1-14 1 24 1-7 1 16 1-21 1 5 1-4 1 12 1-10 1 11 1-14 1 5 1-21 1 11 1 0 1 9 1-8 1 3 1-13 1 8 1-13 1 12 1-1 1 5 1-12 1 7 1-12 1 19 1-5 1 3 1-9 1 8 1-5 1 15 1-7 1 5 1-9 1 12 1-4 1 12 1-14 1 13 1-10 1 3 1-11 1 23 1-12 1 0 1-25 1 20 1-5 1 26 1-26 1 23 1-19 1 12 1-16 1 8 1-19 1 18 1 0 1 13 1-2 1 1 1-31 1 4 1-14 1 12 1-5 1 21 1-7 1 17 1-5 1 10 1-17 1 4 1-10 1 20 1-18 1 15 1-15 1 1 1-12 1 27 1-23 1 4 1-14 1 23 1-5 1 11 1-19 1 5 1 0 1 13 1-10 1 8 1-4 1 5 1-13 1 16 1-9 1 0 1-12 1 12 1-15 1 9 1-5 1 19 1-9 1 27 1-7 1 11 1-20 1 5 1-24 1 25 1-7 1 11 1-24 1 1 1-3 1 10 1-14 1 20 1-7 1 2 1-23 1 6 1-15 1 39 1 0 1 10 1-7 1 6 1-21 1 0 1-13 1 21 1-9 1 8 1-5 1 0 1-16 1 11 1-1 1 9 1-13 1 10 1-11 1 23 1-13 1 9 1-15 1 17 1-16 1 15 1-11 1 16 1-6 1 8 1-13 1 11 1-9 1 12 1-17 1 2 1-6 1 20 1-13"/>
<path stroke="#FF62BC" d="M0 -329l1 13 1 0 1 27 1-15 1 15 1-20 1 13 1-4 1 22 1-3 1 0 1-24 1 15 1-18 1 23 1-13 1 7 1-4 1 11 1-4 1 6 1-24 1 12 1-2 1 12 1-14 1 20 1-9 1 0 1-24 1 23 1-19 1 6 1-9 1 20 1-5 1 12 1-3 1 10 1-13 1 17 1-16 1 8 1-1 1 11 1-12 1 17 1-30 1 0 1-5 1 18 1-10 1 0 1-11 1 15 1-7 1 21 1-17 1 18 1-8 1 9 1-13 1 2 1-11 1 10 1-15 1 10 1-13 1 11 1-22 1 13 1 0 1 8 1-9 1 8 1-7 1 7 1-10 1 4 1-1 1 16 1-11 1 10 1-9 1 6 1-6 1 15 1-20 1 4 1 0 1 2 1-23 1 17 1 0 1 9 1-9 1 17 1-12 1 12 1-12 1 1 1-23 1 17 1 0 1 18 1-5 1 3 1-18 1 27 1-16 1 7 1-10 1 6 1-5 1 7 1-6 1 5 1-12 1 12 1-8 1 9 1-20 1 14 1 0 1 11 1-10 1 3 1-24 1 12 1 0 1 13 1-6 1 4 1-11 1 2 1-8 1 14 1-7 1 9 1-15 1 6 1-4 1 17 1-13 1 4 1-8 1 27 1-22 1 9 1-7 1 17 1-11 1 2 1-20 1 20 1-4 1 2 1-4 1 15 1-12 1 3 1-7 1 13 1-16 1 5 1-7 1 13 1-12 1 11 1-18 1 15 1-1 1 4 1-9 1 11 1-11 1 14 1-11 1 16 1-7 1 10 1-21 1 1 1-7 1 30 1-27 1 1 1-15 1 29 1-19 1 11 1-1 1 16 1-15 1 6 1-14 1 15 1-22 1 21 1-10 1 11 1-7 1 12 1-4 1 10 1-20 1 5 1-11 1 30 1-9 1 4 1-26 1 4 1-4 1 7 1-10 1 15 1-13 1 20 1-19 1 24 1-18 1 20 1-18 1 1 1-5 1 12 1-4 1 0 1-25 1 9 1-7 1 7 1-11 1 15 1-3 1 11 1-11 1 11 1-21 1 14 1-3 1 13 1-13 1 17 1-8 1 1 1-23 1 15 1-5 1 20 1-11 1 13 1-2 1 0 1-4 1 7 1-16 1 3 1-5 1 11 1-19 1 4 1-15 1 27 1-1 1 7 1-24 1 19 1-6 1 0 1-8 1 10 1-2 1 12 1-7 1 5 1-24 1 25 1-11 1 5 1-6 1 16 1-21 1 22 1-21 1 18 1-8 1 8 1-4 1 17 1-10 1 13 1-11 1 2 1-16 1 11 1-7 1 6 1-13 1 19 1-24 1 7 1-3 1 10 1-8 1 2 1-7 1 20 1-14 1 8 1-13 1 8 1-10 1 15 1-5 1 2 1-18 1 14 1-15 1 17 1-9 1 13 1-2 1 14 1-13 1 4 1-15 1 19 1-5 1 8 1-10 1 14 1-5 1 2 1-16 1 17 1-11 1 8 1-21 1 20 1-14 1 0 1-3 1 17 1-24 1 6 1-12 1 16 1-4 1 12 1-12 1 11 1-14 1 14 1-7 1 14 1-16 1 14 1-10 1 14 1-13 1 17 1-11 1 4 1-11 1 11 1-11 1 14 1-15 1 20 1-9 1 3 1-12 1 11 1-13 1 3 1-9 1 24 1-3 1 0 1-28 1 12 1-19 1 13 1-1 1 15 1-8 1 17 1-17 1 10 1-10 1 8 1-10 1 14 1-19 1 9 1-9 1 19 1-15 1 3 1-6 1 9 1-3 1 6 1-10 1 8 1-12 1 16 1-13 1 5 1-9 1 13 1-11 1 13 1-7 1 2 1-4 1 6 1-15 1 14 1-20 1 9 1-16 1 23 1-3 1 16 1-6 1 12 1-10 1 16 1-19 1 1 1-6 1 16 1-19 1 16 1-15 1 3 1-15 1 9 1-11 1 18 1-1 1 21 1-10 1 1 1-14 1 4 1-19 1 7 1-18 1 8 1-3 1 14 1-10 1 20 1-4 1 18 1-8 1 1 1-23 1 10 1-5 1 7 1-12 1 14 1-8 1 21 1-18 1 16 1-26 1 20 1-3 1 19 1-25 1 7 1-8 1 11 1-7 1 14 1-17 1 16 1-18 1 17 1-3 1 9 1-34 1 6 1-5 1 24 1 0 1 19 1-23 1 8 1-3 1 10 1-12 1 10 1-10 1 247 1-138 1 0 1-75 1 1 1-20 1 1 1-23 1 3 1-12 1 18 1-10 1 9 1-9 1 8 1-5 1 15 1-26 1 18 1-3 1 3 1-17 1 10 1-6 1 18 1-23 1 23 1 0 1 6 1-4 1 7 1-12 1 10 1-17 1 13 1-22 1 10 1-18 1 25 1-19 1 1 1-2 1 15 1-7 1 7 1-14 1 16 1-6 1 19 1-16 1 8 1-9 1 15 1-11 1 1 1-13 1 11 1-24 1 7 1-2 1 10 1-16 1 9 1-6 1 20 1-9 1 0 1-9 1 21 1 0 1 1 1-4 1 21 1-26 1 1 1-9 1 18 1-12 1 7 1-4 1 22 1-9 1 0 1-16 1 3 1-10 1 6 1-6 1 22 1-20 1 0 1-13 1 10 1-11 1 15 1-1 1 22 1-21 1 2 1-7 1 18 1-13 1 25 1-13 1 4 1-25 1 25 1-9 1 11 1-17 1 17 1-18 1 11 1-14 1 8 1-12 1 17 1-12 1 4 1-10 1 7 1 0 1 7 1 0 1 13 1-19 1 21 1-19 1 4 1-13 1 15 1-15 1 2 1-9 1 29 1-4 1 4 1-22 1 15 1-23 1 16 1-4 1 20 1-18 1 9 1-4 1 17 1-6 1 3 1-10 1 13 1-14 1 3 1-3 1 6 1-13 1 13 1-4 1 26 1-17 1 6 1-16 1 4 1-15 1 13 1-12 1 20 1-13 1 3 1-17 1 28 1-9 1 9 1-3 1 13 1-15 1 0 1-17 1 20 1-12 1 7 1-9 1 10 1-18 1 27 1-5 1 0 1-13 1 10 1-13 1 15 1-8 1 6 1-12 1 11 1-20 1 26 1-14 1 17 1-15 1 3 1-4 1 9 1-5 1 8 1-6 1 3 1-15 1 4 1-10 1 11 1-2 1 9 1-19 1 14 1-13 1 4 1-7 1 8 1-16 1 12 1 0 1 16 1-11 1 4 1-12 1 14 1-6 1 18 1-3 1 9 1-24 1 12 1-19 1 12 1-8 1 10 1-9 1 13 1-16 1 9 1-10 1 5 1-11 1 24 1 0 1 13 1-6 1 9 1-24 1 4 1-14 1 21 1-21 1 3 1-12 1 9 1-13 1 21 1-6 1 14 1-19 1 9 1-3 1 9 1-7 1 9 1-14 1 5 1-14 1 27 1-4 1 13 1-10 1 8 1-9 1 9 1-22 1 11 1-7 1 14 1-26 1 18 1-6 1 11 1-16 1 0 1-7 1 19 1-7 1 6 1-11 1 21 1-15 1 9 1-6 1 1 1-3 1 8 1-5 1 3 1-16 1 9 1-5 1 10 1-6 1 1 1-14 1 14 1-8 1 18 1-14 1 8 1-6 1 17 1-12 1 4 1-3 1 15 1-20 1 12 1-11 1 15 1-14 1 10 1-11 1 4 1-17 1 13 1-16 1 5 1-8 1 18 1-6 1 14 1-19 1 5 1-6 1 17 1-5 1 8 1 0 1 15 1-16 1 4 1-9 1 13 1-3 1 15 1-33 1 11 1-3 1 4 1-14 1 39 1 0 1 13 1-15 1 10 1-43 1 6 1-12 1 14 1 0 1 16 1-21 1 4 1-5 1 20 1-11 1 0 1-17 1 20 1-10 1 15 1-11 1 9 1-3 1 18 1-4 1 6 1-29 1 9 1-7 1 17 1-20 1 2 1-6 1 14 1-13 1 19 1-9 1 14 1-11 1 5 1-11 1 3 1-2 1 13 1-12 1 2 1-20 1 15 1-2 1 11 1-10 1 3 1-16 1 22 1 0 1 13 1-18 1 2 1-10 1 5 1-6 1 19 1-13 1 2 1-23 1 11 1-14 1 24 1-13 1 14 1 0 1 13 1-19 1 9 1 0 1 11 1-12 1 10 1-22 1 5 1-12 1 21 1-12 1 10 1-8 1 14 1-17 1 14 1-11 1 11 1-10 1 6 1-16 1 10 1-6 1 24 1-12 1 10 1-13 1 1 1-8 1 5 1-3 1 7 1-6 1 12 1-8 1 12 1-15 1 4 1-12 1 12 1-7 1 7 1-16 1 23 1-10 1 6 1-16 1 10 1-3 1 9 1-14 1 12 1-1 1 12 1-10 1 15 1-11 1 14 1-12 1 8 1-21 1 1 1-7 1 13 1-14 1 24 1-8 1 1 1-20 1 27 1-6 1 16 1-10"/>
</g>
<line class="hk" x1="1168.1" x2="2000" y1="860.45" y2="860.45"/>
<text class="tk" x="1158.8" y="748.10" text-anchor="end">2</text>
<text class="tk" x="1158.8" y="912.60" text-anchor="end">0</text>
<text class="tk" x="1158.8" y="1077.10" text-anchor="end">−2</text>
<text class="tk" x="1206.4" y="1198.5" text-anchor="middle">0</text>
<text class="tk" x="1395.53" y="1198.5" text-anchor="middle">25</text>
<text class="tk" x="1584.65" y="1198.5" text-anchor="middle">50</text>
<text class="tk" x="1773.78" y="1198.5" text-anchor="middle">75</text>
<text class="tk" x="1962.9" y="1198.5" text-anchor="middle">100</text>
<text class="ax" transform="translate(1584 1228.5) scale(1 1.05)" text-anchor="middle">Time</text>
<text class="ax" transform="translate(1129.6 907) rotate(-90) scale(1 1.05)" text-anchor="middle">Social state (Z)</text>
<text class="lab" x="1046.5" y="671.2">D</text>
</g>
</svg>
</body></html>
